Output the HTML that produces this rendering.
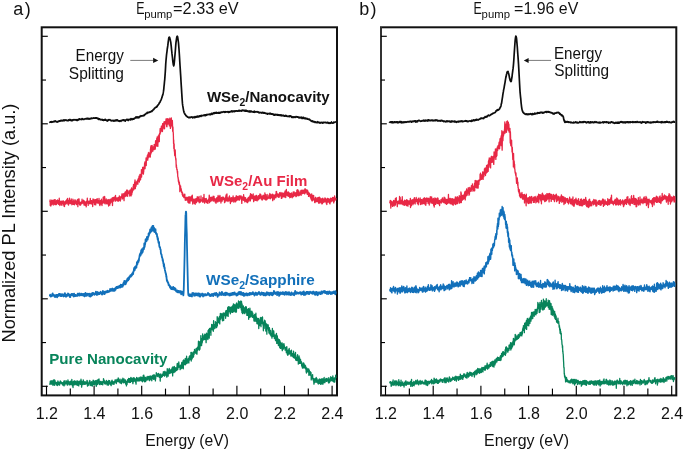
<!DOCTYPE html>
<html><head><meta charset="utf-8"><style>
html,body{margin:0;padding:0;background:#fff;width:685px;height:452px;overflow:hidden}
svg{display:block;will-change:transform}
</style></head><body>
<svg width="685" height="452" viewBox="0 0 685 452">
<rect width="685" height="452" fill="#fff"/>
<style>
text { font-family: "Liberation Sans", sans-serif; fill:#111; }
.tk { font-size: 16px; }
.lb { font-size: 15.7px; }
.bd { font-size: 15.3px; font-weight: bold; }
</style>
<rect x="41.7" y="27.3" width="295.3" height="368.1" fill="none" stroke="#111" stroke-width="2"/>
<rect x="381" y="27.3" width="295.3" height="368.1" fill="none" stroke="#111" stroke-width="2"/>
<line x1="381" y1="27.3" x2="381" y2="395.4" stroke="#333" stroke-width="2"/>
<line x1="42" y1="36.30" x2="47.8" y2="36.30" stroke="#000" stroke-width="1.15"/>
<line x1="42" y1="80.05" x2="46.0" y2="80.05" stroke="#000" stroke-width="1.15"/>
<line x1="42" y1="123.80" x2="47.8" y2="123.80" stroke="#000" stroke-width="1.15"/>
<line x1="42" y1="167.55" x2="46.0" y2="167.55" stroke="#000" stroke-width="1.15"/>
<line x1="42" y1="211.30" x2="47.8" y2="211.30" stroke="#000" stroke-width="1.15"/>
<line x1="42" y1="255.05" x2="46.0" y2="255.05" stroke="#000" stroke-width="1.15"/>
<line x1="42" y1="298.80" x2="47.8" y2="298.80" stroke="#000" stroke-width="1.15"/>
<line x1="42" y1="342.55" x2="46.0" y2="342.55" stroke="#000" stroke-width="1.15"/>
<line x1="42" y1="386.30" x2="47.8" y2="386.30" stroke="#000" stroke-width="1.15"/>
<line x1="46.50" y1="395.3" x2="46.50" y2="385.8" stroke="#000" stroke-width="1.15"/>
<line x1="70.30" y1="395.3" x2="70.30" y2="388.6" stroke="#000" stroke-width="1.15"/>
<line x1="94.10" y1="395.3" x2="94.10" y2="385.8" stroke="#000" stroke-width="1.15"/>
<line x1="117.90" y1="395.3" x2="117.90" y2="388.6" stroke="#000" stroke-width="1.15"/>
<line x1="141.70" y1="395.3" x2="141.70" y2="385.8" stroke="#000" stroke-width="1.15"/>
<line x1="165.50" y1="395.3" x2="165.50" y2="388.6" stroke="#000" stroke-width="1.15"/>
<line x1="189.30" y1="395.3" x2="189.30" y2="385.8" stroke="#000" stroke-width="1.15"/>
<line x1="213.10" y1="395.3" x2="213.10" y2="388.6" stroke="#000" stroke-width="1.15"/>
<line x1="236.90" y1="395.3" x2="236.90" y2="385.8" stroke="#000" stroke-width="1.15"/>
<line x1="260.70" y1="395.3" x2="260.70" y2="388.6" stroke="#000" stroke-width="1.15"/>
<line x1="284.50" y1="395.3" x2="284.50" y2="385.8" stroke="#000" stroke-width="1.15"/>
<line x1="308.30" y1="395.3" x2="308.30" y2="388.6" stroke="#000" stroke-width="1.15"/>
<line x1="332.10" y1="395.3" x2="332.10" y2="385.8" stroke="#000" stroke-width="1.15"/>
<line x1="381" y1="36.30" x2="386.8" y2="36.30" stroke="#000" stroke-width="1.15"/>
<line x1="381" y1="80.05" x2="385.0" y2="80.05" stroke="#000" stroke-width="1.15"/>
<line x1="381" y1="123.80" x2="386.8" y2="123.80" stroke="#000" stroke-width="1.15"/>
<line x1="381" y1="167.55" x2="385.0" y2="167.55" stroke="#000" stroke-width="1.15"/>
<line x1="381" y1="211.30" x2="386.8" y2="211.30" stroke="#000" stroke-width="1.15"/>
<line x1="381" y1="255.05" x2="385.0" y2="255.05" stroke="#000" stroke-width="1.15"/>
<line x1="381" y1="298.80" x2="386.8" y2="298.80" stroke="#000" stroke-width="1.15"/>
<line x1="381" y1="342.55" x2="385.0" y2="342.55" stroke="#000" stroke-width="1.15"/>
<line x1="381" y1="386.30" x2="386.8" y2="386.30" stroke="#000" stroke-width="1.15"/>
<line x1="385.50" y1="395.3" x2="385.50" y2="385.8" stroke="#000" stroke-width="1.15"/>
<line x1="409.35" y1="395.3" x2="409.35" y2="388.6" stroke="#000" stroke-width="1.15"/>
<line x1="433.20" y1="395.3" x2="433.20" y2="385.8" stroke="#000" stroke-width="1.15"/>
<line x1="457.05" y1="395.3" x2="457.05" y2="388.6" stroke="#000" stroke-width="1.15"/>
<line x1="480.90" y1="395.3" x2="480.90" y2="385.8" stroke="#000" stroke-width="1.15"/>
<line x1="504.75" y1="395.3" x2="504.75" y2="388.6" stroke="#000" stroke-width="1.15"/>
<line x1="528.60" y1="395.3" x2="528.60" y2="385.8" stroke="#000" stroke-width="1.15"/>
<line x1="552.45" y1="395.3" x2="552.45" y2="388.6" stroke="#000" stroke-width="1.15"/>
<line x1="576.30" y1="395.3" x2="576.30" y2="385.8" stroke="#000" stroke-width="1.15"/>
<line x1="600.15" y1="395.3" x2="600.15" y2="388.6" stroke="#000" stroke-width="1.15"/>
<line x1="624.00" y1="395.3" x2="624.00" y2="385.8" stroke="#000" stroke-width="1.15"/>
<line x1="647.85" y1="395.3" x2="647.85" y2="388.6" stroke="#000" stroke-width="1.15"/>
<line x1="671.70" y1="395.3" x2="671.70" y2="385.8" stroke="#000" stroke-width="1.15"/>
<text x="46.8" y="418.7" text-anchor="middle" class="tk">1.2</text>
<text x="94.4" y="418.7" text-anchor="middle" class="tk">1.4</text>
<text x="142.0" y="418.7" text-anchor="middle" class="tk">1.6</text>
<text x="189.6" y="418.7" text-anchor="middle" class="tk">1.8</text>
<text x="237.2" y="418.7" text-anchor="middle" class="tk">2.0</text>
<text x="284.8" y="418.7" text-anchor="middle" class="tk">2.2</text>
<text x="332.4" y="418.7" text-anchor="middle" class="tk">2.4</text>
<text x="385.8" y="418.7" text-anchor="middle" class="tk">1.2</text>
<text x="433.5" y="418.7" text-anchor="middle" class="tk">1.4</text>
<text x="481.2" y="418.7" text-anchor="middle" class="tk">1.6</text>
<text x="528.9" y="418.7" text-anchor="middle" class="tk">1.8</text>
<text x="576.6" y="418.7" text-anchor="middle" class="tk">2.0</text>
<text x="624.3" y="418.7" text-anchor="middle" class="tk">2.2</text>
<text x="672.0" y="418.7" text-anchor="middle" class="tk">2.4</text>
<path d="M49.50,122.0 49.75,122.3 50.00,122.2 50.25,121.8 50.50,121.8 50.75,121.8 51.00,122.1 51.25,122.0 51.50,122.2 51.75,121.6 52.00,122.3 52.25,121.9 52.50,122.0 52.75,121.8 53.00,121.8 53.25,121.7 53.50,121.8 53.75,121.5 54.00,121.4 54.25,121.6 54.50,121.2 54.75,121.2 55.00,121.5 55.25,121.3 55.50,121.0 55.75,121.4 56.00,121.5 56.25,121.5 56.50,121.5 56.75,121.9 57.00,122.1 57.25,122.0 57.50,121.7 57.75,121.9 58.00,121.6 58.25,121.3 58.50,121.5 58.75,121.5 59.00,121.1 59.25,120.8 59.50,120.9 59.75,120.9 60.00,121.1 60.25,120.7 60.50,120.9 60.75,120.6 61.00,120.4 61.25,120.7 61.50,120.8 61.75,120.4 62.00,120.8 62.25,120.6 62.50,120.6 62.75,120.6 63.00,120.8 63.25,120.2 63.50,120.7 63.75,120.6 64.00,119.9 64.25,120.4 64.50,120.3 64.75,120.5 65.00,120.0 65.25,120.0 65.50,120.1 65.75,119.9 66.00,120.3 66.25,120.4 66.50,120.4 66.75,120.2 67.00,120.6 67.25,120.5 67.50,120.5 67.75,120.6 68.00,120.6 68.25,120.7 68.50,119.8 68.75,120.4 69.00,120.1 69.25,120.0 69.50,119.8 69.75,120.0 70.00,119.5 70.25,120.2 70.50,120.4 70.75,119.8 71.00,120.1 71.25,120.0 71.50,120.3 71.75,120.6 72.00,120.8 72.25,119.9 72.50,120.0 72.75,120.1 73.00,120.3 73.25,120.0 73.50,119.7 73.75,119.9 74.00,119.8 74.25,119.9 74.50,119.7 74.75,119.8 75.00,119.9 75.25,119.9 75.50,120.0 75.75,119.7 76.00,119.8 76.25,120.2 76.50,120.0 76.75,119.7 77.00,120.5 77.25,120.2 77.50,120.4 77.75,119.8 78.00,119.6 78.25,119.4 78.50,119.8 78.75,119.8 79.00,119.0 79.25,119.0 79.50,119.3 79.75,118.9 80.00,119.1 80.25,119.1 80.50,119.3 80.75,119.4 81.00,119.3 81.25,119.5 81.50,119.1 81.75,119.2 82.00,118.6 82.25,118.7 82.50,119.3 82.75,118.9 83.00,119.1 83.25,119.1 83.50,119.4 83.75,119.3 84.00,119.4 84.25,119.1 84.50,119.0 84.75,118.8 85.00,118.9 85.25,118.7 85.50,118.8 85.75,118.9 86.00,119.0 86.25,118.8 86.50,118.4 86.75,118.7 87.00,118.7 87.25,118.9 87.50,118.8 87.75,118.4 88.00,118.2 88.25,118.9 88.50,118.7 88.75,119.0 89.00,119.2 89.25,118.6 89.50,118.6 89.75,118.7 90.00,118.9 90.25,118.9 90.50,118.8 90.75,118.7 91.00,118.2 91.25,118.5 91.50,118.1 91.75,118.4 92.00,118.2 92.25,118.3 92.50,118.3 92.75,118.1 93.00,118.1 93.25,118.0 93.50,117.8 93.75,118.1 94.00,118.0 94.25,118.2 94.50,118.2 94.75,118.2 95.00,117.8 95.25,118.2 95.50,117.8 95.75,118.0 96.00,118.0 96.25,117.9 96.50,118.1 96.75,118.0 97.00,117.9 97.25,118.1 97.50,118.7 97.75,118.7 98.00,118.6 98.25,119.0 98.50,118.5 98.75,119.4 99.00,118.8 99.25,119.5 99.50,119.5 99.75,119.0 100.00,119.5 100.25,119.4 100.50,119.4 100.75,119.6 101.00,119.9 101.25,119.6 101.50,119.7 101.75,119.6 102.00,119.7 102.25,119.5 102.50,120.0 102.75,119.8 103.00,119.9 103.25,120.1 103.50,120.4 103.75,120.2 104.00,119.9 104.25,120.2 104.50,119.7 104.75,119.9 105.00,120.0 105.25,119.3 105.50,120.0 105.75,119.9 106.00,120.1 106.25,120.0 106.50,120.2 106.75,120.3 107.00,120.8 107.25,121.0 107.50,120.7 107.75,120.8 108.00,120.3 108.25,119.7 108.50,120.1 108.75,120.0 109.00,119.9 109.25,119.9 109.50,120.0 109.75,119.7 110.00,119.7 110.25,120.2 110.50,120.3 110.75,120.3 111.00,120.6 111.25,120.9 111.50,120.5 111.75,120.7 112.00,120.7 112.25,120.6 112.50,120.6 112.75,120.3 113.00,120.6 113.25,121.0 113.50,120.6 113.75,120.4 114.00,120.6 114.25,120.8 114.50,120.7 114.75,120.4 115.00,121.0 115.25,120.3 115.50,120.5 115.75,120.4 116.00,120.0 116.25,120.5 116.50,120.3 116.75,120.0 117.00,120.6 117.25,120.3 117.50,120.0 117.75,120.5 118.00,120.8 118.25,120.8 118.50,120.8 118.75,120.8 119.00,121.1 119.25,120.9 119.50,121.3 119.75,121.1 120.00,120.9 120.25,121.0 120.50,120.7 120.75,120.9 121.00,121.3 121.25,120.6 121.50,120.5 121.75,120.5 122.00,120.2 122.25,120.4 122.50,120.2 122.75,120.4 123.00,119.8 123.25,120.4 123.50,120.3 123.75,119.9 124.00,120.3 124.25,120.2 124.50,120.3 124.75,120.1 125.00,120.4 125.25,121.1 125.50,120.0 125.75,120.2 126.00,119.9 126.25,120.0 126.50,119.5 126.75,119.7 127.00,119.9 127.25,119.7 127.50,120.0 127.75,119.5 128.00,119.8 128.25,120.5 128.50,119.6 128.75,119.5 129.00,119.5 129.25,119.5 129.50,119.6 129.75,119.5 130.00,119.1 130.25,119.3 130.50,119.9 130.75,119.7 131.00,118.6 131.25,119.1 131.50,118.8 131.75,119.3 132.00,119.0 132.25,119.5 132.50,119.1 132.75,119.0 133.00,118.7 133.25,118.8 133.50,118.9 133.75,119.2 134.00,118.7 134.25,118.3 134.50,118.6 134.75,118.2 135.00,118.0 135.25,117.8 135.50,117.6 135.75,117.5 136.00,116.9 136.25,117.8 136.50,117.7 136.75,117.5 137.00,117.8 137.25,117.6 137.50,117.5 137.75,116.9 138.00,117.3 138.25,117.6 138.50,117.7 138.75,117.8 139.00,117.6 139.25,116.8 139.50,116.5 139.75,116.9 140.00,116.6 140.25,116.7 140.50,116.2 140.75,116.3 141.00,115.7 141.25,116.1 141.50,115.9 141.75,116.0 142.00,116.0 142.25,115.7 142.50,116.0 142.75,115.9 143.00,115.9 143.25,115.8 143.50,115.4 143.75,115.2 144.00,115.5 144.25,115.0 144.50,115.2 144.75,114.8 145.00,114.4 145.25,114.1 145.50,114.2 145.75,113.9 146.00,113.9 146.25,113.4 146.50,113.3 146.75,113.2 147.00,113.4 147.25,112.4 147.50,112.9 147.75,112.6 148.00,112.7 148.25,112.4 148.50,112.4 148.75,112.7 149.00,112.5 149.25,112.4 149.50,112.3 149.75,111.9 150.00,112.1 150.25,111.9 150.50,111.7 150.75,111.8 151.00,111.6 151.25,111.6 151.50,111.2 151.75,111.0 152.00,111.3 152.25,111.0 152.50,110.7 152.75,110.4 153.00,110.0 153.25,109.7 153.50,109.5 153.75,109.6 154.00,109.1 154.25,108.5 154.50,108.6 154.75,108.1 155.00,108.1 155.25,107.7 155.50,107.4 155.75,107.5 156.00,107.2 156.25,106.8 156.50,107.1 156.75,107.1 157.00,106.0 157.25,106.5 157.50,105.6 157.75,105.4 158.00,105.1 158.25,104.6 158.50,104.7 158.75,104.2 159.00,103.6 159.25,103.2 159.50,102.5 159.75,102.5 160.00,102.4 160.25,101.3 160.50,100.9 160.75,100.6 161.00,100.0 161.25,99.4 161.50,98.7 161.75,98.0 162.00,97.4 162.25,96.3 162.50,95.6 162.75,94.9 163.00,94.0 163.25,92.7 163.50,91.2 163.75,89.3 164.00,86.5 164.25,84.4 164.50,81.5 164.75,79.3 165.00,75.9 165.25,72.5 165.50,68.4 165.75,63.6 166.00,60.5 166.25,57.9 166.50,55.1 166.75,53.2 167.00,51.3 167.25,49.0 167.50,47.5 167.75,45.9 168.00,43.8 168.25,41.7 168.50,40.0 168.75,38.1 169.00,37.3 169.25,37.1 169.50,37.2 169.75,38.2 170.00,38.8 170.25,39.6 170.50,41.1 170.75,42.2 171.00,44.3 171.25,46.3 171.50,49.1 171.75,51.4 172.00,53.9 172.25,55.8 172.50,58.0 172.75,60.6 173.00,62.7 173.25,64.2 173.50,65.2 173.75,65.9 174.00,64.9 174.25,62.8 174.50,60.4 174.75,57.3 175.00,54.7 175.25,51.7 175.50,48.5 175.75,45.1 176.00,42.3 176.25,40.7 176.50,38.9 176.75,37.3 177.00,36.5 177.25,36.1 177.50,36.5 177.75,37.7 178.00,39.3 178.25,41.2 178.50,43.0 178.75,46.2 179.00,49.2 179.25,53.0 179.50,56.8 179.75,61.2 180.00,65.2 180.25,69.0 180.50,73.1 180.75,76.8 181.00,81.2 181.25,85.4 181.50,89.1 181.75,93.3 182.00,97.1 182.25,100.7 182.50,103.9 182.75,105.7 183.00,107.2 183.25,108.6 183.50,110.1 183.75,111.3 184.00,112.3 184.25,113.1 184.50,113.1 184.75,113.9 185.00,114.2 185.25,114.3 185.50,114.8 185.75,115.3 186.00,115.5 186.25,116.0 186.50,116.0 186.75,116.2 187.00,116.6 187.25,116.7 187.50,116.9 187.75,117.2 188.00,117.1 188.25,117.2 188.50,117.3 188.75,117.7 189.00,117.7 189.25,117.7 189.50,117.7 189.75,117.2 190.00,117.3 190.25,117.5 190.50,117.3 190.75,117.0 191.00,117.0 191.25,117.0 191.50,117.1 191.75,116.9 192.00,117.1 192.25,117.5 192.50,117.3 192.75,117.8 193.00,117.5 193.25,117.2 193.50,117.4 193.75,117.2 194.00,117.6 194.25,117.1 194.50,117.7 194.75,117.5 195.00,116.5 195.25,117.2 195.50,117.4 195.75,116.8 196.00,117.2 196.25,116.6 196.50,117.0 196.75,116.6 197.00,116.8 197.25,116.5 197.50,116.2 197.75,116.7 198.00,117.1 198.25,116.3 198.50,116.6 198.75,116.3 199.00,116.1 199.25,116.3 199.50,116.5 199.75,115.8 200.00,116.3 200.25,116.0 200.50,115.7 200.75,116.2 201.00,116.4 201.25,115.6 201.50,116.1 201.75,115.4 202.00,115.5 202.25,115.7 202.50,115.5 202.75,115.5 203.00,115.6 203.25,115.5 203.50,115.3 203.75,115.0 204.00,115.1 204.25,115.5 204.50,115.0 204.75,115.3 205.00,115.1 205.25,115.1 205.50,114.9 205.75,115.6 206.00,114.8 206.25,114.8 206.50,114.8 206.75,115.1 207.00,114.3 207.25,114.5 207.50,114.5 207.75,114.7 208.00,114.6 208.25,114.4 208.50,114.4 208.75,114.3 209.00,114.4 209.25,114.4 209.50,114.1 209.75,114.2 210.00,114.3 210.25,114.8 210.50,114.1 210.75,114.3 211.00,114.4 211.25,113.5 211.50,113.4 211.75,113.6 212.00,113.9 212.25,114.3 212.50,113.6 212.75,113.8 213.00,113.4 213.25,112.9 213.50,112.9 213.75,113.7 214.00,113.4 214.25,113.0 214.50,113.3 214.75,112.7 215.00,113.2 215.25,113.2 215.50,112.6 215.75,112.7 216.00,113.0 216.25,112.4 216.50,113.0 216.75,112.8 217.00,113.2 217.25,113.1 217.50,112.9 217.75,112.8 218.00,112.9 218.25,112.5 218.50,113.0 218.75,112.8 219.00,113.1 219.25,112.7 219.50,113.2 219.75,112.9 220.00,112.5 220.25,113.0 220.50,112.9 220.75,112.4 221.00,112.2 221.25,112.1 221.50,112.0 221.75,112.1 222.00,112.4 222.25,112.1 222.50,112.1 222.75,112.0 223.00,111.8 223.25,112.0 223.50,112.0 223.75,111.7 224.00,111.7 224.25,112.2 224.50,111.8 224.75,111.8 225.00,112.3 225.25,111.9 225.50,111.7 225.75,112.1 226.00,111.8 226.25,111.9 226.50,112.0 226.75,112.0 227.00,111.8 227.25,111.9 227.50,111.7 227.75,112.1 228.00,111.8 228.25,111.7 228.50,112.3 228.75,111.9 229.00,112.3 229.25,112.2 229.50,111.8 229.75,111.6 230.00,111.9 230.25,111.8 230.50,111.8 230.75,111.5 231.00,111.7 231.25,111.7 231.50,111.0 231.75,111.5 232.00,111.2 232.25,111.0 232.50,111.1 232.75,111.8 233.00,111.6 233.25,111.0 233.50,111.4 233.75,111.5 234.00,111.5 234.25,111.3 234.50,111.0 234.75,111.5 235.00,111.1 235.25,111.0 235.50,111.0 235.75,110.9 236.00,111.2 236.25,111.0 236.50,110.9 236.75,110.9 237.00,111.0 237.25,111.2 237.50,111.2 237.75,111.0 238.00,110.9 238.25,110.8 238.50,110.9 238.75,110.5 239.00,111.1 239.25,110.4 239.50,110.4 239.75,110.9 240.00,110.8 240.25,110.9 240.50,110.9 240.75,110.6 241.00,110.9 241.25,111.0 241.50,110.6 241.75,111.1 242.00,110.4 242.25,110.2 242.50,110.3 242.75,110.2 243.00,110.4 243.25,110.3 243.50,110.6 243.75,110.3 244.00,110.3 244.25,110.4 244.50,110.6 244.75,111.0 245.00,110.7 245.25,110.3 245.50,111.1 245.75,110.3 246.00,110.4 246.25,111.2 246.50,111.2 246.75,110.7 247.00,110.9 247.25,111.0 247.50,111.4 247.75,111.2 248.00,111.2 248.25,111.4 248.50,111.7 248.75,111.1 249.00,111.4 249.25,111.0 249.50,111.9 249.75,112.0 250.00,111.8 250.25,111.5 250.50,111.8 250.75,111.1 251.00,111.7 251.25,111.2 251.50,111.4 251.75,111.7 252.00,111.8 252.25,112.0 252.50,112.0 252.75,111.9 253.00,111.7 253.25,112.1 253.50,112.0 253.75,112.2 254.00,111.6 254.25,111.2 254.50,111.6 254.75,112.3 255.00,111.9 255.25,111.7 255.50,112.0 255.75,112.0 256.00,112.0 256.25,111.9 256.50,112.0 256.75,111.9 257.00,111.6 257.25,111.6 257.50,112.1 257.75,112.1 258.00,112.1 258.25,112.1 258.50,112.0 258.75,112.6 259.00,112.3 259.25,112.5 259.50,112.8 259.75,112.3 260.00,112.4 260.25,112.6 260.50,112.7 260.75,112.5 261.00,112.6 261.25,112.7 261.50,112.6 261.75,113.0 262.00,112.8 262.25,112.4 262.50,112.9 262.75,112.6 263.00,112.8 263.25,112.9 263.50,112.6 263.75,113.1 264.00,112.6 264.25,112.8 264.50,112.9 264.75,113.2 265.00,113.1 265.25,113.0 265.50,113.2 265.75,113.3 266.00,113.5 266.25,113.3 266.50,113.7 266.75,113.7 267.00,113.8 267.25,113.6 267.50,114.2 267.75,113.5 268.00,113.7 268.25,113.6 268.50,113.7 268.75,113.7 269.00,113.8 269.25,113.9 269.50,113.5 269.75,113.9 270.00,113.6 270.25,113.8 270.50,113.4 270.75,113.5 271.00,113.8 271.25,114.1 271.50,114.0 271.75,113.9 272.00,114.2 272.25,114.0 272.50,113.8 272.75,114.3 273.00,114.4 273.25,114.7 273.50,114.9 273.75,114.2 274.00,115.1 274.25,114.8 274.50,114.7 274.75,114.6 275.00,115.1 275.25,114.6 275.50,114.5 275.75,114.8 276.00,114.4 276.25,114.8 276.50,114.8 276.75,114.7 277.00,114.8 277.25,114.6 277.50,115.1 277.75,114.6 278.00,115.1 278.25,114.8 278.50,115.2 278.75,114.9 279.00,115.3 279.25,115.2 279.50,114.9 279.75,115.1 280.00,115.4 280.25,115.5 280.50,114.9 280.75,114.9 281.00,115.2 281.25,115.4 281.50,115.2 281.75,115.2 282.00,115.8 282.25,115.7 282.50,115.7 282.75,115.3 283.00,115.4 283.25,115.5 283.50,115.3 283.75,115.9 284.00,115.7 284.25,115.6 284.50,116.1 284.75,115.9 285.00,116.0 285.25,116.2 285.50,116.0 285.75,115.4 286.00,115.7 286.25,116.1 286.50,115.8 286.75,115.9 287.00,116.1 287.25,116.4 287.50,116.4 287.75,116.4 288.00,116.3 288.25,116.4 288.50,116.4 288.75,116.1 289.00,116.6 289.25,116.5 289.50,116.0 289.75,116.5 290.00,116.2 290.25,116.4 290.50,116.0 290.75,116.3 291.00,116.4 291.25,116.4 291.50,116.3 291.75,117.4 292.00,117.0 292.25,117.2 292.50,117.3 292.75,117.1 293.00,117.3 293.25,116.9 293.50,117.3 293.75,117.2 294.00,117.3 294.25,117.3 294.50,116.8 294.75,116.8 295.00,117.0 295.25,117.4 295.50,117.3 295.75,117.2 296.00,116.6 296.25,116.5 296.50,116.9 296.75,116.8 297.00,116.9 297.25,117.1 297.50,117.0 297.75,116.8 298.00,116.8 298.25,117.2 298.50,117.3 298.75,117.3 299.00,117.9 299.25,117.4 299.50,117.5 299.75,117.3 300.00,117.4 300.25,117.9 300.50,117.7 300.75,117.5 301.00,117.7 301.25,117.8 301.50,117.4 301.75,117.2 302.00,118.5 302.25,118.2 302.50,118.0 302.75,117.6 303.00,117.8 303.25,118.4 303.50,117.4 303.75,118.0 304.00,118.1 304.25,118.0 304.50,118.3 304.75,118.1 305.00,118.8 305.25,118.1 305.50,118.0 305.75,118.4 306.00,118.8 306.25,118.4 306.50,118.7 306.75,118.6 307.00,118.3 307.25,119.1 307.50,119.0 307.75,119.2 308.00,119.0 308.25,119.0 308.50,119.2 308.75,119.4 309.00,119.4 309.25,119.7 309.50,119.2 309.75,119.9 310.00,120.0 310.25,120.1 310.50,120.2 310.75,120.4 311.00,120.8 311.25,121.1 311.50,121.0 311.75,121.1 312.00,121.5 312.25,121.4 312.50,121.0 312.75,121.6 313.00,121.4 313.25,121.8 313.50,121.5 313.75,121.8 314.00,121.8 314.25,121.9 314.50,121.9 314.75,121.6 315.00,122.5 315.25,121.8 315.50,122.1 315.75,122.4 316.00,122.4 316.25,122.5 316.50,122.4 316.75,122.6 317.00,122.3 317.25,122.7 317.50,121.7 317.75,122.1 318.00,122.0 318.25,122.0 318.50,122.3 318.75,122.5 319.00,122.1 319.25,122.3 319.50,122.8 319.75,122.9 320.00,123.2 320.25,123.0 320.50,122.8 320.75,122.5 321.00,122.8 321.25,122.6 321.50,122.3 321.75,122.6 322.00,122.5 322.25,122.6 322.50,122.5 322.75,123.1 323.00,123.0 323.25,122.9 323.50,122.4 323.75,122.3 324.00,122.5 324.25,122.5 324.50,122.3 324.75,122.3 325.00,122.6 325.25,122.5 325.50,122.4 325.75,122.7 326.00,122.6 326.25,122.7 326.50,122.6 326.75,122.9 327.00,123.0 327.25,122.7 327.50,122.4 327.75,122.3 328.00,122.6 328.25,122.9 328.50,123.2 328.75,123.0 329.00,122.7 329.25,123.3 329.50,123.2 329.75,123.2 330.00,123.3 330.25,122.9 330.50,122.9 330.75,122.9 331.00,123.1 331.25,122.7 331.50,122.0 331.75,122.6 332.00,122.7 332.25,122.8 332.50,122.8 332.75,123.2 333.00,123.0 333.25,122.8 333.50,122.8 333.75,122.2 334.00,122.5 334.25,122.5 334.50,122.4 334.75,122.4 335.00,122.3 335.25,122.0 335.50,122.2 335.75,122.2 336.00,122.4" fill="none" stroke="#0d0d0d" stroke-width="1.7" stroke-linejoin="round"/><path d="M49.80,200.9 49.95,201.6 50.10,200.0 50.25,205.6 50.40,202.9 50.55,201.4 50.70,201.2 50.85,206.1 51.00,205.7 51.15,201.1 51.30,202.8 51.45,203.9 51.60,200.2 51.75,201.1 51.90,204.3 52.05,201.2 52.20,201.6 52.35,200.3 52.50,201.3 52.65,203.4 52.80,201.1 52.95,200.4 53.10,201.4 53.25,205.0 53.40,202.4 53.55,201.2 53.70,202.5 53.85,203.2 54.00,202.6 54.15,199.6 54.30,202.9 54.45,202.0 54.60,204.1 54.75,200.6 54.90,204.5 55.05,201.8 55.20,199.6 55.35,204.6 55.50,201.4 55.65,202.8 55.80,202.4 55.95,204.5 56.10,204.6 56.25,204.6 56.40,204.4 56.55,200.7 56.70,200.7 56.85,203.7 57.00,201.6 57.15,203.4 57.30,202.8 57.45,200.0 57.60,200.6 57.75,200.3 57.90,200.5 58.05,201.2 58.20,202.7 58.35,204.0 58.50,200.6 58.65,201.1 58.80,204.4 58.95,203.4 59.10,202.1 59.25,198.2 59.40,200.7 59.55,202.5 59.70,201.3 59.85,205.5 60.00,202.6 60.15,203.3 60.30,201.2 60.45,201.5 60.60,202.1 60.75,202.0 60.90,202.7 61.05,203.7 61.20,203.6 61.35,204.9 61.50,201.2 61.65,203.5 61.80,203.5 61.95,205.3 62.10,202.4 62.25,203.0 62.40,201.3 62.55,203.2 62.70,202.9 62.85,201.0 63.00,201.5 63.15,202.4 63.30,203.7 63.45,201.0 63.60,204.5 63.75,202.5 63.90,206.0 64.05,205.4 64.20,202.2 64.35,201.9 64.50,206.5 64.65,203.4 64.80,203.4 64.95,201.8 65.10,202.4 65.25,203.7 65.40,203.5 65.55,201.2 65.70,204.2 65.85,202.6 66.00,200.7 66.15,203.6 66.30,201.5 66.45,203.1 66.60,201.0 66.75,202.3 66.90,199.3 67.05,202.7 67.20,199.8 67.35,202.6 67.50,198.3 67.65,202.6 67.80,203.7 67.95,203.3 68.10,204.5 68.25,200.6 68.40,205.0 68.55,205.0 68.70,200.3 68.85,201.1 69.00,201.4 69.15,201.9 69.30,202.4 69.45,198.1 69.60,203.2 69.75,201.7 69.90,200.3 70.05,203.6 70.20,201.5 70.35,203.6 70.50,202.8 70.65,201.4 70.80,203.4 70.95,202.7 71.10,200.7 71.25,199.0 71.40,200.7 71.55,202.4 71.70,201.3 71.85,204.8 72.00,202.6 72.15,202.9 72.30,203.4 72.45,201.3 72.60,202.6 72.75,201.9 72.90,199.2 73.05,200.1 73.20,204.4 73.35,202.5 73.50,202.9 73.65,200.6 73.80,201.9 73.95,204.1 74.10,202.6 74.25,201.7 74.40,204.8 74.55,202.0 74.70,201.4 74.85,204.1 75.00,199.7 75.15,203.2 75.30,200.4 75.45,201.0 75.60,201.0 75.75,202.7 75.90,202.5 76.05,202.7 76.20,202.3 76.35,203.9 76.50,204.5 76.65,203.0 76.80,203.1 76.95,201.3 77.10,200.1 77.25,202.9 77.40,201.9 77.55,203.5 77.70,199.4 77.85,206.7 78.00,200.2 78.15,202.3 78.30,203.9 78.45,199.8 78.60,200.9 78.75,198.8 78.90,199.8 79.05,199.0 79.20,202.4 79.35,203.0 79.50,202.0 79.65,204.7 79.80,205.1 79.95,203.1 80.10,202.8 80.25,202.7 80.40,202.5 80.55,205.2 80.70,203.3 80.85,202.4 81.00,202.4 81.15,203.4 81.30,201.8 81.45,202.7 81.60,202.0 81.75,203.8 81.90,203.2 82.05,199.2 82.20,201.2 82.35,202.8 82.50,201.0 82.65,203.1 82.80,202.2 82.95,202.6 83.10,201.8 83.25,202.7 83.40,203.2 83.55,200.2 83.70,200.8 83.85,200.7 84.00,205.0 84.15,202.8 84.30,203.1 84.45,203.0 84.60,201.8 84.75,201.3 84.90,204.0 85.05,202.0 85.20,205.4 85.35,203.4 85.50,203.4 85.65,203.0 85.80,203.1 85.95,203.5 86.10,205.8 86.25,206.8 86.40,201.4 86.55,203.4 86.70,203.8 86.85,201.0 87.00,201.1 87.15,201.2 87.30,198.1 87.45,202.6 87.60,201.6 87.75,201.5 87.90,201.6 88.05,202.0 88.20,205.4 88.35,202.2 88.50,203.4 88.65,201.1 88.80,202.8 88.95,201.8 89.10,202.2 89.25,201.1 89.40,201.2 89.55,203.5 89.70,203.8 89.85,203.6 90.00,201.6 90.15,203.2 90.30,198.3 90.45,203.6 90.60,201.9 90.75,202.3 90.90,203.6 91.05,201.1 91.20,203.0 91.35,200.6 91.50,202.2 91.65,200.7 91.80,201.8 91.95,204.1 92.10,200.8 92.25,200.7 92.40,201.2 92.55,202.5 92.70,206.5 92.85,201.2 93.00,198.9 93.15,201.1 93.30,199.5 93.45,201.5 93.60,202.5 93.75,200.6 93.90,201.0 94.05,199.3 94.20,202.7 94.35,201.6 94.50,204.7 94.65,204.5 94.80,201.0 94.95,201.9 95.10,202.8 95.25,203.7 95.40,199.7 95.55,202.2 95.70,204.9 95.85,201.8 96.00,202.1 96.15,201.5 96.30,199.4 96.45,202.8 96.60,201.7 96.75,201.4 96.90,202.5 97.05,202.9 97.20,198.6 97.35,202.3 97.50,200.8 97.65,202.1 97.80,200.6 97.95,200.5 98.10,203.3 98.25,201.6 98.40,201.2 98.55,201.3 98.70,202.0 98.85,202.0 99.00,198.4 99.15,201.1 99.30,202.0 99.45,203.7 99.60,204.8 99.75,201.0 99.90,205.6 100.05,202.7 100.20,203.1 100.35,201.2 100.50,200.7 100.65,204.1 100.80,201.3 100.95,201.2 101.10,203.1 101.25,204.2 101.40,199.2 101.55,201.1 101.70,201.3 101.85,204.5 102.00,205.5 102.15,201.4 102.30,202.3 102.45,203.1 102.60,203.2 102.75,200.8 102.90,202.8 103.05,200.3 103.20,197.2 103.35,199.4 103.50,202.0 103.65,202.9 103.80,197.9 103.95,198.7 104.10,201.4 104.25,196.3 104.40,202.6 104.55,203.2 104.70,196.6 104.85,202.7 105.00,201.1 105.15,203.9 105.30,202.1 105.45,201.3 105.60,201.6 105.75,202.7 105.90,201.5 106.05,201.3 106.20,198.8 106.35,201.9 106.50,201.1 106.65,203.8 106.80,200.9 106.95,200.9 107.10,200.4 107.25,202.6 107.40,200.7 107.55,200.0 107.70,203.7 107.85,204.1 108.00,200.7 108.15,199.8 108.30,203.2 108.45,200.2 108.60,206.0 108.75,201.3 108.90,203.1 109.05,199.3 109.20,201.4 109.35,203.2 109.50,202.2 109.65,200.7 109.80,205.2 109.95,202.2 110.10,200.7 110.25,200.0 110.40,200.7 110.55,203.1 110.70,199.3 110.85,200.3 111.00,198.8 111.15,202.2 111.30,200.0 111.45,201.6 111.60,200.8 111.75,199.2 111.90,201.1 112.05,201.4 112.20,197.9 112.35,201.0 112.50,205.5 112.65,199.1 112.80,200.8 112.95,197.6 113.10,200.3 113.25,198.5 113.40,200.8 113.55,199.6 113.70,197.5 113.85,201.2 114.00,198.9 114.15,197.4 114.30,199.4 114.45,197.3 114.60,199.4 114.75,198.7 114.90,198.0 115.05,199.7 115.20,196.6 115.35,200.3 115.50,195.3 115.65,201.2 115.80,199.2 115.95,198.7 116.10,197.8 116.25,199.8 116.40,198.6 116.55,198.3 116.70,200.2 116.85,197.8 117.00,198.1 117.15,199.2 117.30,200.3 117.45,198.3 117.60,198.8 117.75,198.6 117.90,199.8 118.05,201.4 118.20,197.3 118.35,198.5 118.50,198.3 118.65,199.4 118.80,200.7 118.95,198.1 119.10,198.5 119.25,200.2 119.40,195.8 119.55,196.5 119.70,197.1 119.85,198.0 120.00,198.4 120.15,197.2 120.30,201.0 120.45,196.8 120.60,197.3 120.75,199.6 120.90,198.8 121.05,197.2 121.20,197.4 121.35,197.7 121.50,196.3 121.65,197.6 121.80,194.7 121.95,196.7 122.10,193.7 122.25,195.0 122.40,194.5 122.55,198.9 122.70,196.2 122.85,197.5 123.00,195.1 123.15,196.2 123.30,195.7 123.45,194.8 123.60,197.8 123.75,193.6 123.90,197.4 124.05,200.7 124.20,194.4 124.35,196.0 124.50,193.1 124.65,196.1 124.80,192.9 124.95,196.7 125.10,194.4 125.25,191.8 125.40,192.7 125.55,191.9 125.70,194.1 125.85,196.2 126.00,193.9 126.15,192.2 126.30,192.5 126.45,194.4 126.60,190.1 126.75,195.3 126.90,195.1 127.05,189.8 127.20,195.9 127.35,190.9 127.50,193.5 127.65,196.3 127.80,191.3 127.95,190.6 128.10,192.1 128.25,191.8 128.40,193.6 128.55,192.9 128.70,193.0 128.85,193.0 129.00,193.2 129.15,191.9 129.30,193.7 129.45,192.8 129.60,190.9 129.75,196.0 129.90,190.2 130.05,193.5 130.20,190.6 130.35,192.5 130.50,192.1 130.65,193.0 130.80,193.9 130.95,189.5 131.10,195.9 131.25,191.4 131.40,188.7 131.55,187.8 131.70,194.6 131.85,193.4 132.00,190.1 132.15,191.4 132.30,192.3 132.45,190.0 132.60,188.8 132.75,189.7 132.90,190.7 133.05,188.8 133.20,186.4 133.35,189.7 133.50,184.5 133.65,186.2 133.80,189.7 133.95,187.4 134.10,187.2 134.25,186.8 134.40,188.5 134.55,185.9 134.70,182.0 134.85,186.3 135.00,179.9 135.15,181.5 135.30,188.6 135.45,186.8 135.60,183.8 135.75,184.3 135.90,184.5 136.05,186.1 136.20,182.4 136.35,181.9 136.50,182.0 136.65,183.2 136.80,183.4 136.95,182.1 137.10,184.2 137.25,180.8 137.40,182.4 137.55,181.0 137.70,180.0 137.85,184.2 138.00,180.6 138.15,179.1 138.30,180.7 138.45,178.1 138.60,180.7 138.75,180.8 138.90,180.9 139.05,176.1 139.20,178.1 139.35,182.0 139.50,177.6 139.65,180.2 139.80,180.6 139.95,174.3 140.10,179.7 140.25,178.5 140.40,178.4 140.55,179.7 140.70,176.6 140.85,175.5 141.00,176.5 141.15,173.9 141.30,175.5 141.45,169.6 141.60,177.0 141.75,171.9 141.90,173.8 142.05,172.9 142.20,171.8 142.35,171.8 142.50,171.4 142.65,167.3 142.80,169.4 142.95,173.2 143.10,168.2 143.25,167.2 143.40,174.1 143.55,172.0 143.70,171.9 143.85,168.5 144.00,168.7 144.15,169.1 144.30,168.1 144.45,166.4 144.60,163.2 144.75,164.6 144.90,162.0 145.05,168.7 145.20,163.3 145.35,163.5 145.50,164.4 145.65,163.3 145.80,164.1 145.95,160.9 146.10,157.9 146.25,165.5 146.40,159.4 146.55,159.3 146.70,158.3 146.85,158.3 147.00,159.0 147.15,160.0 147.30,155.6 147.45,159.4 147.60,156.3 147.75,160.2 147.90,154.3 148.05,156.8 148.20,158.1 148.35,152.8 148.50,155.7 148.65,155.3 148.80,152.4 148.95,154.0 149.10,156.8 149.25,154.9 149.40,153.2 149.55,153.3 149.70,154.8 149.85,156.9 150.00,156.1 150.15,155.6 150.30,157.1 150.45,149.1 150.60,148.9 150.75,146.7 150.90,153.9 151.05,145.7 151.20,151.2 151.35,152.5 151.50,146.8 151.65,148.8 151.80,149.3 151.95,151.7 152.10,145.3 152.25,149.9 152.40,151.0 152.55,149.0 152.70,148.6 152.85,151.2 153.00,148.0 153.15,147.5 153.30,146.8 153.45,149.3 153.60,147.1 153.75,149.4 153.90,147.6 154.05,149.7 154.20,144.3 154.35,146.1 154.50,146.4 154.65,145.8 154.80,147.6 154.95,145.2 155.10,146.4 155.25,149.1 155.40,146.5 155.55,141.3 155.70,140.6 155.85,145.8 156.00,142.9 156.15,144.1 156.30,142.6 156.45,146.2 156.60,145.6 156.75,138.5 156.90,141.7 157.05,139.7 157.20,136.8 157.35,141.7 157.50,139.9 157.65,141.3 157.80,146.4 157.95,143.0 158.10,142.0 158.25,137.9 158.40,135.6 158.55,141.8 158.70,137.0 158.85,137.1 159.00,134.7 159.15,135.5 159.30,141.7 159.45,134.1 159.60,133.4 159.75,134.2 159.90,134.3 160.05,130.2 160.20,128.5 160.35,132.2 160.50,132.9 160.65,130.5 160.80,129.4 160.95,129.2 161.10,130.3 161.25,130.9 161.40,126.1 161.55,128.8 161.70,131.0 161.85,129.6 162.00,126.0 162.15,128.3 162.30,129.4 162.45,131.5 162.60,123.6 162.75,129.7 162.90,125.3 163.05,126.9 163.20,128.2 163.35,123.4 163.50,124.2 163.65,126.0 163.80,128.1 163.95,124.2 164.10,121.7 164.25,124.4 164.40,127.1 164.55,128.8 164.70,124.1 164.85,123.9 165.00,124.1 165.15,123.7 165.30,121.3 165.45,122.6 165.60,123.8 165.75,123.3 165.90,122.6 166.05,118.9 166.20,119.9 166.35,119.0 166.50,124.7 166.65,126.4 166.80,122.6 166.95,126.8 167.10,121.5 167.25,121.7 167.40,118.7 167.55,123.9 167.70,122.0 167.85,123.5 168.00,124.1 168.15,122.1 168.30,118.9 168.45,121.9 168.60,121.8 168.75,122.3 168.90,123.5 169.05,120.3 169.20,119.7 169.35,125.9 169.50,124.0 169.65,120.8 169.80,118.1 169.95,119.6 170.10,121.8 170.25,123.6 170.40,128.4 170.55,120.8 170.70,121.9 170.85,120.1 171.00,121.2 171.15,119.7 171.30,117.8 171.45,124.1 171.60,122.0 171.75,126.0 171.90,121.7 172.05,125.1 172.20,127.1 172.35,120.5 172.50,123.7 172.65,131.2 172.80,131.0 172.95,127.0 173.10,131.9 173.25,132.5 173.40,135.8 173.55,143.5 173.70,140.0 173.85,148.6 174.00,143.8 174.15,144.0 174.30,151.3 174.45,151.0 174.60,153.4 174.75,155.6 174.90,154.3 175.05,155.7 175.20,149.8 175.35,153.3 175.50,157.6 175.65,158.0 175.80,160.3 175.95,158.7 176.10,163.7 176.25,167.1 176.40,164.8 176.55,166.9 176.70,167.7 176.85,169.7 177.00,169.3 177.15,169.3 177.30,171.8 177.45,173.2 177.60,171.3 177.75,176.4 177.90,176.8 178.05,178.1 178.20,177.7 178.35,180.8 178.50,181.8 178.65,180.0 178.80,182.3 178.95,183.4 179.10,184.3 179.25,181.8 179.40,182.5 179.55,185.4 179.70,184.3 179.85,191.7 180.00,186.2 180.15,187.0 180.30,190.3 180.45,188.7 180.60,185.9 180.75,190.2 180.90,188.9 181.05,190.3 181.20,188.6 181.35,190.2 181.50,192.2 181.65,192.6 181.80,191.1 181.95,192.3 182.10,192.4 182.25,194.7 182.40,194.3 182.55,192.7 182.70,196.2 182.85,194.0 183.00,196.2 183.15,194.1 183.30,196.3 183.45,195.9 183.60,196.1 183.75,197.0 183.90,197.6 184.05,197.3 184.20,197.7 184.35,195.4 184.50,197.5 184.65,194.2 184.80,194.1 184.95,197.3 185.10,197.7 185.25,200.2 185.40,198.9 185.55,199.6 185.70,197.7 185.85,199.2 186.00,200.3 186.15,199.7 186.30,199.9 186.45,199.5 186.60,197.8 186.75,197.8 186.90,197.1 187.05,199.9 187.20,198.7 187.35,198.0 187.50,199.7 187.65,198.0 187.80,200.7 187.95,202.3 188.10,199.9 188.25,198.3 188.40,197.1 188.55,202.9 188.70,200.4 188.85,197.7 189.00,201.3 189.15,196.6 189.30,198.6 189.45,199.2 189.60,198.9 189.75,197.7 189.90,203.3 190.05,198.8 190.20,199.8 190.35,199.3 190.50,196.9 190.65,198.8 190.80,199.9 190.95,200.9 191.10,198.9 191.25,200.2 191.40,199.0 191.55,200.7 191.70,195.9 191.85,200.9 192.00,198.8 192.15,199.1 192.30,195.2 192.45,198.1 192.60,200.9 192.75,204.0 192.90,199.0 193.05,198.9 193.20,200.7 193.35,200.6 193.50,199.1 193.65,200.2 193.80,199.6 193.95,201.3 194.10,201.6 194.25,203.4 194.40,202.0 194.55,201.8 194.70,201.0 194.85,202.5 195.00,199.0 195.15,204.3 195.30,201.3 195.45,203.0 195.60,199.2 195.75,202.2 195.90,201.0 196.05,199.7 196.20,198.8 196.35,198.6 196.50,202.7 196.65,201.7 196.80,200.0 196.95,200.2 197.10,198.7 197.25,196.7 197.40,197.1 197.55,198.8 197.70,199.5 197.85,198.2 198.00,201.3 198.15,200.6 198.30,200.1 198.45,197.4 198.60,200.0 198.75,200.0 198.90,198.0 199.05,196.5 199.20,202.8 199.35,200.7 199.50,199.2 199.65,202.0 199.80,201.0 199.95,199.9 200.10,199.6 200.25,200.8 200.40,202.0 200.55,200.1 200.70,200.0 200.85,201.3 201.00,196.0 201.15,200.6 201.30,199.6 201.45,200.4 201.60,200.1 201.75,200.9 201.90,200.4 202.05,200.2 202.20,200.0 202.35,201.2 202.50,199.7 202.65,202.2 202.80,197.6 202.95,200.5 203.10,200.9 203.25,197.8 203.40,198.9 203.55,201.9 203.70,199.3 203.85,198.0 204.00,194.4 204.15,200.0 204.30,199.8 204.45,200.6 204.60,203.2 204.75,200.0 204.90,199.8 205.05,198.6 205.20,199.8 205.35,200.2 205.50,201.4 205.65,201.0 205.80,198.7 205.95,199.0 206.10,202.1 206.25,198.4 206.40,201.2 206.55,202.7 206.70,201.1 206.85,200.5 207.00,202.5 207.15,201.1 207.30,200.5 207.45,200.5 207.60,202.9 207.75,202.1 207.90,203.4 208.05,200.0 208.20,200.0 208.35,199.7 208.50,200.5 208.65,199.0 208.80,201.2 208.95,200.2 209.10,198.1 209.25,195.1 209.40,197.3 209.55,202.7 209.70,200.5 209.85,201.0 210.00,200.2 210.15,201.5 210.30,197.4 210.45,197.4 210.60,197.8 210.75,200.2 210.90,201.2 211.05,200.4 211.20,199.3 211.35,197.1 211.50,200.8 211.65,199.2 211.80,199.4 211.95,199.0 212.10,198.4 212.25,198.2 212.40,198.4 212.55,197.2 212.70,199.9 212.85,199.2 213.00,200.8 213.15,196.2 213.30,201.2 213.45,199.1 213.60,198.5 213.75,197.7 213.90,197.7 214.05,196.5 214.20,200.5 214.35,198.9 214.50,200.7 214.65,201.1 214.80,198.9 214.95,199.6 215.10,199.7 215.25,202.2 215.40,200.8 215.55,200.7 215.70,201.5 215.85,199.9 216.00,203.3 216.15,198.3 216.30,202.0 216.45,202.0 216.60,197.8 216.75,201.2 216.90,200.2 217.05,200.9 217.20,197.4 217.35,199.8 217.50,197.9 217.65,199.2 217.80,202.0 217.95,199.1 218.10,195.5 218.25,196.8 218.40,197.7 218.55,201.2 218.70,198.2 218.85,196.6 219.00,200.7 219.15,198.9 219.30,199.2 219.45,197.3 219.60,201.2 219.75,198.5 219.90,195.3 220.05,197.0 220.20,197.6 220.35,198.9 220.50,200.5 220.65,197.8 220.80,198.4 220.95,203.0 221.10,199.5 221.25,198.9 221.40,199.7 221.55,197.5 221.70,200.2 221.85,201.1 222.00,198.8 222.15,201.2 222.30,198.9 222.45,200.0 222.60,198.0 222.75,197.9 222.90,196.8 223.05,199.5 223.20,198.6 223.35,198.7 223.50,197.5 223.65,197.4 223.80,197.9 223.95,199.7 224.10,199.5 224.25,198.1 224.40,200.0 224.55,202.6 224.70,199.8 224.85,202.5 225.00,200.0 225.15,201.5 225.30,198.3 225.45,201.1 225.60,197.0 225.75,199.0 225.90,197.5 226.05,195.0 226.20,196.2 226.35,200.2 226.50,199.4 226.65,200.9 226.80,199.1 226.95,194.0 227.10,199.6 227.25,198.7 227.40,198.7 227.55,199.1 227.70,198.4 227.85,198.0 228.00,201.5 228.15,200.0 228.30,198.3 228.45,198.6 228.60,200.7 228.75,199.4 228.90,198.8 229.05,196.8 229.20,198.0 229.35,196.9 229.50,196.0 229.65,200.8 229.80,198.7 229.95,198.9 230.10,198.3 230.25,201.2 230.40,203.5 230.55,201.0 230.70,201.5 230.85,198.0 231.00,199.8 231.15,199.6 231.30,201.6 231.45,199.3 231.60,197.7 231.75,199.1 231.90,198.5 232.05,201.5 232.20,200.0 232.35,199.7 232.50,199.8 232.65,200.7 232.80,198.4 232.95,197.7 233.10,196.0 233.25,200.9 233.40,200.1 233.55,200.5 233.70,199.6 233.85,202.2 234.00,197.9 234.15,201.7 234.30,198.3 234.45,199.1 234.60,197.9 234.75,200.1 234.90,199.5 235.05,200.8 235.20,198.9 235.35,197.4 235.50,200.6 235.65,201.8 235.80,200.4 235.95,198.9 236.10,199.5 236.25,195.7 236.40,197.9 236.55,200.5 236.70,199.4 236.85,197.0 237.00,199.6 237.15,198.4 237.30,200.0 237.45,196.3 237.60,197.6 237.75,199.3 237.90,199.3 238.05,199.5 238.20,198.4 238.35,198.1 238.50,199.1 238.65,199.8 238.80,196.1 238.95,198.3 239.10,198.1 239.25,198.9 239.40,200.2 239.55,196.6 239.70,199.6 239.85,195.7 240.00,197.1 240.15,197.5 240.30,198.0 240.45,197.5 240.60,197.6 240.75,198.0 240.90,198.2 241.05,195.9 241.20,196.6 241.35,198.6 241.50,200.1 241.65,200.6 241.80,203.4 241.95,198.6 242.10,197.2 242.25,198.9 242.40,199.9 242.55,199.4 242.70,197.1 242.85,198.4 243.00,198.6 243.15,196.5 243.30,196.6 243.45,200.3 243.60,194.6 243.75,198.2 243.90,197.2 244.05,199.9 244.20,199.1 244.35,197.1 244.50,200.4 244.65,197.6 244.80,201.9 244.95,201.3 245.10,198.6 245.25,200.2 245.40,199.5 245.55,197.6 245.70,200.8 245.85,199.9 246.00,200.7 246.15,201.0 246.30,201.8 246.45,201.3 246.60,199.4 246.75,199.8 246.90,200.3 247.05,199.5 247.20,199.2 247.35,202.7 247.50,200.6 247.65,202.7 247.80,198.1 247.95,199.0 248.10,198.1 248.25,197.8 248.40,197.6 248.55,198.2 248.70,197.7 248.85,201.1 249.00,199.0 249.15,196.8 249.30,197.5 249.45,199.6 249.60,199.4 249.75,197.3 249.90,199.6 250.05,195.5 250.20,197.2 250.35,200.9 250.50,193.6 250.65,197.2 250.80,199.2 250.95,197.2 251.10,196.5 251.25,196.4 251.40,194.5 251.55,195.8 251.70,198.0 251.85,197.2 252.00,198.1 252.15,198.0 252.30,198.7 252.45,195.1 252.60,197.1 252.75,197.0 252.90,197.0 253.05,196.0 253.20,194.0 253.35,198.7 253.50,198.7 253.65,201.7 253.80,199.0 253.95,201.0 254.10,198.9 254.25,197.5 254.40,199.1 254.55,196.1 254.70,198.5 254.85,197.9 255.00,196.1 255.15,200.0 255.30,199.7 255.45,198.9 255.60,199.0 255.75,200.4 255.90,197.6 256.05,195.5 256.20,196.3 256.35,198.8 256.50,198.1 256.65,195.4 256.80,200.1 256.95,198.3 257.10,200.9 257.25,199.7 257.40,197.1 257.55,198.0 257.70,196.9 257.85,196.6 258.00,197.0 258.15,198.2 258.30,199.8 258.45,195.6 258.60,198.4 258.75,197.2 258.90,196.5 259.05,198.3 259.20,195.8 259.35,198.8 259.50,196.1 259.65,194.9 259.80,197.9 259.95,194.0 260.10,194.7 260.25,196.7 260.40,197.4 260.55,197.2 260.70,194.3 260.85,195.4 261.00,198.8 261.15,198.7 261.30,196.4 261.45,198.4 261.60,198.3 261.75,199.4 261.90,196.2 262.05,200.1 262.20,197.0 262.35,199.7 262.50,198.7 262.65,195.8 262.80,197.1 262.95,197.9 263.10,199.1 263.25,195.1 263.40,196.4 263.55,198.4 263.70,198.3 263.85,195.7 264.00,195.6 264.15,197.8 264.30,195.4 264.45,197.6 264.60,198.8 264.75,197.4 264.90,192.9 265.05,199.4 265.20,199.5 265.35,199.8 265.50,199.1 265.65,194.7 265.80,199.8 265.95,197.8 266.10,198.9 266.25,196.9 266.40,196.8 266.55,196.7 266.70,199.8 266.85,197.2 267.00,196.2 267.15,194.5 267.30,197.6 267.45,196.9 267.60,197.4 267.75,198.9 267.90,198.4 268.05,197.3 268.20,197.8 268.35,197.6 268.50,198.2 268.65,198.2 268.80,197.1 268.95,195.1 269.10,197.9 269.25,198.0 269.40,194.7 269.55,197.2 269.70,195.9 269.85,193.3 270.00,196.9 270.15,198.8 270.30,195.8 270.45,195.9 270.60,198.6 270.75,194.7 270.90,195.3 271.05,196.3 271.20,197.8 271.35,197.6 271.50,195.4 271.65,195.8 271.80,196.2 271.95,195.5 272.10,194.9 272.25,194.1 272.40,197.3 272.55,195.6 272.70,200.7 272.85,196.8 273.00,194.3 273.15,195.8 273.30,196.2 273.45,196.1 273.60,196.3 273.75,196.2 273.90,195.5 274.05,197.0 274.20,199.6 274.35,195.1 274.50,195.3 274.65,197.1 274.80,198.1 274.95,197.1 275.10,197.5 275.25,195.1 275.40,194.5 275.55,196.0 275.70,196.0 275.85,197.6 276.00,197.7 276.15,191.5 276.30,196.0 276.45,193.8 276.60,191.6 276.75,196.1 276.90,195.0 277.05,195.0 277.20,193.6 277.35,194.2 277.50,196.2 277.65,194.0 277.80,196.5 277.95,196.8 278.10,196.1 278.25,197.1 278.40,196.5 278.55,194.1 278.70,194.2 278.85,195.8 279.00,197.4 279.15,195.9 279.30,194.7 279.45,196.2 279.60,192.7 279.75,194.2 279.90,195.4 280.05,195.7 280.20,195.2 280.35,195.1 280.50,193.4 280.65,194.6 280.80,195.9 280.95,192.5 281.10,193.4 281.25,195.2 281.40,198.4 281.55,197.0 281.70,198.3 281.85,198.1 282.00,194.8 282.15,195.1 282.30,193.0 282.45,196.8 282.60,195.9 282.75,195.6 282.90,195.7 283.05,195.5 283.20,194.6 283.35,194.8 283.50,196.7 283.65,193.4 283.80,193.1 283.95,194.9 284.10,197.0 284.25,195.6 284.40,194.6 284.55,196.8 284.70,195.7 284.85,191.8 285.00,193.2 285.15,190.8 285.30,193.9 285.45,193.2 285.60,194.6 285.75,197.5 285.90,192.9 286.05,194.0 286.20,193.5 286.35,189.3 286.50,193.2 286.65,193.3 286.80,195.1 286.95,193.0 287.10,192.4 287.25,195.5 287.40,194.0 287.55,192.5 287.70,192.7 287.85,193.4 288.00,195.3 288.15,196.2 288.30,191.8 288.45,196.0 288.60,194.2 288.75,195.1 288.90,196.4 289.05,193.2 289.20,196.3 289.35,192.8 289.50,194.5 289.65,193.7 289.80,197.8 289.95,197.5 290.10,195.9 290.25,195.4 290.40,193.4 290.55,197.4 290.70,196.9 290.85,195.8 291.00,194.2 291.15,194.0 291.30,194.5 291.45,196.9 291.60,192.9 291.75,194.8 291.90,197.3 292.05,196.0 292.20,197.8 292.35,195.3 292.50,194.9 292.65,196.4 292.80,195.1 292.95,194.9 293.10,193.6 293.25,191.9 293.40,196.7 293.55,193.2 293.70,192.8 293.85,195.9 294.00,192.8 294.15,191.8 294.30,193.1 294.45,194.0 294.60,194.3 294.75,194.9 294.90,195.6 295.05,193.9 295.20,194.6 295.35,193.9 295.50,192.8 295.65,194.4 295.80,194.1 295.95,196.6 296.10,194.6 296.25,192.3 296.40,194.4 296.55,193.1 296.70,196.1 296.85,190.2 297.00,192.1 297.15,191.9 297.30,193.2 297.45,192.6 297.60,190.2 297.75,189.6 297.90,192.9 298.05,195.4 298.20,195.7 298.35,192.6 298.50,194.2 298.65,192.0 298.80,190.9 298.95,195.6 299.10,194.6 299.25,193.0 299.40,193.0 299.55,195.1 299.70,193.8 299.85,192.8 300.00,193.8 300.15,193.3 300.30,192.2 300.45,191.8 300.60,194.4 300.75,191.6 300.90,190.3 301.05,195.3 301.20,194.2 301.35,193.2 301.50,192.4 301.65,193.2 301.80,190.2 301.95,192.8 302.10,193.2 302.25,192.5 302.40,193.7 302.55,191.9 302.70,193.5 302.85,190.2 303.00,192.6 303.15,191.4 303.30,190.1 303.45,191.8 303.60,192.3 303.75,191.1 303.90,193.3 304.05,190.3 304.20,193.1 304.35,192.8 304.50,190.2 304.65,193.9 304.80,188.9 304.95,192.4 305.10,191.5 305.25,193.0 305.40,188.8 305.55,189.4 305.70,190.1 305.85,192.0 306.00,192.1 306.15,192.1 306.30,191.6 306.45,190.9 306.60,189.8 306.75,191.3 306.90,193.0 307.05,194.0 307.20,191.6 307.35,194.3 307.50,190.1 307.65,194.0 307.80,191.0 307.95,193.5 308.10,191.9 308.25,192.1 308.40,193.1 308.55,196.4 308.70,193.0 308.85,195.6 309.00,194.9 309.15,195.3 309.30,195.4 309.45,195.9 309.60,193.2 309.75,195.4 309.90,196.1 310.05,194.9 310.20,196.6 310.35,194.6 310.50,197.7 310.65,195.5 310.80,196.6 310.95,198.4 311.10,199.2 311.25,197.0 311.40,197.0 311.55,199.6 311.70,193.8 311.85,200.6 312.00,200.8 312.15,197.2 312.30,200.9 312.45,199.6 312.60,199.6 312.75,195.3 312.90,198.9 313.05,199.5 313.20,199.3 313.35,199.6 313.50,199.5 313.65,195.4 313.80,199.8 313.95,199.1 314.10,200.4 314.25,199.6 314.40,200.1 314.55,200.3 314.70,202.5 314.85,198.7 315.00,202.7 315.15,199.3 315.30,198.2 315.45,197.3 315.60,201.0 315.75,197.3 315.90,201.6 316.05,201.0 316.20,199.1 316.35,198.8 316.50,201.2 316.65,200.9 316.80,201.7 316.95,200.4 317.10,199.2 317.25,200.9 317.40,197.9 317.55,201.4 317.70,200.5 317.85,198.5 318.00,198.5 318.15,199.7 318.30,197.4 318.45,202.8 318.60,202.1 318.75,199.2 318.90,200.7 319.05,203.4 319.20,201.4 319.35,199.3 319.50,197.1 319.65,197.8 319.80,202.3 319.95,200.9 320.10,197.8 320.25,201.2 320.40,199.5 320.55,199.1 320.70,198.9 320.85,199.4 321.00,202.9 321.15,198.8 321.30,199.7 321.45,202.9 321.60,203.0 321.75,199.2 321.90,203.9 322.05,202.5 322.20,198.4 322.35,203.7 322.50,198.5 322.65,202.2 322.80,198.8 322.95,198.3 323.10,202.6 323.25,201.9 323.40,201.2 323.55,201.3 323.70,200.9 323.85,200.6 324.00,199.3 324.15,202.0 324.30,200.8 324.45,200.1 324.60,199.5 324.75,199.8 324.90,198.0 325.05,199.8 325.20,198.5 325.35,201.9 325.50,198.3 325.65,199.1 325.80,199.8 325.95,201.3 326.10,200.9 326.25,200.1 326.40,203.6 326.55,200.1 326.70,200.7 326.85,204.6 327.00,199.0 327.15,202.3 327.30,201.3 327.45,198.4 327.60,199.5 327.75,202.2 327.90,198.3 328.05,200.5 328.20,202.1 328.35,199.8 328.50,200.5 328.65,199.1 328.80,198.9 328.95,199.0 329.10,199.3 329.25,201.0 329.40,200.3 329.55,203.3 329.70,201.4 329.85,200.8 330.00,203.9 330.15,200.0 330.30,198.8 330.45,200.3 330.60,198.1 330.75,200.3 330.90,201.8 331.05,200.6 331.20,198.9 331.35,199.2 331.50,200.3 331.65,201.1 331.80,198.5 331.95,198.3 332.10,200.8 332.25,199.5 332.40,199.4 332.55,199.5 332.70,197.4 332.85,198.6 333.00,200.8 333.15,199.0 333.30,199.0 333.45,199.7 333.60,199.6 333.75,202.9 333.90,197.4 334.05,198.9 334.20,201.7 334.35,198.3 334.50,198.8 334.65,195.9 334.80,199.9 334.95,199.8 335.10,199.9 335.25,198.3 335.40,199.2 335.55,198.5 335.70,200.0 335.85,198.4 336.00,199.6" fill="none" stroke="#e82846" stroke-width="1.3" stroke-linejoin="round"/><path d="M49.80,294.8 49.98,295.7 50.16,294.6 50.34,295.1 50.52,295.5 50.70,296.5 50.88,295.2 51.06,295.5 51.24,295.3 51.42,295.2 51.60,296.3 51.78,295.4 51.96,296.0 52.14,295.4 52.32,293.9 52.50,294.2 52.68,293.4 52.86,295.6 53.04,295.1 53.22,294.6 53.40,295.0 53.58,295.1 53.76,295.3 53.94,295.7 54.12,295.6 54.30,295.1 54.48,296.6 54.66,296.5 54.84,295.5 55.02,297.1 55.20,297.0 55.38,296.1 55.56,296.4 55.74,295.5 55.92,295.6 56.10,294.8 56.28,295.6 56.46,296.7 56.64,295.7 56.82,295.0 57.00,297.3 57.18,297.1 57.36,296.9 57.54,294.8 57.72,296.3 57.90,295.0 58.08,295.1 58.26,295.5 58.44,295.9 58.62,294.4 58.80,294.7 58.98,293.8 59.16,294.6 59.34,293.9 59.52,294.3 59.70,295.5 59.88,295.0 60.06,295.1 60.24,294.9 60.42,295.5 60.60,296.1 60.78,294.4 60.96,294.0 61.14,295.5 61.32,295.4 61.50,295.8 61.68,295.6 61.86,296.1 62.04,295.3 62.22,294.5 62.40,295.7 62.58,294.3 62.76,294.3 62.94,295.2 63.12,295.0 63.30,295.8 63.48,295.0 63.66,296.5 63.84,294.4 64.02,295.5 64.20,294.9 64.38,296.2 64.56,294.8 64.74,295.6 64.92,293.1 65.10,294.6 65.28,295.8 65.46,295.0 65.64,295.3 65.82,296.0 66.00,296.8 66.18,294.6 66.36,295.4 66.54,295.2 66.72,296.3 66.90,295.7 67.08,294.7 67.26,294.5 67.44,295.7 67.62,295.4 67.80,295.5 67.98,293.5 68.16,293.8 68.34,293.9 68.52,294.9 68.70,295.1 68.88,294.8 69.06,294.3 69.24,295.1 69.42,295.2 69.60,296.4 69.78,296.9 69.96,295.8 70.14,294.7 70.32,297.2 70.50,295.6 70.68,295.5 70.86,295.3 71.04,295.1 71.22,294.8 71.40,295.0 71.58,293.9 71.76,294.5 71.94,294.8 72.12,295.0 72.30,295.3 72.48,295.4 72.66,293.8 72.84,294.5 73.02,294.5 73.20,295.0 73.38,294.9 73.56,296.5 73.74,294.8 73.92,294.5 74.10,293.7 74.28,296.3 74.46,295.4 74.64,295.2 74.82,294.8 75.00,295.1 75.18,294.9 75.36,296.1 75.54,295.0 75.72,295.0 75.90,294.9 76.08,295.5 76.26,295.3 76.44,295.7 76.62,295.4 76.80,295.6 76.98,295.4 77.16,296.0 77.34,295.8 77.52,295.3 77.70,293.7 77.88,294.4 78.06,294.4 78.24,293.7 78.42,295.1 78.60,295.2 78.78,294.8 78.96,294.7 79.14,295.5 79.32,293.7 79.50,295.6 79.68,293.3 79.86,294.7 80.04,295.0 80.22,295.3 80.40,295.3 80.58,295.0 80.76,294.2 80.94,294.4 81.12,294.3 81.30,295.0 81.48,294.6 81.66,293.7 81.84,295.4 82.02,294.0 82.20,294.7 82.38,294.6 82.56,294.5 82.74,295.4 82.92,294.4 83.10,293.9 83.28,294.6 83.46,294.3 83.64,294.3 83.82,295.8 84.00,295.8 84.18,293.8 84.36,296.0 84.54,296.4 84.72,294.1 84.90,295.1 85.08,294.6 85.26,295.2 85.44,292.9 85.62,295.6 85.80,295.1 85.98,295.5 86.16,295.9 86.34,293.7 86.52,295.2 86.70,295.2 86.88,295.4 87.06,295.6 87.24,295.0 87.42,293.8 87.60,294.6 87.78,293.6 87.96,294.9 88.14,294.4 88.32,294.5 88.50,294.9 88.68,293.9 88.86,295.1 89.04,294.3 89.22,296.1 89.40,296.2 89.58,294.3 89.76,293.7 89.94,295.5 90.12,295.0 90.30,294.6 90.48,296.6 90.66,295.0 90.84,294.5 91.02,295.1 91.20,295.2 91.38,295.9 91.56,294.9 91.74,293.6 91.92,294.1 92.10,295.4 92.28,292.8 92.46,293.8 92.64,294.2 92.82,293.8 93.00,293.7 93.18,292.9 93.36,293.7 93.54,294.1 93.72,294.0 93.90,294.6 94.08,294.0 94.26,294.8 94.44,293.7 94.62,294.2 94.80,293.5 94.98,294.5 95.16,294.1 95.34,293.6 95.52,292.6 95.70,293.5 95.88,291.7 96.06,293.6 96.24,294.0 96.42,293.1 96.60,293.6 96.78,294.2 96.96,295.0 97.14,293.7 97.32,292.7 97.50,292.0 97.68,293.5 97.86,294.1 98.04,294.4 98.22,294.0 98.40,292.8 98.58,292.7 98.76,293.0 98.94,292.8 99.12,293.0 99.30,293.1 99.48,294.1 99.66,292.8 99.84,292.8 100.02,293.3 100.20,293.1 100.38,292.3 100.56,291.8 100.74,292.0 100.92,293.0 101.10,293.4 101.28,293.0 101.46,293.4 101.64,293.9 101.82,292.6 102.00,294.6 102.18,294.6 102.36,293.1 102.54,292.1 102.72,292.1 102.90,290.9 103.08,292.3 103.26,291.9 103.44,292.5 103.62,292.3 103.80,293.9 103.98,292.1 104.16,292.9 104.34,292.8 104.52,294.2 104.70,293.7 104.88,291.6 105.06,292.0 105.24,292.8 105.42,292.3 105.60,292.7 105.78,292.4 105.96,291.4 106.14,291.7 106.32,292.2 106.50,291.8 106.68,291.8 106.86,291.8 107.04,291.2 107.22,292.3 107.40,290.7 107.58,291.6 107.76,291.2 107.94,291.7 108.12,292.1 108.30,291.7 108.48,291.7 108.66,291.6 108.84,291.4 109.02,290.8 109.20,291.7 109.38,291.6 109.56,291.4 109.74,290.8 109.92,290.7 110.10,289.0 110.28,289.7 110.46,290.3 110.64,290.7 110.82,290.8 111.00,289.9 111.18,289.1 111.36,290.2 111.54,290.6 111.72,290.2 111.90,289.3 112.08,288.7 112.26,289.0 112.44,288.6 112.62,290.4 112.80,289.7 112.98,291.0 113.16,290.7 113.34,290.5 113.52,289.3 113.70,290.3 113.88,290.1 114.06,288.9 114.24,289.1 114.42,289.4 114.60,290.8 114.78,289.4 114.96,288.4 115.14,289.2 115.32,289.4 115.50,288.0 115.68,289.8 115.86,287.6 116.04,288.5 116.22,287.9 116.40,286.8 116.58,287.4 116.76,287.5 116.94,287.4 117.12,288.2 117.30,287.8 117.48,286.6 117.66,288.1 117.84,287.2 118.02,287.6 118.20,287.8 118.38,287.4 118.56,287.8 118.74,286.6 118.92,286.1 119.10,287.6 119.28,286.7 119.46,285.8 119.64,286.3 119.82,286.0 120.00,286.5 120.18,285.7 120.36,287.5 120.54,287.2 120.72,284.6 120.90,285.5 121.08,286.3 121.26,285.7 121.44,284.8 121.62,286.8 121.80,285.4 121.98,286.9 122.16,286.3 122.34,286.7 122.52,284.8 122.70,286.7 122.88,284.1 123.06,285.6 123.24,284.7 123.42,284.0 123.60,282.7 123.78,284.7 123.96,283.8 124.14,282.0 124.32,281.0 124.50,282.6 124.68,282.2 124.86,283.7 125.04,283.5 125.22,283.6 125.40,283.0 125.58,284.3 125.76,282.7 125.94,281.7 126.12,280.6 126.30,282.9 126.48,281.7 126.66,280.2 126.84,280.9 127.02,280.7 127.20,281.0 127.38,278.7 127.56,279.9 127.74,280.3 127.92,279.8 128.10,279.7 128.28,280.3 128.46,277.6 128.64,277.5 128.82,279.0 129.00,279.3 129.18,278.2 129.36,277.4 129.54,276.5 129.72,277.6 129.90,276.9 130.08,275.8 130.26,275.9 130.44,275.2 130.62,276.3 130.80,275.5 130.98,276.6 131.16,275.9 131.34,275.0 131.52,275.8 131.70,275.1 131.88,275.4 132.06,273.5 132.24,274.1 132.42,274.6 132.60,273.8 132.78,272.9 132.96,272.7 133.14,274.1 133.32,271.5 133.50,271.1 133.68,271.7 133.86,270.2 134.04,268.7 134.22,267.8 134.40,269.1 134.58,268.5 134.76,270.1 134.94,267.8 135.12,266.7 135.30,266.9 135.48,266.3 135.66,268.3 135.84,266.1 136.02,267.7 136.20,266.8 136.38,267.6 136.56,265.1 136.74,265.4 136.92,262.2 137.10,263.3 137.28,262.6 137.46,264.2 137.64,262.7 137.82,262.7 138.00,261.1 138.18,260.3 138.36,261.2 138.54,261.8 138.72,259.7 138.90,260.7 139.08,258.0 139.26,257.4 139.44,256.7 139.62,256.0 139.80,254.6 139.98,254.4 140.16,253.7 140.34,253.3 140.52,255.5 140.70,254.7 140.88,252.4 141.06,251.8 141.24,250.2 141.42,252.8 141.60,251.3 141.78,253.7 141.96,249.2 142.14,250.9 142.32,251.2 142.50,249.7 142.68,252.2 142.86,250.9 143.04,250.0 143.22,247.8 143.40,249.2 143.58,248.6 143.76,247.8 143.94,249.1 144.12,247.0 144.30,243.3 144.48,245.4 144.66,247.0 144.84,243.6 145.02,245.0 145.20,243.0 145.38,242.9 145.56,239.5 145.74,240.0 145.92,241.1 146.10,240.9 146.28,238.7 146.46,241.2 146.64,240.3 146.82,238.5 147.00,236.9 147.18,239.6 147.36,238.2 147.54,239.7 147.72,239.2 147.90,237.0 148.08,236.8 148.26,237.1 148.44,236.0 148.62,233.3 148.80,235.9 148.98,234.6 149.16,233.3 149.34,234.1 149.52,232.4 149.70,231.8 149.88,233.3 150.06,230.1 150.24,229.3 150.42,230.7 150.60,229.7 150.78,232.0 150.96,230.2 151.14,229.0 151.32,230.6 151.50,227.4 151.68,231.4 151.86,228.9 152.04,229.3 152.22,228.8 152.40,227.8 152.58,225.9 152.76,228.3 152.94,226.8 153.12,226.7 153.30,225.8 153.48,230.5 153.66,229.0 153.84,229.0 154.02,227.7 154.20,231.7 154.38,230.2 154.56,232.0 154.74,230.9 154.92,229.6 155.10,231.8 155.28,229.3 155.46,229.1 155.64,231.2 155.82,232.8 156.00,233.7 156.18,232.9 156.36,233.5 156.54,234.2 156.72,234.1 156.90,233.9 157.08,236.6 157.26,236.1 157.44,236.8 157.62,239.3 157.80,238.4 157.98,238.2 158.16,240.9 158.34,241.0 158.52,243.0 158.70,241.6 158.88,242.5 159.06,242.1 159.24,245.6 159.42,246.6 159.60,247.1 159.78,246.9 159.96,247.3 160.14,247.6 160.32,249.5 160.50,249.5 160.68,249.8 160.86,252.8 161.04,253.9 161.22,254.1 161.40,254.3 161.58,254.6 161.76,256.3 161.94,257.4 162.12,257.0 162.30,258.5 162.48,258.3 162.66,260.8 162.84,259.7 163.02,260.6 163.20,262.2 163.38,263.6 163.56,263.1 163.74,266.1 163.92,265.8 164.10,264.1 164.28,267.3 164.46,268.4 164.64,267.5 164.82,269.4 165.00,270.5 165.18,270.8 165.36,271.9 165.54,273.2 165.72,272.9 165.90,274.5 166.08,274.1 166.26,276.6 166.44,276.1 166.62,278.5 166.80,280.1 166.98,281.0 167.16,280.1 167.34,281.6 167.52,281.3 167.70,282.6 167.88,282.1 168.06,282.3 168.24,283.4 168.42,283.2 168.60,285.2 168.78,285.0 168.96,285.0 169.14,284.9 169.32,285.1 169.50,286.1 169.68,285.6 169.86,286.0 170.04,287.7 170.22,286.3 170.40,286.4 170.58,286.7 170.76,288.4 170.94,287.3 171.12,287.5 171.30,289.1 171.48,289.2 171.66,289.1 171.84,287.7 172.02,288.6 172.20,287.9 172.38,288.7 172.56,287.5 172.74,288.3 172.92,289.3 173.10,288.4 173.28,286.8 173.46,289.3 173.64,288.9 173.82,288.3 174.00,288.6 174.18,288.5 174.36,289.5 174.54,288.8 174.72,287.9 174.90,288.3 175.08,290.1 175.26,290.0 175.44,290.0 175.62,288.9 175.80,290.2 175.98,291.1 176.16,290.5 176.34,291.1 176.52,291.7 176.70,291.8 176.88,291.5 177.06,291.7 177.24,290.5 177.42,290.8 177.60,291.5 177.78,292.4 177.96,291.6 178.14,291.8 178.32,291.3 178.50,290.9 178.68,291.9 178.86,292.4 179.04,291.5 179.22,291.5 179.40,291.8 179.58,291.3 179.76,292.7 179.94,291.2 180.12,292.7 180.30,291.8 180.48,292.3 180.66,291.1 180.84,292.9 181.02,292.9 181.20,294.3 181.38,291.7 181.56,291.7 181.74,293.4 181.92,293.5 182.10,291.7 182.28,293.3 182.46,293.7 182.64,294.0 182.82,293.3 183.00,292.5 183.18,292.3 183.36,295.4 183.54,293.2 183.72,290.2 183.90,284.2 184.08,277.3 184.26,270.4 184.44,262.8 184.62,255.2 184.80,244.7 184.98,236.3 185.16,230.6 185.34,222.9 185.52,215.3 185.70,214.4 185.88,211.7 186.06,211.7 186.24,213.3 186.42,223.3 186.60,228.9 186.78,233.5 186.96,245.1 187.14,252.3 187.32,261.4 187.50,268.0 187.68,275.8 187.86,282.5 188.04,289.7 188.22,293.1 188.40,295.3 188.58,295.1 188.76,295.3 188.94,294.6 189.12,295.3 189.30,296.1 189.48,295.8 189.66,294.4 189.84,294.6 190.02,294.4 190.20,294.7 190.38,295.0 190.56,294.5 190.74,295.5 190.92,296.2 191.10,295.6 191.28,295.3 191.46,295.7 191.64,294.8 191.82,295.7 192.00,296.5 192.18,293.2 192.36,295.1 192.54,294.4 192.72,294.5 192.90,293.8 193.08,293.0 193.26,293.8 193.44,293.8 193.62,293.9 193.80,294.0 193.98,294.0 194.16,295.8 194.34,293.6 194.52,293.9 194.70,293.5 194.88,294.5 195.06,295.6 195.24,294.6 195.42,294.1 195.60,293.4 195.78,294.8 195.96,294.1 196.14,295.4 196.32,294.5 196.50,294.5 196.68,294.7 196.86,293.3 197.04,294.9 197.22,293.6 197.40,294.4 197.58,294.6 197.76,295.6 197.94,294.4 198.12,294.6 198.30,293.5 198.48,294.0 198.66,294.1 198.84,294.7 199.02,293.6 199.20,294.6 199.38,296.5 199.56,294.0 199.74,293.6 199.92,294.6 200.10,295.0 200.28,296.5 200.46,295.6 200.64,295.8 200.82,294.4 201.00,295.0 201.18,295.0 201.36,294.1 201.54,294.9 201.72,294.5 201.90,295.0 202.08,294.0 202.26,293.5 202.44,295.8 202.62,294.6 202.80,294.7 202.98,296.5 203.16,295.6 203.34,295.0 203.52,294.2 203.70,294.7 203.88,294.8 204.06,294.4 204.24,295.6 204.42,295.1 204.60,295.0 204.78,294.1 204.96,294.3 205.14,295.4 205.32,294.9 205.50,294.2 205.68,294.8 205.86,295.0 206.04,294.7 206.22,294.7 206.40,295.3 206.58,294.8 206.76,294.4 206.94,294.4 207.12,295.0 207.30,294.2 207.48,294.6 207.66,294.3 207.84,293.6 208.02,292.8 208.20,293.8 208.38,293.7 208.56,293.8 208.74,294.9 208.92,294.2 209.10,294.2 209.28,294.7 209.46,294.1 209.64,295.8 209.82,294.7 210.00,294.9 210.18,295.1 210.36,296.1 210.54,294.9 210.72,294.6 210.90,295.5 211.08,295.9 211.26,294.5 211.44,295.0 211.62,294.1 211.80,295.6 211.98,294.2 212.16,294.3 212.34,294.4 212.52,294.0 212.70,294.8 212.88,295.5 213.06,294.5 213.24,296.2 213.42,294.6 213.60,294.2 213.78,293.7 213.96,294.0 214.14,294.6 214.32,293.4 214.50,293.4 214.68,293.5 214.86,293.1 215.04,294.8 215.22,294.1 215.40,295.4 215.58,293.3 215.76,293.9 215.94,294.3 216.12,293.7 216.30,292.9 216.48,294.1 216.66,294.6 216.84,293.9 217.02,295.1 217.20,294.0 217.38,295.4 217.56,296.9 217.74,296.1 217.92,296.1 218.10,295.2 218.28,294.8 218.46,295.7 218.64,294.8 218.82,295.5 219.00,294.3 219.18,294.4 219.36,294.2 219.54,292.5 219.72,293.9 219.90,294.3 220.08,294.6 220.26,294.1 220.44,294.4 220.62,293.7 220.80,293.2 220.98,294.3 221.16,295.1 221.34,293.0 221.52,294.3 221.70,293.0 221.88,292.0 222.06,292.4 222.24,292.2 222.42,293.9 222.60,293.4 222.78,293.3 222.96,293.9 223.14,295.1 223.32,294.1 223.50,293.8 223.68,294.8 223.86,294.1 224.04,294.7 224.22,294.8 224.40,293.8 224.58,293.6 224.76,293.9 224.94,292.8 225.12,294.9 225.30,295.3 225.48,293.8 225.66,292.6 225.84,293.4 226.02,293.1 226.20,292.8 226.38,293.8 226.56,293.8 226.74,293.4 226.92,294.8 227.10,293.9 227.28,293.2 227.46,294.4 227.64,293.5 227.82,293.8 228.00,293.9 228.18,294.5 228.36,294.2 228.54,293.8 228.72,294.4 228.90,294.6 229.08,294.8 229.26,295.4 229.44,294.0 229.62,294.7 229.80,295.7 229.98,294.5 230.16,293.3 230.34,295.4 230.52,294.5 230.70,294.6 230.88,294.3 231.06,294.6 231.24,295.1 231.42,294.5 231.60,294.9 231.78,293.1 231.96,293.3 232.14,293.8 232.32,294.9 232.50,293.0 232.68,293.6 232.86,294.1 233.04,293.4 233.22,293.2 233.40,292.8 233.58,294.7 233.76,293.7 233.94,294.6 234.12,294.6 234.30,293.4 234.48,294.3 234.66,292.5 234.84,293.7 235.02,293.5 235.20,294.1 235.38,293.7 235.56,294.0 235.74,294.6 235.92,293.8 236.10,293.6 236.28,293.7 236.46,295.6 236.64,294.0 236.82,294.8 237.00,295.4 237.18,295.2 237.36,294.2 237.54,293.3 237.72,295.1 237.90,293.7 238.08,293.0 238.26,293.5 238.44,293.7 238.62,292.2 238.80,293.4 238.98,293.5 239.16,294.0 239.34,293.9 239.52,293.0 239.70,292.0 239.88,293.3 240.06,293.2 240.24,294.5 240.42,293.3 240.60,293.7 240.78,293.5 240.96,291.9 241.14,293.8 241.32,293.4 241.50,292.6 241.68,294.0 241.86,294.8 242.04,293.7 242.22,293.8 242.40,293.3 242.58,293.8 242.76,295.2 242.94,294.6 243.12,295.1 243.30,295.2 243.48,293.0 243.66,295.4 243.84,295.8 244.02,295.8 244.20,294.5 244.38,295.0 244.56,295.7 244.74,294.9 244.92,294.7 245.10,293.7 245.28,294.4 245.46,295.0 245.64,293.8 245.82,294.7 246.00,294.1 246.18,294.4 246.36,293.5 246.54,293.8 246.72,293.4 246.90,294.8 247.08,295.4 247.26,294.0 247.44,293.7 247.62,294.8 247.80,295.3 247.98,294.6 248.16,294.6 248.34,294.6 248.52,294.4 248.70,293.7 248.88,294.2 249.06,294.3 249.24,293.6 249.42,295.0 249.60,292.9 249.78,293.6 249.96,293.1 250.14,294.7 250.32,294.5 250.50,293.2 250.68,293.8 250.86,293.7 251.04,293.1 251.22,293.7 251.40,294.4 251.58,294.3 251.76,293.2 251.94,293.5 252.12,294.0 252.30,294.1 252.48,293.3 252.66,292.5 252.84,292.1 253.02,293.1 253.20,293.2 253.38,293.0 253.56,293.3 253.74,293.6 253.92,294.5 254.10,294.7 254.28,293.8 254.46,295.6 254.64,295.2 254.82,294.2 255.00,294.4 255.18,294.8 255.36,292.9 255.54,292.7 255.72,292.8 255.90,292.6 256.08,293.7 256.26,293.1 256.44,293.5 256.62,293.8 256.80,293.9 256.98,295.1 257.16,294.4 257.34,293.7 257.52,293.1 257.70,293.3 257.88,294.1 258.06,293.9 258.24,293.8 258.42,292.9 258.60,293.4 258.78,293.1 258.96,291.8 259.14,293.3 259.32,293.5 259.50,293.1 259.68,294.0 259.86,293.5 260.04,293.2 260.22,294.4 260.40,295.0 260.58,293.5 260.76,294.1 260.94,294.5 261.12,294.2 261.30,294.5 261.48,294.5 261.66,292.5 261.84,294.2 262.02,292.9 262.20,293.3 262.38,292.8 262.56,294.1 262.74,292.9 262.92,294.1 263.10,293.0 263.28,295.3 263.46,293.6 263.64,293.8 263.82,293.0 264.00,294.0 264.18,295.2 264.36,294.1 264.54,293.4 264.72,293.9 264.90,294.2 265.08,295.5 265.26,294.1 265.44,294.6 265.62,294.7 265.80,295.3 265.98,294.3 266.16,292.9 266.34,293.1 266.52,294.8 266.70,293.6 266.88,292.2 267.06,293.1 267.24,293.3 267.42,293.6 267.60,294.3 267.78,294.5 267.96,294.6 268.14,292.7 268.32,294.7 268.50,294.3 268.68,293.6 268.86,294.9 269.04,293.3 269.22,293.5 269.40,295.3 269.58,294.5 269.76,294.5 269.94,294.4 270.12,292.7 270.30,294.5 270.48,293.6 270.66,293.9 270.84,294.0 271.02,294.0 271.20,293.5 271.38,294.1 271.56,294.4 271.74,294.8 271.92,292.6 272.10,295.1 272.28,293.6 272.46,295.4 272.64,294.4 272.82,295.0 273.00,293.2 273.18,294.3 273.36,293.2 273.54,293.2 273.72,293.1 273.90,291.0 274.08,291.7 274.26,291.3 274.44,292.8 274.62,292.6 274.80,293.5 274.98,293.5 275.16,294.1 275.34,292.9 275.52,293.4 275.70,293.1 275.88,292.8 276.06,292.4 276.24,293.6 276.42,292.9 276.60,293.1 276.78,292.5 276.96,292.3 277.14,295.2 277.32,293.0 277.50,292.1 277.68,292.7 277.86,293.1 278.04,292.0 278.22,293.9 278.40,292.7 278.58,293.8 278.76,293.3 278.94,293.2 279.12,295.9 279.30,293.2 279.48,292.8 279.66,293.3 279.84,292.6 280.02,294.0 280.20,293.4 280.38,292.3 280.56,294.5 280.74,293.1 280.92,292.6 281.10,294.0 281.28,293.9 281.46,292.8 281.64,293.0 281.82,293.8 282.00,293.3 282.18,293.7 282.36,293.3 282.54,292.2 282.72,292.3 282.90,293.1 283.08,294.4 283.26,292.8 283.44,293.4 283.62,292.5 283.80,293.7 283.98,293.5 284.16,294.0 284.34,293.1 284.52,293.0 284.70,294.8 284.88,293.8 285.06,292.4 285.24,293.7 285.42,292.8 285.60,293.5 285.78,291.8 285.96,292.6 286.14,292.3 286.32,292.1 286.50,292.4 286.68,294.6 286.86,293.6 287.04,293.4 287.22,292.6 287.40,294.4 287.58,294.2 287.76,293.3 287.94,292.3 288.12,293.6 288.30,293.4 288.48,292.3 288.66,294.7 288.84,293.3 289.02,292.2 289.20,292.4 289.38,293.7 289.56,294.3 289.74,294.0 289.92,293.8 290.10,293.4 290.28,295.2 290.46,293.9 290.64,294.4 290.82,294.6 291.00,293.8 291.18,294.5 291.36,294.9 291.54,292.3 291.72,293.4 291.90,294.2 292.08,294.4 292.26,293.2 292.44,294.1 292.62,294.1 292.80,293.9 292.98,293.3 293.16,294.6 293.34,294.7 293.52,294.9 293.70,293.7 293.88,293.2 294.06,294.1 294.24,295.3 294.42,292.9 294.60,292.8 294.78,293.8 294.96,291.8 295.14,290.8 295.32,293.3 295.50,293.7 295.68,293.5 295.86,293.6 296.04,293.4 296.22,292.5 296.40,293.8 296.58,292.7 296.76,292.2 296.94,293.2 297.12,292.6 297.30,292.8 297.48,292.9 297.66,293.3 297.84,293.6 298.02,292.6 298.20,292.8 298.38,293.1 298.56,293.6 298.74,293.5 298.92,293.5 299.10,293.2 299.28,293.3 299.46,293.2 299.64,292.4 299.82,292.7 300.00,292.1 300.18,292.8 300.36,293.5 300.54,292.4 300.72,293.8 300.90,292.5 301.08,294.0 301.26,294.7 301.44,293.4 301.62,293.1 301.80,293.6 301.98,293.0 302.16,292.6 302.34,294.1 302.52,292.1 302.70,293.9 302.88,292.7 303.06,293.8 303.24,292.6 303.42,294.5 303.60,292.6 303.78,291.4 303.96,295.0 304.14,292.8 304.32,292.7 304.50,292.9 304.68,293.0 304.86,293.6 305.04,292.6 305.22,294.9 305.40,293.0 305.58,293.9 305.76,294.4 305.94,293.0 306.12,293.8 306.30,292.5 306.48,291.9 306.66,292.1 306.84,293.5 307.02,293.3 307.20,291.9 307.38,293.1 307.56,292.0 307.74,292.9 307.92,293.7 308.10,291.8 308.28,293.9 308.46,293.2 308.64,292.3 308.82,294.0 309.00,293.9 309.18,294.1 309.36,293.2 309.54,292.6 309.72,291.8 309.90,292.3 310.08,291.6 310.26,292.0 310.44,292.3 310.62,292.6 310.80,292.1 310.98,292.4 311.16,292.1 311.34,293.4 311.52,293.4 311.70,292.3 311.88,292.7 312.06,292.5 312.24,292.5 312.42,292.3 312.60,293.8 312.78,293.5 312.96,291.7 313.14,293.4 313.32,292.8 313.50,291.7 313.68,293.2 313.86,292.7 314.04,293.7 314.22,293.8 314.40,292.9 314.58,294.3 314.76,293.5 314.94,292.7 315.12,292.1 315.30,294.9 315.48,293.1 315.66,293.6 315.84,294.0 316.02,294.4 316.20,292.7 316.38,291.9 316.56,293.8 316.74,292.6 316.92,293.3 317.10,294.8 317.28,293.0 317.46,293.7 317.64,292.5 317.82,295.3 318.00,292.9 318.18,293.4 318.36,293.2 318.54,292.8 318.72,293.9 318.90,292.7 319.08,292.3 319.26,292.5 319.44,292.7 319.62,293.2 319.80,293.1 319.98,292.5 320.16,292.6 320.34,294.2 320.52,293.0 320.70,294.0 320.88,292.5 321.06,293.0 321.24,292.1 321.42,291.3 321.60,292.1 321.78,293.3 321.96,293.7 322.14,293.2 322.32,292.1 322.50,292.2 322.68,291.7 322.86,292.3 323.04,292.3 323.22,291.8 323.40,291.1 323.58,292.0 323.76,291.9 323.94,292.4 324.12,292.1 324.30,292.8 324.48,292.3 324.66,292.1 324.84,290.8 325.02,292.3 325.20,292.1 325.38,291.5 325.56,293.2 325.74,293.0 325.92,292.9 326.10,291.9 326.28,292.0 326.46,292.7 326.64,293.4 326.82,293.8 327.00,292.1 327.18,292.7 327.36,291.6 327.54,292.7 327.72,293.6 327.90,293.3 328.08,294.1 328.26,292.9 328.44,292.1 328.62,291.9 328.80,292.5 328.98,293.5 329.16,291.4 329.34,291.4 329.52,292.3 329.70,292.2 329.88,293.2 330.06,292.3 330.24,292.6 330.42,292.5 330.60,292.9 330.78,294.0 330.96,292.2 331.14,292.1 331.32,292.7 331.50,293.3 331.68,293.4 331.86,293.8 332.04,293.8 332.22,293.5 332.40,292.1 332.58,293.0 332.76,293.3 332.94,291.8 333.12,292.6 333.30,292.6 333.48,293.0 333.66,292.0 333.84,291.4 334.02,292.2 334.20,292.1 334.38,293.1 334.56,292.2 334.74,292.5 334.92,292.5 335.10,292.8 335.28,294.4 335.46,291.2 335.64,293.5 335.82,292.7 336.00,293.2" fill="none" stroke="#1270ba" stroke-width="1.8" stroke-linejoin="round"/><path d="M49.80,384.9 49.95,383.6 50.10,383.0 50.25,381.2 50.40,383.9 50.55,383.2 50.70,383.5 50.85,381.8 51.00,380.9 51.15,381.1 51.30,382.5 51.45,384.1 51.60,382.3 51.75,381.1 51.90,381.7 52.05,381.0 52.20,380.5 52.35,382.5 52.50,382.0 52.65,382.1 52.80,385.2 52.95,383.6 53.10,384.6 53.25,382.3 53.40,383.0 53.55,381.3 53.70,379.9 53.85,380.1 54.00,381.6 54.15,382.7 54.30,385.4 54.45,382.0 54.60,380.0 54.75,381.4 54.90,382.8 55.05,380.6 55.20,381.7 55.35,383.6 55.50,383.1 55.65,383.6 55.80,383.2 55.95,383.0 56.10,384.9 56.25,384.0 56.40,383.1 56.55,383.4 56.70,382.4 56.85,382.4 57.00,382.8 57.15,382.4 57.30,385.5 57.45,382.4 57.60,382.6 57.75,385.2 57.90,381.0 58.05,382.5 58.20,384.1 58.35,382.9 58.50,382.7 58.65,382.1 58.80,383.3 58.95,382.6 59.10,384.6 59.25,384.0 59.40,382.9 59.55,385.1 59.70,382.2 59.85,382.4 60.00,384.0 60.15,383.1 60.30,380.9 60.45,381.6 60.60,382.1 60.75,381.5 60.90,382.8 61.05,382.0 61.20,383.1 61.35,382.6 61.50,383.3 61.65,382.4 61.80,383.8 61.95,383.9 62.10,384.1 62.25,383.7 62.40,382.9 62.55,383.0 62.70,385.0 62.85,383.0 63.00,383.3 63.15,385.2 63.30,384.1 63.45,384.2 63.60,381.9 63.75,381.8 63.90,383.6 64.05,385.9 64.20,380.7 64.35,381.1 64.50,384.3 64.65,383.8 64.80,382.2 64.95,384.9 65.10,383.9 65.25,382.7 65.40,383.4 65.55,382.3 65.70,383.2 65.85,381.5 66.00,380.7 66.15,381.3 66.30,382.7 66.45,383.6 66.60,381.7 66.75,381.3 66.90,383.2 67.05,384.4 67.20,382.5 67.35,385.2 67.50,381.8 67.65,384.6 67.80,383.4 67.95,379.9 68.10,383.1 68.25,382.0 68.40,382.0 68.55,381.4 68.70,382.5 68.85,381.7 69.00,382.9 69.15,384.5 69.30,384.9 69.45,384.5 69.60,384.3 69.75,383.7 69.90,383.2 70.05,381.7 70.20,384.7 70.35,382.7 70.50,383.5 70.65,381.2 70.80,383.7 70.95,384.7 71.10,382.7 71.25,383.9 71.40,382.6 71.55,383.1 71.70,382.1 71.85,379.4 72.00,383.7 72.15,384.2 72.30,384.3 72.45,385.9 72.60,385.0 72.75,384.1 72.90,382.4 73.05,387.6 73.20,381.6 73.35,383.1 73.50,382.7 73.65,384.9 73.80,383.9 73.95,384.1 74.10,381.0 74.25,382.6 74.40,384.8 74.55,382.3 74.70,380.9 74.85,382.8 75.00,381.9 75.15,382.5 75.30,382.8 75.45,381.4 75.60,383.0 75.75,384.7 75.90,382.5 76.05,382.5 76.20,382.3 76.35,383.2 76.50,383.7 76.65,381.9 76.80,382.9 76.95,385.0 77.10,380.6 77.25,384.4 77.40,384.6 77.55,381.3 77.70,381.5 77.85,382.8 78.00,385.4 78.15,382.7 78.30,383.6 78.45,383.3 78.60,383.0 78.75,385.9 78.90,383.5 79.05,381.1 79.20,383.3 79.35,383.8 79.50,381.5 79.65,383.2 79.80,382.2 79.95,381.1 80.10,381.5 80.25,384.1 80.40,382.9 80.55,380.9 80.70,384.4 80.85,382.6 81.00,379.2 81.15,382.1 81.30,380.7 81.45,382.9 81.60,387.2 81.75,386.1 81.90,383.7 82.05,381.9 82.20,381.7 82.35,382.2 82.50,383.3 82.65,384.4 82.80,382.9 82.95,384.5 83.10,382.6 83.25,379.9 83.40,383.5 83.55,384.1 83.70,383.3 83.85,384.2 84.00,381.4 84.15,382.3 84.30,383.0 84.45,383.7 84.60,384.1 84.75,384.4 84.90,382.6 85.05,381.8 85.20,382.5 85.35,383.1 85.50,382.7 85.65,381.8 85.80,384.0 85.95,383.7 86.10,383.9 86.25,383.5 86.40,383.6 86.55,382.4 86.70,382.3 86.85,383.1 87.00,380.4 87.15,383.4 87.30,380.7 87.45,386.1 87.60,385.0 87.75,383.0 87.90,383.6 88.05,382.8 88.20,385.6 88.35,385.2 88.50,383.7 88.65,382.8 88.80,384.1 88.95,383.4 89.10,382.7 89.25,382.1 89.40,380.8 89.55,380.9 89.70,381.9 89.85,380.5 90.00,381.3 90.15,385.5 90.30,383.1 90.45,383.9 90.60,382.2 90.75,385.1 90.90,383.4 91.05,384.0 91.20,384.5 91.35,383.5 91.50,385.6 91.65,381.6 91.80,382.7 91.95,383.6 92.10,382.7 92.25,383.7 92.40,386.0 92.55,382.7 92.70,383.5 92.85,382.0 93.00,381.3 93.15,380.1 93.30,383.6 93.45,384.6 93.60,382.5 93.75,384.4 93.90,380.9 94.05,382.6 94.20,382.7 94.35,384.2 94.50,383.0 94.65,383.6 94.80,385.0 94.95,381.1 95.10,382.4 95.25,383.0 95.40,381.7 95.55,383.7 95.70,380.6 95.85,381.7 96.00,382.8 96.15,380.6 96.30,386.4 96.45,385.8 96.60,385.0 96.75,384.5 96.90,384.2 97.05,382.5 97.20,382.6 97.35,380.0 97.50,384.4 97.65,383.0 97.80,380.4 97.95,382.1 98.10,383.9 98.25,380.9 98.40,382.3 98.55,379.5 98.70,382.0 98.85,382.4 99.00,378.9 99.15,381.3 99.30,383.0 99.45,381.9 99.60,384.4 99.75,384.1 99.90,384.7 100.05,381.3 100.20,381.8 100.35,383.9 100.50,383.8 100.65,382.1 100.80,382.4 100.95,381.4 101.10,381.7 101.25,382.9 101.40,384.4 101.55,383.1 101.70,383.5 101.85,382.7 102.00,383.3 102.15,384.2 102.30,381.6 102.45,384.4 102.60,384.2 102.75,384.8 102.90,383.8 103.05,382.0 103.20,382.1 103.35,382.8 103.50,378.6 103.65,380.8 103.80,381.0 103.95,381.0 104.10,380.4 104.25,380.3 104.40,381.8 104.55,381.4 104.70,383.8 104.85,382.3 105.00,382.4 105.15,383.8 105.30,382.3 105.45,382.3 105.60,384.0 105.75,383.6 105.90,382.1 106.05,380.8 106.20,381.9 106.35,383.5 106.50,380.5 106.65,382.7 106.80,383.1 106.95,381.2 107.10,384.9 107.25,383.0 107.40,381.4 107.55,382.1 107.70,383.6 107.85,385.0 108.00,383.0 108.15,383.0 108.30,382.6 108.45,385.2 108.60,384.4 108.75,380.3 108.90,382.3 109.05,383.1 109.20,382.0 109.35,383.1 109.50,383.0 109.65,380.7 109.80,383.8 109.95,382.5 110.10,384.1 110.25,383.1 110.40,382.7 110.55,384.7 110.70,383.5 110.85,385.0 111.00,383.8 111.15,385.7 111.30,381.5 111.45,382.4 111.60,381.2 111.75,380.8 111.90,382.4 112.05,380.2 112.20,382.0 112.35,383.9 112.50,382.8 112.65,381.2 112.80,381.6 112.95,383.0 113.10,384.3 113.25,382.0 113.40,382.3 113.55,383.4 113.70,382.2 113.85,383.2 114.00,383.0 114.15,384.2 114.30,381.4 114.45,382.2 114.60,382.4 114.75,380.9 114.90,381.3 115.05,382.0 115.20,379.7 115.35,381.0 115.50,380.4 115.65,381.4 115.80,381.5 115.95,381.6 116.10,383.2 116.25,383.6 116.40,383.0 116.55,380.7 116.70,382.1 116.85,379.5 117.00,381.7 117.15,381.5 117.30,379.7 117.45,380.1 117.60,381.3 117.75,381.3 117.90,379.3 118.05,379.0 118.20,377.9 118.35,379.8 118.50,379.7 118.65,380.9 118.80,381.8 118.95,379.0 119.10,379.9 119.25,380.8 119.40,379.7 119.55,381.8 119.70,381.6 119.85,382.6 120.00,382.9 120.15,382.8 120.30,381.5 120.45,382.2 120.60,382.3 120.75,383.1 120.90,379.2 121.05,381.4 121.20,380.7 121.35,382.0 121.50,383.6 121.65,382.4 121.80,382.1 121.95,380.7 122.10,381.7 122.25,381.5 122.40,379.5 122.55,382.2 122.70,380.5 122.85,378.2 123.00,380.9 123.15,381.6 123.30,381.8 123.45,381.6 123.60,381.5 123.75,382.9 123.90,382.5 124.05,378.8 124.20,380.1 124.35,381.0 124.50,380.9 124.65,381.9 124.80,382.4 124.95,381.3 125.10,380.2 125.25,382.8 125.40,379.8 125.55,381.1 125.70,384.1 125.85,382.2 126.00,382.4 126.15,381.6 126.30,383.3 126.45,385.9 126.60,382.3 126.75,381.5 126.90,383.1 127.05,384.4 127.20,382.3 127.35,380.2 127.50,381.5 127.65,379.7 127.80,382.2 127.95,380.7 128.10,381.6 128.25,381.2 128.40,382.0 128.55,378.4 128.70,381.5 128.85,381.3 129.00,381.3 129.15,378.6 129.30,382.5 129.45,379.8 129.60,381.7 129.75,380.1 129.90,380.3 130.05,380.1 130.20,378.3 130.35,379.7 130.50,382.4 130.65,378.7 130.80,380.4 130.95,377.4 131.10,381.4 131.25,378.1 131.40,378.6 131.55,380.2 131.70,381.4 131.85,378.4 132.00,380.0 132.15,381.2 132.30,380.3 132.45,379.5 132.60,381.1 132.75,382.0 132.90,383.6 133.05,381.8 133.20,377.7 133.35,381.8 133.50,381.2 133.65,380.3 133.80,380.8 133.95,381.1 134.10,379.1 134.25,377.9 134.40,379.4 134.55,380.8 134.70,379.3 134.85,379.4 135.00,378.7 135.15,381.5 135.30,379.9 135.45,381.0 135.60,380.1 135.75,382.7 135.90,382.4 136.05,384.2 136.20,379.6 136.35,379.0 136.50,380.1 136.65,377.4 136.80,378.6 136.95,379.9 137.10,379.3 137.25,380.5 137.40,378.2 137.55,378.8 137.70,379.3 137.85,381.0 138.00,381.2 138.15,381.2 138.30,380.0 138.45,378.9 138.60,379.3 138.75,380.0 138.90,377.7 139.05,378.5 139.20,377.3 139.35,380.4 139.50,380.4 139.65,378.6 139.80,381.0 139.95,379.7 140.10,379.6 140.25,380.3 140.40,379.6 140.55,377.7 140.70,377.9 140.85,376.9 141.00,379.7 141.15,379.0 141.30,380.5 141.45,378.0 141.60,377.5 141.75,380.9 141.90,380.5 142.05,377.4 142.20,381.1 142.35,378.6 142.50,381.8 142.65,380.3 142.80,378.7 142.95,379.2 143.10,379.3 143.25,375.5 143.40,380.5 143.55,379.1 143.70,380.4 143.85,375.1 144.00,379.9 144.15,378.9 144.30,377.4 144.45,381.8 144.60,380.0 144.75,377.4 144.90,377.1 145.05,379.2 145.20,381.0 145.35,379.4 145.50,378.4 145.65,381.6 145.80,377.7 145.95,380.2 146.10,379.3 146.25,378.8 146.40,377.8 146.55,377.8 146.70,378.6 146.85,380.0 147.00,377.6 147.15,376.5 147.30,379.6 147.45,379.2 147.60,377.6 147.75,379.3 147.90,377.8 148.05,379.9 148.20,377.3 148.35,376.6 148.50,377.1 148.65,378.1 148.80,377.9 148.95,377.0 149.10,377.3 149.25,376.2 149.40,377.6 149.55,380.6 149.70,377.8 149.85,376.8 150.00,377.2 150.15,377.2 150.30,377.9 150.45,376.4 150.60,379.0 150.75,375.9 150.90,377.2 151.05,379.8 151.20,377.3 151.35,379.3 151.50,376.9 151.65,378.1 151.80,380.8 151.95,376.8 152.10,378.8 152.25,376.0 152.40,377.5 152.55,376.9 152.70,378.1 152.85,376.5 153.00,375.1 153.15,378.6 153.30,377.6 153.45,379.3 153.60,377.4 153.75,377.3 153.90,375.9 154.05,374.6 154.20,376.9 154.35,375.1 154.50,379.1 154.65,379.2 154.80,377.9 154.95,379.1 155.10,377.1 155.25,376.1 155.40,380.9 155.55,376.7 155.70,378.7 155.85,375.2 156.00,376.4 156.15,376.7 156.30,372.7 156.45,373.0 156.60,374.3 156.75,374.8 156.90,375.2 157.05,374.0 157.20,374.3 157.35,374.3 157.50,374.4 157.65,376.5 157.80,375.1 157.95,374.0 158.10,373.7 158.25,374.4 158.40,373.3 158.55,376.0 158.70,376.1 158.85,373.8 159.00,375.1 159.15,375.6 159.30,377.4 159.45,375.2 159.60,375.5 159.75,374.5 159.90,374.5 160.05,375.3 160.20,381.1 160.35,377.8 160.50,376.3 160.65,376.6 160.80,373.8 160.95,374.8 161.10,377.4 161.25,376.1 161.40,377.3 161.55,375.3 161.70,376.1 161.85,375.5 162.00,375.8 162.15,375.7 162.30,376.7 162.45,374.2 162.60,374.8 162.75,374.1 162.90,375.1 163.05,375.7 163.20,374.8 163.35,371.7 163.50,373.1 163.65,373.6 163.80,373.8 163.95,373.1 164.10,373.3 164.25,375.4 164.40,374.9 164.55,376.2 164.70,371.4 164.85,372.3 165.00,371.5 165.15,374.9 165.30,374.3 165.45,372.3 165.60,372.5 165.75,373.8 165.90,375.1 166.05,375.5 166.20,372.2 166.35,374.4 166.50,372.5 166.65,375.4 166.80,377.1 166.95,374.0 167.10,373.7 167.25,368.6 167.40,373.6 167.55,370.2 167.70,371.7 167.85,373.9 168.00,369.8 168.15,376.2 168.30,371.7 168.45,373.7 168.60,371.8 168.75,373.3 168.90,371.0 169.05,372.2 169.20,368.5 169.35,373.5 169.50,372.6 169.65,370.6 169.80,370.6 169.95,369.4 170.10,369.8 170.25,371.5 170.40,371.5 170.55,372.1 170.70,373.1 170.85,372.9 171.00,371.4 171.15,371.6 171.30,370.1 171.45,372.5 171.60,369.2 171.75,369.2 171.90,371.1 172.05,367.9 172.20,369.6 172.35,367.7 172.50,368.7 172.65,375.9 172.80,367.0 172.95,371.2 173.10,368.8 173.25,368.1 173.40,367.5 173.55,370.7 173.70,369.0 173.85,369.8 174.00,372.6 174.15,367.8 174.30,366.4 174.45,370.0 174.60,371.8 174.75,369.8 174.90,371.8 175.05,371.0 175.20,369.6 175.35,367.7 175.50,369.4 175.65,371.2 175.80,369.7 175.95,368.7 176.10,369.3 176.25,368.5 176.40,369.7 176.55,367.6 176.70,370.4 176.85,368.0 177.00,367.3 177.15,364.1 177.30,363.3 177.45,366.1 177.60,365.4 177.75,369.5 177.90,365.0 178.05,364.6 178.20,367.8 178.35,363.3 178.50,366.4 178.65,364.3 178.80,362.0 178.95,363.9 179.10,366.7 179.25,367.1 179.40,366.8 179.55,365.8 179.70,367.3 179.85,367.5 180.00,366.9 180.15,369.7 180.30,368.6 180.45,365.4 180.60,365.5 180.75,365.1 180.90,366.4 181.05,367.6 181.20,368.7 181.35,366.1 181.50,364.7 181.65,363.4 181.80,362.4 181.95,368.2 182.10,363.9 182.25,363.7 182.40,367.5 182.55,363.3 182.70,364.5 182.85,364.8 183.00,360.7 183.15,361.2 183.30,368.8 183.45,364.2 183.60,359.9 183.75,362.1 183.90,362.6 184.05,363.4 184.20,362.5 184.35,360.6 184.50,362.6 184.65,364.7 184.80,361.2 184.95,360.2 185.10,360.4 185.25,358.5 185.40,364.8 185.55,362.6 185.70,361.6 185.85,362.1 186.00,363.9 186.15,360.8 186.30,358.6 186.45,362.7 186.60,356.2 186.75,359.5 186.90,362.5 187.05,363.4 187.20,359.7 187.35,359.5 187.50,359.2 187.65,359.2 187.80,359.1 187.95,361.7 188.10,360.3 188.25,362.3 188.40,359.6 188.55,358.3 188.70,358.5 188.85,363.0 189.00,357.6 189.15,360.7 189.30,356.4 189.45,358.6 189.60,356.6 189.75,356.4 189.90,355.7 190.05,355.6 190.20,357.2 190.35,359.6 190.50,357.7 190.65,355.7 190.80,358.2 190.95,352.3 191.10,356.8 191.25,361.1 191.40,352.4 191.55,356.0 191.70,357.8 191.85,359.1 192.00,357.6 192.15,353.9 192.30,358.2 192.45,357.7 192.60,353.8 192.75,354.2 192.90,352.5 193.05,353.5 193.20,356.9 193.35,351.9 193.50,357.0 193.65,355.1 193.80,354.9 193.95,352.5 194.10,354.5 194.25,352.2 194.40,352.3 194.55,349.3 194.70,352.1 194.85,351.0 195.00,352.7 195.15,351.6 195.30,351.7 195.45,351.4 195.60,351.3 195.75,351.1 195.90,353.4 196.05,348.8 196.20,348.4 196.35,352.0 196.50,353.8 196.65,351.2 196.80,349.6 196.95,354.2 197.10,350.0 197.25,347.8 197.40,349.2 197.55,350.5 197.70,347.1 197.85,349.6 198.00,346.7 198.15,347.1 198.30,346.7 198.45,341.2 198.60,349.1 198.75,348.1 198.90,347.9 199.05,347.9 199.20,346.7 199.35,350.1 199.50,346.8 199.65,348.1 199.80,341.7 199.95,349.2 200.10,345.0 200.25,344.9 200.40,341.6 200.55,340.9 200.70,343.1 200.85,335.6 201.00,345.5 201.15,341.3 201.30,340.8 201.45,341.7 201.60,345.6 201.75,341.3 201.90,343.4 202.05,338.3 202.20,339.7 202.35,342.3 202.50,337.3 202.65,334.0 202.80,338.2 202.95,338.5 203.10,338.4 203.25,340.2 203.40,339.5 203.55,337.4 203.70,339.1 203.85,337.6 204.00,337.9 204.15,335.4 204.30,338.4 204.45,336.1 204.60,339.5 204.75,334.1 204.90,339.4 205.05,335.0 205.20,338.4 205.35,334.9 205.50,335.6 205.65,339.6 205.80,334.5 205.95,340.2 206.10,342.6 206.25,338.8 206.40,333.1 206.55,337.8 206.70,336.1 206.85,336.4 207.00,335.6 207.15,337.6 207.30,338.8 207.45,335.6 207.60,338.0 207.75,333.4 207.90,339.6 208.05,331.2 208.20,330.5 208.35,332.3 208.50,335.4 208.65,335.5 208.80,329.4 208.95,332.9 209.10,332.6 209.25,338.2 209.40,331.9 209.55,329.6 209.70,328.3 209.85,331.0 210.00,332.3 210.15,330.6 210.30,330.6 210.45,329.0 210.60,330.2 210.75,330.0 210.90,335.3 211.05,329.1 211.20,327.3 211.35,328.8 211.50,329.5 211.65,324.4 211.80,329.5 211.95,329.6 212.10,328.9 212.25,326.2 212.40,327.2 212.55,328.4 212.70,329.9 212.85,328.3 213.00,324.3 213.15,329.0 213.30,331.3 213.45,326.7 213.60,320.6 213.75,329.2 213.90,328.9 214.05,326.0 214.20,324.8 214.35,328.5 214.50,327.4 214.65,324.9 214.80,324.5 214.95,325.6 215.10,328.2 215.25,325.7 215.40,321.6 215.55,323.0 215.70,325.4 215.85,325.7 216.00,323.3 216.15,326.6 216.30,322.6 216.45,325.9 216.60,327.7 216.75,325.9 216.90,323.6 217.05,324.1 217.20,316.7 217.35,325.9 217.50,319.7 217.65,319.2 217.80,320.4 217.95,318.1 218.10,320.4 218.25,319.4 218.40,319.0 218.55,322.7 218.70,320.7 218.85,317.8 219.00,318.8 219.15,317.6 219.30,322.9 219.45,316.5 219.60,318.6 219.75,323.9 219.90,318.2 220.05,319.2 220.20,319.8 220.35,313.5 220.50,317.6 220.65,319.2 220.80,317.2 220.95,318.2 221.10,314.6 221.25,317.0 221.40,315.5 221.55,316.4 221.70,313.6 221.85,315.2 222.00,317.9 222.15,315.5 222.30,318.1 222.45,320.8 222.60,317.1 222.75,316.6 222.90,318.0 223.05,313.2 223.20,314.3 223.35,312.8 223.50,313.5 223.65,320.5 223.80,313.8 223.95,315.6 224.10,314.4 224.25,313.6 224.40,313.8 224.55,314.1 224.70,315.6 224.85,313.3 225.00,314.2 225.15,312.5 225.30,312.7 225.45,313.0 225.60,318.3 225.75,310.8 225.90,313.5 226.05,315.7 226.20,315.3 226.35,310.8 226.50,310.5 226.65,312.8 226.80,315.8 226.95,314.8 227.10,312.2 227.25,311.0 227.40,311.0 227.55,310.6 227.70,307.7 227.85,307.4 228.00,311.1 228.15,316.4 228.30,311.5 228.45,306.6 228.60,307.4 228.75,309.9 228.90,307.5 229.05,310.9 229.20,308.7 229.35,308.3 229.50,306.9 229.65,311.7 229.80,311.6 229.95,312.0 230.10,312.9 230.25,310.6 230.40,313.8 230.55,307.4 230.70,312.1 230.85,308.5 231.00,308.3 231.15,307.2 231.30,310.7 231.45,309.5 231.60,312.1 231.75,307.2 231.90,310.2 232.05,306.6 232.20,310.5 232.35,312.3 232.50,306.0 232.65,311.6 232.80,305.9 232.95,312.3 233.10,308.3 233.25,308.8 233.40,304.0 233.55,311.4 233.70,306.7 233.85,305.6 234.00,309.5 234.15,304.5 234.30,306.3 234.45,305.9 234.60,304.9 234.75,310.0 234.90,311.8 235.05,305.0 235.20,311.9 235.35,310.1 235.50,305.7 235.65,308.3 235.80,312.1 235.95,304.9 236.10,305.6 236.25,303.7 236.40,312.0 236.55,308.0 236.70,303.0 236.85,304.7 237.00,307.0 237.15,304.0 237.30,307.8 237.45,304.6 237.60,308.0 237.75,305.6 237.90,305.5 238.05,303.9 238.20,306.4 238.35,307.2 238.50,300.9 238.65,307.2 238.80,308.3 238.95,307.8 239.10,306.4 239.25,305.2 239.40,301.9 239.55,302.4 239.70,304.4 239.85,301.7 240.00,304.8 240.15,304.3 240.30,304.2 240.45,307.7 240.60,305.1 240.75,306.7 240.90,300.8 241.05,306.8 241.20,303.7 241.35,310.0 241.50,301.3 241.65,304.0 241.80,308.8 241.95,312.6 242.10,303.9 242.25,307.4 242.40,305.9 242.55,312.3 242.70,313.7 242.85,309.1 243.00,311.2 243.15,307.1 243.30,305.8 243.45,309.6 243.60,307.0 243.75,310.7 243.90,308.2 244.05,313.1 244.20,309.0 244.35,309.2 244.50,312.7 244.65,310.5 244.80,313.7 244.95,308.2 245.10,307.5 245.25,312.6 245.40,311.4 245.55,308.2 245.70,306.6 245.85,306.9 246.00,308.6 246.15,308.7 246.30,306.9 246.45,308.0 246.60,311.7 246.75,313.2 246.90,315.4 247.05,310.2 247.20,309.7 247.35,314.1 247.50,312.2 247.65,315.2 247.80,315.3 247.95,312.3 248.10,312.7 248.25,308.8 248.40,308.6 248.55,314.8 248.70,319.3 248.85,309.5 249.00,310.0 249.15,312.3 249.30,315.4 249.45,309.3 249.60,313.7 249.75,317.3 249.90,308.1 250.05,310.1 250.20,314.8 250.35,316.5 250.50,312.0 250.65,316.8 250.80,316.9 250.95,311.3 251.10,315.1 251.25,314.0 251.40,314.9 251.55,316.1 251.70,312.9 251.85,311.1 252.00,311.9 252.15,311.9 252.30,314.8 252.45,317.3 252.60,313.5 252.75,313.2 252.90,314.4 253.05,317.5 253.20,315.9 253.35,316.3 253.50,315.3 253.65,317.3 253.80,316.9 253.95,320.8 254.10,318.4 254.25,321.3 254.40,319.6 254.55,319.0 254.70,314.3 254.85,317.3 255.00,315.5 255.15,319.9 255.30,319.0 255.45,319.2 255.60,317.3 255.75,321.3 255.90,313.2 256.05,319.6 256.20,318.0 256.35,316.9 256.50,318.7 256.65,320.5 256.80,320.9 256.95,323.6 257.10,319.1 257.25,318.8 257.40,323.8 257.55,323.9 257.70,318.5 257.85,318.3 258.00,320.8 258.15,319.9 258.30,321.7 258.45,318.6 258.60,318.9 258.75,328.6 258.90,324.2 259.05,325.5 259.20,323.2 259.35,320.2 259.50,324.8 259.65,325.5 259.80,320.7 259.95,320.6 260.10,322.4 260.25,320.7 260.40,317.7 260.55,323.3 260.70,323.8 260.85,317.5 261.00,326.7 261.15,320.0 261.30,319.3 261.45,319.8 261.60,322.2 261.75,321.9 261.90,317.6 262.05,322.4 262.20,323.4 262.35,321.0 262.50,317.0 262.65,320.2 262.80,321.6 262.95,324.9 263.10,322.0 263.25,325.0 263.40,330.8 263.55,324.1 263.70,324.1 263.85,327.3 264.00,328.0 264.15,328.4 264.30,325.0 264.45,321.8 264.60,320.2 264.75,323.3 264.90,324.8 265.05,321.8 265.20,321.0 265.35,324.4 265.50,324.1 265.65,324.7 265.80,331.0 265.95,329.0 266.10,323.3 266.25,329.0 266.40,327.2 266.55,325.5 266.70,326.3 266.85,334.2 267.00,326.8 267.15,324.5 267.30,326.0 267.45,328.3 267.60,327.3 267.75,326.5 267.90,325.1 268.05,325.9 268.20,324.8 268.35,328.4 268.50,330.1 268.65,330.7 268.80,330.2 268.95,333.0 269.10,330.7 269.25,331.5 269.40,327.7 269.55,329.6 269.70,330.2 269.85,334.0 270.00,330.9 270.15,330.6 270.30,330.6 270.45,335.1 270.60,330.5 270.75,330.8 270.90,333.5 271.05,333.1 271.20,336.2 271.35,336.2 271.50,334.2 271.65,333.7 271.80,334.8 271.95,338.2 272.10,335.6 272.25,335.5 272.40,328.5 272.55,332.3 272.70,334.4 272.85,336.3 273.00,336.4 273.15,334.9 273.30,330.9 273.45,335.7 273.60,334.3 273.75,331.0 273.90,333.5 274.05,334.9 274.20,336.7 274.35,338.4 274.50,337.5 274.65,336.9 274.80,335.8 274.95,337.1 275.10,335.0 275.25,339.2 275.40,338.0 275.55,340.7 275.70,339.8 275.85,337.5 276.00,338.5 276.15,338.7 276.30,338.8 276.45,333.3 276.60,337.1 276.75,343.4 276.90,339.3 277.05,342.3 277.20,338.4 277.35,336.0 277.50,338.9 277.65,339.4 277.80,338.4 277.95,343.1 278.10,344.0 278.25,339.5 278.40,345.6 278.55,343.4 278.70,339.5 278.85,344.6 279.00,342.9 279.15,342.7 279.30,339.6 279.45,344.5 279.60,342.0 279.75,347.7 279.90,341.9 280.05,340.8 280.20,345.5 280.35,342.6 280.50,348.4 280.65,343.2 280.80,346.5 280.95,343.0 281.10,344.5 281.25,345.9 281.40,344.5 281.55,347.2 281.70,344.2 281.85,348.9 282.00,348.0 282.15,342.9 282.30,350.7 282.45,346.5 282.60,344.6 282.75,347.2 282.90,346.9 283.05,348.5 283.20,348.3 283.35,349.1 283.50,344.0 283.65,347.2 283.80,345.6 283.95,343.6 284.10,345.4 284.25,345.0 284.40,347.8 284.55,346.6 284.70,348.3 284.85,347.7 285.00,348.6 285.15,350.1 285.30,347.9 285.45,348.9 285.60,348.4 285.75,348.4 285.90,347.5 286.05,349.6 286.20,350.4 286.35,352.7 286.50,349.3 286.65,349.1 286.80,346.6 286.95,349.5 287.10,351.7 287.25,354.2 287.40,351.4 287.55,353.9 287.70,354.5 287.85,355.3 288.00,352.6 288.15,350.2 288.30,351.9 288.45,354.2 288.60,349.8 288.75,351.2 288.90,349.3 289.05,349.8 289.20,348.3 289.35,354.0 289.50,350.2 289.65,351.9 289.80,353.2 289.95,352.4 290.10,350.9 290.25,352.5 290.40,351.5 290.55,354.0 290.70,352.5 290.85,356.0 291.00,353.0 291.15,354.6 291.30,351.6 291.45,350.1 291.60,352.7 291.75,355.5 291.90,355.4 292.05,356.0 292.20,353.3 292.35,353.5 292.50,354.3 292.65,353.9 292.80,355.4 292.95,356.3 293.10,356.9 293.25,353.3 293.40,357.4 293.55,351.2 293.70,354.9 293.85,355.0 294.00,355.6 294.15,355.5 294.30,358.2 294.45,354.2 294.60,357.4 294.75,354.5 294.90,356.5 295.05,356.9 295.20,358.1 295.35,354.1 295.50,352.4 295.65,360.0 295.80,355.3 295.95,356.8 296.10,357.1 296.25,360.3 296.40,358.7 296.55,359.7 296.70,360.1 296.85,358.8 297.00,357.3 297.15,360.6 297.30,360.1 297.45,358.7 297.60,354.7 297.75,357.5 297.90,359.1 298.05,357.6 298.20,360.3 298.35,364.1 298.50,359.2 298.65,359.7 298.80,361.0 298.95,363.0 299.10,356.0 299.25,359.7 299.40,363.3 299.55,361.0 299.70,357.9 299.85,362.5 300.00,359.2 300.15,363.2 300.30,363.4 300.45,361.3 300.60,359.7 300.75,362.8 300.90,361.4 301.05,361.7 301.20,361.5 301.35,362.1 301.50,361.9 301.65,365.5 301.80,366.2 301.95,363.1 302.10,362.9 302.25,366.6 302.40,367.8 302.55,366.6 302.70,368.1 302.85,367.3 303.00,365.4 303.15,365.1 303.30,364.3 303.45,365.4 303.60,362.8 303.75,367.9 303.90,363.3 304.05,365.6 304.20,365.7 304.35,365.8 304.50,366.1 304.65,365.0 304.80,366.0 304.95,367.6 305.10,368.2 305.25,365.5 305.40,368.1 305.55,365.8 305.70,368.9 305.85,369.3 306.00,367.2 306.15,371.9 306.30,368.2 306.45,373.1 306.60,368.4 306.75,372.4 306.90,368.2 307.05,370.2 307.20,368.8 307.35,371.7 307.50,369.8 307.65,370.5 307.80,370.8 307.95,368.9 308.10,369.8 308.25,371.3 308.40,369.9 308.55,372.3 308.70,368.8 308.85,375.3 309.00,373.7 309.15,369.8 309.30,371.0 309.45,371.7 309.60,373.4 309.75,373.6 309.90,374.5 310.05,375.1 310.20,371.7 310.35,374.1 310.50,373.7 310.65,375.3 310.80,374.3 310.95,372.4 311.10,374.9 311.25,379.9 311.40,376.0 311.55,378.1 311.70,376.4 311.85,376.2 312.00,376.9 312.15,376.8 312.30,378.2 312.45,376.5 312.60,374.6 312.75,379.2 312.90,379.3 313.05,378.1 313.20,379.3 313.35,380.7 313.50,380.3 313.65,378.7 313.80,382.3 313.95,384.1 314.10,380.4 314.25,378.8 314.40,382.2 314.55,382.7 314.70,379.4 314.85,378.8 315.00,378.9 315.15,380.1 315.30,379.3 315.45,380.4 315.60,380.3 315.75,378.4 315.90,380.9 316.05,382.4 316.20,377.3 316.35,379.9 316.50,379.7 316.65,379.2 316.80,380.4 316.95,378.7 317.10,381.9 317.25,380.6 317.40,380.0 317.55,382.1 317.70,381.4 317.85,383.1 318.00,381.4 318.15,380.8 318.30,384.0 318.45,380.9 318.60,380.8 318.75,382.3 318.90,379.3 319.05,380.5 319.20,379.7 319.35,383.4 319.50,379.3 319.65,379.0 319.80,379.2 319.95,383.6 320.10,382.4 320.25,379.9 320.40,379.8 320.55,384.3 320.70,379.9 320.85,380.6 321.00,379.4 321.15,384.2 321.30,379.7 321.45,378.9 321.60,381.2 321.75,381.1 321.90,380.5 322.05,380.1 322.20,378.8 322.35,380.1 322.50,384.0 322.65,379.0 322.80,383.0 322.95,384.1 323.10,382.8 323.25,381.2 323.40,382.6 323.55,382.3 323.70,378.7 323.85,381.5 324.00,379.0 324.15,377.5 324.30,382.6 324.45,379.8 324.60,381.6 324.75,379.4 324.90,382.6 325.05,381.7 325.20,380.3 325.35,379.4 325.50,379.4 325.65,380.2 325.80,379.1 325.95,378.4 326.10,380.6 326.25,380.4 326.40,381.4 326.55,381.4 326.70,378.6 326.85,380.5 327.00,379.2 327.15,378.4 327.30,380.3 327.45,379.6 327.60,380.6 327.75,379.7 327.90,381.2 328.05,379.9 328.20,380.8 328.35,381.6 328.50,382.9 328.65,380.1 328.80,377.6 328.95,378.5 329.10,382.2 329.25,382.8 329.40,381.2 329.55,382.2 329.70,379.6 329.85,379.3 330.00,381.5 330.15,380.9 330.30,380.2 330.45,380.3 330.60,379.1 330.75,376.7 330.90,380.6 331.05,379.2 331.20,377.9 331.35,378.9 331.50,380.6 331.65,378.4 331.80,377.7 331.95,380.4 332.10,380.9 332.25,380.7 332.40,380.8 332.55,379.8 332.70,378.4 332.85,375.9 333.00,378.7 333.15,378.2 333.30,381.5 333.45,378.8 333.60,380.2 333.75,380.7 333.90,378.2 334.05,378.6 334.20,382.2 334.35,382.0 334.50,377.8 334.65,380.3 334.80,382.0 334.95,378.8 335.10,380.1 335.25,379.4 335.40,378.5 335.55,378.2 335.70,375.1 335.85,377.0 336.00,378.1" fill="none" stroke="#07845a" stroke-width="1.3" stroke-linejoin="round"/><path d="M389.30,122.9 389.55,122.5 389.80,122.3 390.05,122.1 390.30,121.9 390.55,121.9 390.80,121.8 391.05,122.3 391.30,122.0 391.55,122.5 391.80,121.9 392.05,122.2 392.30,121.9 392.55,122.0 392.80,122.8 393.05,122.2 393.30,122.5 393.55,122.2 393.80,122.5 394.05,122.3 394.30,121.8 394.55,122.4 394.80,122.2 395.05,122.3 395.30,122.0 395.55,122.4 395.80,122.5 396.05,122.5 396.30,122.2 396.55,121.8 396.80,122.4 397.05,122.3 397.30,121.9 397.55,121.9 397.80,122.8 398.05,122.0 398.30,122.1 398.55,122.3 398.80,122.6 399.05,122.1 399.30,121.9 399.55,121.6 399.80,122.1 400.05,122.0 400.30,121.5 400.55,121.6 400.80,122.2 401.05,122.3 401.30,122.8 401.55,122.0 401.80,121.7 402.05,122.6 402.30,122.3 402.55,122.7 402.80,122.3 403.05,122.2 403.30,122.5 403.55,122.0 403.80,122.2 404.05,122.2 404.30,122.4 404.55,122.4 404.80,121.8 405.05,122.1 405.30,121.9 405.55,122.1 405.80,122.1 406.05,122.3 406.30,122.0 406.55,122.1 406.80,121.8 407.05,121.7 407.30,121.7 407.55,122.0 407.80,121.9 408.05,121.9 408.30,121.6 408.55,121.6 408.80,121.8 409.05,121.8 409.30,121.8 409.55,121.6 409.80,121.5 410.05,121.1 410.30,121.4 410.55,121.7 410.80,121.5 411.05,121.3 411.30,121.6 411.55,122.2 411.80,121.5 412.05,121.4 412.30,121.3 412.55,121.2 412.80,121.7 413.05,121.6 413.30,121.4 413.55,121.5 413.80,121.5 414.05,121.0 414.30,121.2 414.55,121.4 414.80,120.8 415.05,121.2 415.30,121.2 415.55,120.9 415.80,122.1 416.05,121.7 416.30,121.9 416.55,121.0 416.80,121.2 417.05,121.5 417.30,121.0 417.55,121.8 417.80,120.9 418.05,120.9 418.30,120.7 418.55,120.4 418.80,120.7 419.05,120.7 419.30,120.5 419.55,120.7 419.80,121.0 420.05,121.0 420.30,121.0 420.55,121.1 420.80,121.3 421.05,121.0 421.30,121.0 421.55,121.1 421.80,120.9 422.05,120.6 422.30,120.8 422.55,120.8 422.80,120.8 423.05,120.5 423.30,120.9 423.55,120.5 423.80,120.2 424.05,120.9 424.30,121.0 424.55,120.9 424.80,120.5 425.05,121.0 425.30,120.5 425.55,120.2 425.80,120.6 426.05,120.9 426.30,120.7 426.55,120.6 426.80,120.3 427.05,120.6 427.30,120.2 427.55,120.3 427.80,121.1 428.05,120.4 428.30,119.9 428.55,119.8 428.80,119.9 429.05,120.0 429.30,120.5 429.55,120.7 429.80,120.5 430.05,120.4 430.30,120.6 430.55,120.3 430.80,120.4 431.05,120.6 431.30,120.6 431.55,120.2 431.80,120.2 432.05,120.1 432.30,120.4 432.55,120.7 432.80,120.5 433.05,120.2 433.30,120.8 433.55,120.7 433.80,120.7 434.05,120.7 434.30,120.5 434.55,120.2 434.80,120.6 435.05,120.3 435.30,120.3 435.55,120.6 435.80,119.9 436.05,120.0 436.30,120.0 436.55,120.1 436.80,120.4 437.05,120.6 437.30,120.4 437.55,120.9 437.80,120.5 438.05,120.8 438.30,121.0 438.55,120.9 438.80,120.7 439.05,120.7 439.30,120.8 439.55,120.9 439.80,120.5 440.05,120.5 440.30,120.5 440.55,121.0 440.80,120.8 441.05,120.7 441.30,120.4 441.55,120.5 441.80,120.8 442.05,120.4 442.30,121.0 442.55,120.8 442.80,120.9 443.05,121.0 443.30,121.1 443.55,121.0 443.80,121.5 444.05,121.1 444.30,121.3 444.55,121.2 444.80,121.4 445.05,121.6 445.30,121.7 445.55,121.6 445.80,121.8 446.05,121.3 446.30,121.4 446.55,121.5 446.80,120.9 447.05,121.1 447.30,121.5 447.55,121.3 447.80,121.1 448.05,121.0 448.30,121.5 448.55,121.4 448.80,121.4 449.05,121.1 449.30,121.5 449.55,121.2 449.80,121.4 450.05,121.4 450.30,122.0 450.55,121.3 450.80,121.5 451.05,121.8 451.30,121.0 451.55,121.4 451.80,121.2 452.05,121.8 452.30,121.5 452.55,121.2 452.80,121.4 453.05,121.5 453.30,121.4 453.55,121.3 453.80,121.5 454.05,121.3 454.30,121.9 454.55,121.1 454.80,121.4 455.05,121.8 455.30,121.8 455.55,121.5 455.80,122.0 456.05,121.9 456.30,122.3 456.55,121.7 456.80,122.1 457.05,121.8 457.30,121.7 457.55,121.7 457.80,121.5 458.05,121.4 458.30,122.0 458.55,121.3 458.80,121.5 459.05,121.7 459.30,121.6 459.55,121.3 459.80,121.2 460.05,121.7 460.30,121.3 460.55,121.2 460.80,121.0 461.05,121.0 461.30,121.1 461.55,121.2 461.80,120.8 462.05,121.7 462.30,121.3 462.55,121.7 462.80,121.6 463.05,121.2 463.30,121.3 463.55,121.3 463.80,121.4 464.05,121.3 464.30,121.1 464.55,121.1 464.80,121.0 465.05,120.9 465.30,120.7 465.55,121.1 465.80,121.0 466.05,121.0 466.30,120.9 466.55,121.3 466.80,121.0 467.05,121.4 467.30,121.1 467.55,121.1 467.80,121.7 468.05,121.4 468.30,121.3 468.55,121.3 468.80,121.1 469.05,121.0 469.30,121.0 469.55,121.0 469.80,120.9 470.05,121.0 470.30,121.1 470.55,121.2 470.80,121.0 471.05,120.9 471.30,121.4 471.55,120.4 471.80,120.7 472.05,120.8 472.30,121.0 472.55,120.4 472.80,120.5 473.05,120.1 473.30,120.2 473.55,119.9 473.80,120.7 474.05,120.6 474.30,120.3 474.55,120.6 474.80,120.3 475.05,120.0 475.30,120.3 475.55,120.1 475.80,119.7 476.05,119.9 476.30,120.1 476.55,119.4 476.80,119.6 477.05,119.9 477.30,119.7 477.55,119.8 477.80,119.7 478.05,120.0 478.30,119.7 478.55,119.6 478.80,119.6 479.05,119.4 479.30,119.2 479.55,119.2 479.80,119.0 480.05,118.8 480.30,118.5 480.55,118.8 480.80,118.6 481.05,118.1 481.30,118.2 481.55,118.4 481.80,118.1 482.05,118.4 482.30,118.3 482.55,118.3 482.80,118.1 483.05,118.2 483.30,118.2 483.55,118.6 483.80,118.3 484.05,117.8 484.30,117.5 484.55,117.3 484.80,117.4 485.05,116.7 485.30,117.0 485.55,117.1 485.80,116.9 486.05,116.5 486.30,116.4 486.55,116.3 486.80,117.0 487.05,116.5 487.30,116.3 487.55,116.0 487.80,115.6 488.05,115.4 488.30,115.7 488.55,115.2 488.80,115.3 489.05,115.7 489.30,115.8 489.55,115.5 489.80,115.5 490.05,115.3 490.30,115.0 490.55,114.6 490.80,114.8 491.05,114.7 491.30,114.4 491.55,114.2 491.80,114.0 492.05,114.1 492.30,113.7 492.55,113.8 492.80,113.3 493.05,113.5 493.30,113.2 493.55,113.1 493.80,113.0 494.05,112.8 494.30,112.8 494.55,112.6 494.80,112.7 495.05,112.5 495.30,112.4 495.55,111.8 495.80,111.1 496.05,110.8 496.30,110.9 496.55,110.9 496.80,110.2 497.05,110.5 497.30,109.8 497.55,109.7 497.80,109.9 498.05,110.1 498.30,110.1 498.55,109.7 498.80,109.8 499.05,109.5 499.30,108.8 499.55,109.0 499.80,108.3 500.05,107.7 500.30,107.5 500.55,106.7 500.80,106.5 501.05,105.4 501.30,103.8 501.55,103.4 501.80,101.6 502.05,99.8 502.30,98.3 502.55,96.8 502.80,94.9 503.05,93.3 503.30,92.0 503.55,90.4 503.80,89.1 504.05,88.1 504.30,86.4 504.55,85.0 504.80,83.6 505.05,82.3 505.30,80.6 505.55,79.1 505.80,77.7 506.05,76.8 506.30,75.5 506.55,74.2 506.80,73.4 507.05,72.2 507.30,71.8 507.55,71.7 507.80,71.8 508.05,71.4 508.30,72.4 508.55,73.2 508.80,74.2 509.05,75.4 509.30,76.5 509.55,78.1 509.80,78.8 510.05,80.0 510.30,80.5 510.55,81.2 510.80,81.0 511.05,81.5 511.30,81.0 511.55,79.4 511.80,78.0 512.05,76.6 512.30,74.2 512.55,72.4 512.80,70.3 513.05,68.7 513.30,66.4 513.55,63.6 513.80,60.2 514.05,56.2 514.30,52.4 514.55,48.7 514.80,45.1 515.05,41.7 515.30,39.2 515.55,37.4 515.80,36.2 516.05,36.3 516.30,37.2 516.55,38.7 516.80,41.4 517.05,44.3 517.30,47.0 517.55,50.8 517.80,54.2 518.05,57.4 518.30,60.9 518.55,64.6 518.80,69.1 519.05,73.9 519.30,78.5 519.55,83.3 519.80,87.9 520.05,91.8 520.30,94.5 520.55,97.1 520.80,99.2 521.05,102.3 521.30,104.5 521.55,106.6 521.80,108.3 522.05,109.6 522.30,110.6 522.55,111.3 522.80,111.7 523.05,112.4 523.30,112.4 523.55,112.4 523.80,113.3 524.05,113.4 524.30,113.3 524.55,113.5 524.80,113.7 525.05,114.2 525.30,113.9 525.55,114.3 525.80,114.2 526.05,114.1 526.30,114.3 526.55,113.9 526.80,114.2 527.05,114.5 527.30,114.1 527.55,114.3 527.80,114.1 528.05,114.5 528.30,114.1 528.55,114.2 528.80,114.4 529.05,113.9 529.30,114.2 529.55,114.2 529.80,114.3 530.05,113.9 530.30,114.0 530.55,113.7 530.80,113.9 531.05,113.9 531.30,114.3 531.55,114.5 531.80,113.8 532.05,114.3 532.30,113.5 532.55,113.5 532.80,114.6 533.05,114.4 533.30,114.1 533.55,114.0 533.80,114.1 534.05,113.7 534.30,114.1 534.55,113.6 534.80,113.2 535.05,113.6 535.30,113.6 535.55,113.9 535.80,113.7 536.05,113.3 536.30,113.5 536.55,113.5 536.80,113.4 537.05,113.7 537.30,113.1 537.55,112.7 537.80,113.0 538.05,112.7 538.30,112.8 538.55,113.2 538.80,112.9 539.05,112.8 539.30,112.9 539.55,113.1 539.80,112.7 540.05,112.9 540.30,112.3 540.55,112.6 540.80,112.5 541.05,112.3 541.30,112.6 541.55,112.6 541.80,112.7 542.05,112.2 542.30,112.8 542.55,113.0 542.80,113.1 543.05,112.9 543.30,112.7 543.55,112.5 543.80,112.9 544.05,112.5 544.30,112.6 544.55,112.2 544.80,112.1 545.05,111.8 545.30,111.7 545.55,112.0 545.80,111.9 546.05,112.1 546.30,111.6 546.55,111.7 546.80,112.4 547.05,112.0 547.30,111.9 547.55,111.6 547.80,111.9 548.05,112.0 548.30,112.2 548.55,111.6 548.80,112.1 549.05,111.8 549.30,111.8 549.55,112.1 549.80,112.0 550.05,112.3 550.30,112.6 550.55,112.7 550.80,112.4 551.05,112.7 551.30,112.7 551.55,112.7 551.80,112.9 552.05,113.2 552.30,113.0 552.55,113.4 552.80,113.3 553.05,113.9 553.30,113.3 553.55,113.8 553.80,113.7 554.05,114.1 554.30,113.5 554.55,113.6 554.80,113.1 555.05,113.2 555.30,113.2 555.55,113.2 555.80,113.2 556.05,112.8 556.30,112.7 556.55,112.6 556.80,112.8 557.05,112.6 557.30,112.6 557.55,112.6 557.80,112.4 558.05,112.4 558.30,112.8 558.55,112.5 558.80,112.6 559.05,112.8 559.30,113.1 559.55,113.5 559.80,114.1 560.05,113.6 560.30,114.2 560.55,114.6 560.80,114.6 561.05,114.5 561.30,115.0 561.55,115.5 561.80,114.9 562.05,115.6 562.30,115.6 562.55,115.5 562.80,116.0 563.05,116.6 563.30,116.7 563.55,118.2 563.80,119.6 564.05,120.3 564.30,121.1 564.55,121.4 564.80,122.1 565.05,122.4 565.30,121.4 565.55,121.6 565.80,122.0 566.05,121.7 566.30,122.2 566.55,122.0 566.80,121.9 567.05,121.7 567.30,121.7 567.55,122.1 567.80,121.7 568.05,122.2 568.30,121.9 568.55,122.3 568.80,122.3 569.05,122.4 569.30,122.2 569.55,122.0 569.80,122.0 570.05,122.2 570.30,122.3 570.55,122.6 570.80,122.4 571.05,122.7 571.30,122.4 571.55,122.4 571.80,122.5 572.05,122.5 572.30,122.9 572.55,122.7 572.80,122.6 573.05,122.6 573.30,122.5 573.55,122.1 573.80,122.9 574.05,122.4 574.30,122.6 574.55,122.6 574.80,122.3 575.05,122.3 575.30,122.0 575.55,122.4 575.80,122.5 576.05,122.1 576.30,122.6 576.55,122.3 576.80,122.4 577.05,122.9 577.30,122.9 577.55,122.3 577.80,122.5 578.05,122.5 578.30,122.8 578.55,122.9 578.80,122.5 579.05,122.3 579.30,122.5 579.55,122.4 579.80,121.7 580.05,122.2 580.30,122.0 580.55,122.4 580.80,122.1 581.05,122.0 581.30,122.3 581.55,122.1 581.80,122.2 582.05,122.4 582.30,121.8 582.55,122.4 582.80,122.4 583.05,122.4 583.30,122.4 583.55,121.7 583.80,122.1 584.05,121.9 584.30,121.8 584.55,121.7 584.80,121.9 585.05,122.1 585.30,121.9 585.55,122.3 585.80,122.3 586.05,122.5 586.30,122.9 586.55,122.6 586.80,122.4 587.05,122.0 587.30,122.2 587.55,122.4 587.80,122.2 588.05,122.1 588.30,121.9 588.55,122.0 588.80,122.6 589.05,122.2 589.30,122.7 589.55,122.5 589.80,122.4 590.05,123.0 590.30,121.9 590.55,122.3 590.80,122.0 591.05,122.0 591.30,122.1 591.55,122.5 591.80,122.2 592.05,122.1 592.30,122.2 592.55,122.0 592.80,122.3 593.05,122.6 593.30,122.4 593.55,122.6 593.80,122.3 594.05,122.6 594.30,122.3 594.55,122.0 594.80,121.9 595.05,121.7 595.30,122.0 595.55,122.1 595.80,122.4 596.05,122.1 596.30,121.9 596.55,122.2 596.80,122.4 597.05,122.4 597.30,122.4 597.55,122.3 597.80,122.6 598.05,122.5 598.30,122.6 598.55,122.4 598.80,122.5 599.05,123.0 599.30,122.9 599.55,122.6 599.80,122.1 600.05,122.4 600.30,122.9 600.55,122.6 600.80,122.6 601.05,122.7 601.30,122.5 601.55,122.5 601.80,122.5 602.05,122.5 602.30,122.5 602.55,122.4 602.80,121.8 603.05,122.4 603.30,122.8 603.55,122.2 603.80,122.1 604.05,122.2 604.30,122.4 604.55,121.8 604.80,122.2 605.05,122.2 605.30,122.0 605.55,122.0 605.80,122.4 606.05,122.5 606.30,121.8 606.55,122.3 606.80,121.8 607.05,122.0 607.30,122.4 607.55,122.1 607.80,122.5 608.05,122.4 608.30,122.7 608.55,122.2 608.80,123.2 609.05,122.7 609.30,122.6 609.55,122.3 609.80,122.6 610.05,122.5 610.30,122.5 610.55,122.8 610.80,122.1 611.05,122.0 611.30,122.0 611.55,121.9 611.80,122.0 612.05,122.3 612.30,122.3 612.55,122.3 612.80,122.1 613.05,122.8 613.30,122.7 613.55,122.6 613.80,122.7 614.05,123.1 614.30,123.0 614.55,123.1 614.80,123.3 615.05,122.9 615.30,122.5 615.55,122.8 615.80,122.9 616.05,123.1 616.30,122.8 616.55,122.4 616.80,122.6 617.05,122.7 617.30,122.8 617.55,123.2 617.80,123.2 618.05,122.2 618.30,123.0 618.55,122.3 618.80,122.5 619.05,123.2 619.30,122.9 619.55,122.7 619.80,122.1 620.05,122.3 620.30,122.4 620.55,122.0 620.80,122.2 621.05,121.6 621.30,122.3 621.55,121.9 621.80,121.8 622.05,122.2 622.30,122.2 622.55,122.5 622.80,121.9 623.05,122.1 623.30,122.5 623.55,122.2 623.80,122.6 624.05,122.6 624.30,122.5 624.55,122.4 624.80,121.9 625.05,122.5 625.30,122.9 625.55,122.1 625.80,122.2 626.05,122.3 626.30,121.9 626.55,122.1 626.80,122.3 627.05,122.0 627.30,121.9 627.55,122.4 627.80,122.0 628.05,122.4 628.30,122.2 628.55,122.5 628.80,122.1 629.05,121.9 629.30,122.4 629.55,122.3 629.80,122.1 630.05,122.6 630.30,122.5 630.55,121.9 630.80,122.1 631.05,122.1 631.30,122.0 631.55,122.2 631.80,122.2 632.05,122.3 632.30,121.9 632.55,122.3 632.80,122.4 633.05,121.7 633.30,122.0 633.55,122.0 633.80,122.3 634.05,121.9 634.30,122.2 634.55,122.2 634.80,122.2 635.05,122.4 635.30,121.9 635.55,122.0 635.80,121.9 636.05,122.3 636.30,122.4 636.55,121.9 636.80,121.9 637.05,121.6 637.30,121.5 637.55,122.0 637.80,122.4 638.05,122.2 638.30,122.0 638.55,122.0 638.80,122.3 639.05,122.4 639.30,122.2 639.55,122.2 639.80,122.2 640.05,122.0 640.30,122.2 640.55,122.7 640.80,122.7 641.05,122.3 641.30,122.9 641.55,123.0 641.80,122.0 642.05,122.3 642.30,122.5 642.55,122.5 642.80,121.7 643.05,122.3 643.30,122.2 643.55,122.2 643.80,122.1 644.05,121.8 644.30,122.1 644.55,122.0 644.80,122.3 645.05,122.3 645.30,122.2 645.55,123.0 645.80,123.1 646.05,122.2 646.30,122.5 646.55,122.2 646.80,122.4 647.05,122.0 647.30,122.3 647.55,122.0 647.80,122.3 648.05,121.8 648.30,122.3 648.55,122.2 648.80,122.5 649.05,122.4 649.30,122.7 649.55,122.7 649.80,122.3 650.05,122.5 650.30,122.3 650.55,122.4 650.80,122.9 651.05,122.2 651.30,122.6 651.55,122.7 651.80,122.5 652.05,122.5 652.30,122.0 652.55,122.1 652.80,122.1 653.05,122.5 653.30,122.2 653.55,121.9 653.80,122.2 654.05,122.3 654.30,121.9 654.55,122.2 654.80,122.1 655.05,122.0 655.30,122.3 655.55,122.1 655.80,122.0 656.05,121.8 656.30,122.2 656.55,121.6 656.80,121.8 657.05,121.8 657.30,122.2 657.55,121.3 657.80,121.7 658.05,121.8 658.30,122.0 658.55,122.0 658.80,122.3 659.05,122.1 659.30,122.0 659.55,122.2 659.80,122.2 660.05,122.1 660.30,122.1 660.55,122.4 660.80,122.3 661.05,121.9 661.30,122.0 661.55,122.7 661.80,121.9 662.05,121.6 662.30,122.2 662.55,122.3 662.80,122.5 663.05,122.5 663.30,122.4 663.55,122.3 663.80,122.4 664.05,121.8 664.30,122.1 664.55,122.4 664.80,122.3 665.05,122.4 665.30,121.8 665.55,122.4 665.80,122.2 666.05,121.8 666.30,122.1 666.55,122.1 666.80,121.5 667.05,122.0 667.30,121.8 667.55,122.0 667.80,121.7 668.05,122.2 668.30,122.3 668.55,122.2 668.80,122.3 669.05,122.2 669.30,122.3 669.55,121.9 669.80,122.1 670.05,122.3 670.30,122.5 670.55,122.5 670.80,122.6 671.05,122.7 671.30,122.2 671.55,122.7 671.80,122.2 672.05,122.3 672.30,122.0 672.55,122.0 672.80,121.7 673.05,122.0 673.30,121.8 673.55,121.7 673.80,121.4 674.05,121.7 674.30,121.8 674.55,122.2 674.80,121.9" fill="none" stroke="#0d0d0d" stroke-width="1.7" stroke-linejoin="round"/><path d="M389.80,203.3 389.95,201.6 390.10,202.2 390.25,200.4 390.40,203.1 390.55,201.6 390.70,205.7 390.85,208.1 391.00,201.1 391.15,203.7 391.30,201.2 391.45,201.3 391.60,203.7 391.75,204.5 391.90,203.2 392.05,205.0 392.20,203.0 392.35,201.9 392.50,206.4 392.65,204.3 392.80,203.2 392.95,204.7 393.10,204.9 393.25,203.1 393.40,205.5 393.55,200.5 393.70,201.0 393.85,203.7 394.00,200.7 394.15,206.0 394.30,203.0 394.45,204.8 394.60,202.7 394.75,201.3 394.90,201.9 395.05,203.9 395.20,201.8 395.35,198.6 395.50,205.1 395.65,201.7 395.80,202.2 395.95,202.2 396.10,200.9 396.25,197.7 396.40,201.6 396.55,201.2 396.70,202.7 396.85,203.0 397.00,202.2 397.15,201.4 397.30,206.7 397.45,204.7 397.60,203.9 397.75,201.4 397.90,202.8 398.05,203.8 398.20,201.2 398.35,201.5 398.50,201.0 398.65,202.0 398.80,202.9 398.95,201.6 399.10,201.4 399.25,202.7 399.40,203.8 399.55,196.4 399.70,200.0 399.85,201.4 400.00,202.4 400.15,197.3 400.30,200.7 400.45,203.8 400.60,201.4 400.75,201.8 400.90,203.9 401.05,203.5 401.20,200.7 401.35,202.2 401.50,200.2 401.65,202.8 401.80,203.2 401.95,203.9 402.10,202.7 402.25,196.7 402.40,201.4 402.55,200.1 402.70,203.8 402.85,204.6 403.00,203.0 403.15,201.4 403.30,203.2 403.45,204.0 403.60,204.8 403.75,204.6 403.90,202.1 404.05,202.9 404.20,202.7 404.35,205.3 404.50,200.4 404.65,200.2 404.80,205.0 404.95,205.0 405.10,204.2 405.25,202.7 405.40,204.8 405.55,202.6 405.70,201.1 405.85,203.6 406.00,200.3 406.15,203.2 406.30,201.7 406.45,202.3 406.60,205.7 406.75,199.6 406.90,203.3 407.05,204.5 407.20,203.8 407.35,202.8 407.50,200.3 407.65,205.0 407.80,201.9 407.95,206.2 408.10,202.2 408.25,203.7 408.40,203.8 408.55,200.9 408.70,201.6 408.85,204.2 409.00,200.9 409.15,203.2 409.30,201.1 409.45,202.9 409.60,202.3 409.75,202.3 409.90,204.5 410.05,200.5 410.20,199.9 410.35,198.3 410.50,207.5 410.65,200.9 410.80,204.2 410.95,201.2 411.10,200.9 411.25,200.4 411.40,205.8 411.55,200.4 411.70,200.1 411.85,202.9 412.00,203.2 412.15,202.3 412.30,199.7 412.45,201.9 412.60,203.4 412.75,200.4 412.90,204.8 413.05,200.3 413.20,202.2 413.35,201.7 413.50,200.9 413.65,203.5 413.80,198.8 413.95,201.2 414.10,198.8 414.25,201.8 414.40,197.6 414.55,202.0 414.70,199.4 414.85,202.6 415.00,200.2 415.15,204.0 415.30,200.6 415.45,200.2 415.60,199.9 415.75,200.5 415.90,198.9 416.05,201.7 416.20,197.5 416.35,200.6 416.50,199.6 416.65,199.7 416.80,199.1 416.95,199.9 417.10,200.0 417.25,200.6 417.40,203.5 417.55,200.0 417.70,202.1 417.85,202.8 418.00,202.6 418.15,200.3 418.30,204.8 418.45,198.1 418.60,199.6 418.75,201.3 418.90,199.6 419.05,201.1 419.20,201.6 419.35,200.7 419.50,200.5 419.65,201.9 419.80,200.6 419.95,200.2 420.10,197.8 420.25,202.4 420.40,204.5 420.55,199.5 420.70,200.6 420.85,204.2 421.00,199.4 421.15,200.0 421.30,203.3 421.45,202.3 421.60,203.6 421.75,199.6 421.90,203.8 422.05,200.6 422.20,204.1 422.35,203.5 422.50,200.5 422.65,203.3 422.80,201.2 422.95,199.5 423.10,200.4 423.25,198.6 423.40,201.3 423.55,200.0 423.70,203.6 423.85,199.3 424.00,203.4 424.15,202.2 424.30,197.7 424.45,200.6 424.60,200.3 424.75,199.0 424.90,200.0 425.05,204.6 425.20,200.4 425.35,198.7 425.50,199.1 425.65,200.0 425.80,205.3 425.95,199.9 426.10,203.8 426.25,197.9 426.40,199.8 426.55,199.9 426.70,199.6 426.85,201.1 427.00,201.2 427.15,200.3 427.30,198.1 427.45,200.7 427.60,200.3 427.75,201.7 427.90,198.9 428.05,203.3 428.20,201.2 428.35,198.3 428.50,201.7 428.65,198.5 428.80,199.3 428.95,200.3 429.10,201.1 429.25,205.0 429.40,199.7 429.55,201.6 429.70,201.4 429.85,200.2 430.00,197.9 430.15,200.9 430.30,196.6 430.45,201.2 430.60,197.9 430.75,201.6 430.90,202.8 431.05,199.4 431.20,202.2 431.35,203.1 431.50,198.7 431.65,196.9 431.80,200.2 431.95,201.5 432.10,199.0 432.25,201.2 432.40,201.4 432.55,202.6 432.70,203.3 432.85,202.1 433.00,199.7 433.15,200.7 433.30,198.5 433.45,203.0 433.60,205.3 433.75,198.9 433.90,202.1 434.05,202.5 434.20,207.0 434.35,205.0 434.50,200.2 434.65,202.9 434.80,202.4 434.95,197.8 435.10,201.7 435.25,200.9 435.40,204.4 435.55,200.9 435.70,202.3 435.85,204.0 436.00,202.9 436.15,198.4 436.30,200.8 436.45,201.2 436.60,201.8 436.75,200.3 436.90,202.5 437.05,199.3 437.20,199.9 437.35,203.4 437.50,200.1 437.65,197.9 437.80,203.5 437.95,198.1 438.10,199.4 438.25,201.4 438.40,202.5 438.55,203.0 438.70,203.9 438.85,203.2 439.00,202.6 439.15,201.6 439.30,201.1 439.45,200.4 439.60,205.6 439.75,202.8 439.90,201.5 440.05,202.8 440.20,202.2 440.35,202.6 440.50,202.1 440.65,202.6 440.80,202.1 440.95,199.6 441.10,202.6 441.25,203.1 441.40,202.0 441.55,200.8 441.70,201.5 441.85,200.9 442.00,198.8 442.15,200.8 442.30,199.0 442.45,197.9 442.60,201.2 442.75,201.1 442.90,202.1 443.05,200.1 443.20,201.7 443.35,201.0 443.50,201.9 443.65,199.3 443.80,202.7 443.95,199.7 444.10,197.1 444.25,201.2 444.40,198.4 444.55,202.6 444.70,198.7 444.85,201.2 445.00,197.9 445.15,201.8 445.30,203.6 445.45,200.5 445.60,203.3 445.75,200.7 445.90,199.3 446.05,200.6 446.20,199.6 446.35,202.1 446.50,202.0 446.65,204.4 446.80,199.5 446.95,200.8 447.10,199.7 447.25,199.4 447.40,200.3 447.55,201.8 447.70,202.1 447.85,203.3 448.00,200.6 448.15,200.9 448.30,200.2 448.45,194.5 448.60,201.1 448.75,201.1 448.90,200.3 449.05,201.6 449.20,202.9 449.35,198.5 449.50,201.6 449.65,199.7 449.80,200.7 449.95,200.5 450.10,200.5 450.25,203.7 450.40,200.5 450.55,200.1 450.70,198.5 450.85,203.8 451.00,201.6 451.15,200.5 451.30,198.9 451.45,199.7 451.60,203.8 451.75,199.1 451.90,199.0 452.05,203.4 452.20,198.8 452.35,201.8 452.50,204.7 452.65,198.7 452.80,199.6 452.95,203.8 453.10,203.9 453.25,205.1 453.40,201.8 453.55,201.7 453.70,199.4 453.85,200.8 454.00,200.7 454.15,200.9 454.30,199.1 454.45,200.3 454.60,202.9 454.75,203.9 454.90,202.0 455.05,202.3 455.20,203.6 455.35,197.0 455.50,204.6 455.65,200.4 455.80,197.2 455.95,201.1 456.10,201.9 456.25,198.8 456.40,202.1 456.55,201.4 456.70,203.8 456.85,199.3 457.00,198.9 457.15,197.9 457.30,196.7 457.45,199.6 457.60,203.6 457.75,198.0 457.90,197.5 458.05,199.7 458.20,197.9 458.35,200.7 458.50,199.1 458.65,198.4 458.80,198.4 458.95,199.4 459.10,202.1 459.25,195.6 459.40,203.2 459.55,200.1 459.70,202.1 459.85,201.1 460.00,200.3 460.15,197.0 460.30,197.1 460.45,200.3 460.60,199.5 460.75,202.6 460.90,192.0 461.05,197.2 461.20,193.0 461.35,202.5 461.50,197.1 461.65,195.4 461.80,199.8 461.95,199.9 462.10,195.5 462.25,196.2 462.40,196.9 462.55,200.1 462.70,195.4 462.85,197.0 463.00,198.7 463.15,196.7 463.30,195.7 463.45,196.7 463.60,199.1 463.75,196.3 463.90,198.5 464.05,194.2 464.20,195.4 464.35,194.8 464.50,198.1 464.65,193.4 464.80,191.9 464.95,196.5 465.10,197.8 465.25,199.9 465.40,191.2 465.55,191.8 465.70,196.9 465.85,195.5 466.00,192.6 466.15,194.2 466.30,195.6 466.45,194.4 466.60,189.0 466.75,192.7 466.90,193.2 467.05,195.2 467.20,195.2 467.35,193.0 467.50,193.5 467.65,191.4 467.80,190.4 467.95,192.7 468.10,189.3 468.25,187.7 468.40,189.0 468.55,193.2 468.70,191.9 468.85,191.7 469.00,195.3 469.15,192.3 469.30,191.1 469.45,194.3 469.60,191.1 469.75,187.3 469.90,189.6 470.05,189.6 470.20,191.4 470.35,189.8 470.50,191.2 470.65,189.7 470.80,188.7 470.95,188.4 471.10,188.9 471.25,188.3 471.40,185.6 471.55,186.5 471.70,189.9 471.85,186.0 472.00,191.3 472.15,189.0 472.30,187.4 472.45,183.9 472.60,186.6 472.75,185.9 472.90,187.9 473.05,189.2 473.20,188.6 473.35,188.2 473.50,188.6 473.65,190.9 473.80,188.5 473.95,188.3 474.10,186.0 474.25,187.5 474.40,188.3 474.55,183.1 474.70,190.8 474.85,185.8 475.00,187.4 475.15,180.3 475.30,185.4 475.45,182.3 475.60,184.1 475.75,181.7 475.90,181.8 476.05,180.8 476.20,187.6 476.35,183.1 476.50,182.0 476.65,180.8 476.80,183.9 476.95,188.1 477.10,183.8 477.25,181.2 477.40,182.7 477.55,181.2 477.70,182.4 477.85,181.1 478.00,186.1 478.15,188.1 478.30,182.0 478.45,180.6 478.60,183.2 478.75,182.7 478.90,184.4 479.05,180.0 479.20,180.5 479.35,180.9 479.50,180.0 479.65,180.7 479.80,180.3 479.95,180.3 480.10,174.1 480.25,179.9 480.40,178.7 480.55,173.1 480.70,177.6 480.85,175.5 481.00,177.2 481.15,174.4 481.30,179.1 481.45,178.6 481.60,179.3 481.75,177.6 481.90,177.7 482.05,177.6 482.20,178.7 482.35,175.5 482.50,177.9 482.65,172.0 482.80,177.2 482.95,174.6 483.10,179.4 483.25,176.1 483.40,172.2 483.55,175.6 483.70,172.7 483.85,176.6 484.00,173.3 484.15,172.5 484.30,172.4 484.45,168.8 484.60,172.0 484.75,170.9 484.90,171.8 485.05,174.0 485.20,167.8 485.35,171.1 485.50,175.6 485.65,170.8 485.80,170.0 485.95,171.1 486.10,173.4 486.25,169.4 486.40,172.6 486.55,165.6 486.70,171.7 486.85,166.8 487.00,168.7 487.15,170.0 487.30,164.9 487.45,172.1 487.60,167.3 487.75,165.1 487.90,170.6 488.05,167.9 488.20,171.4 488.35,165.3 488.50,161.1 488.65,165.9 488.80,159.9 488.95,167.3 489.10,164.8 489.25,157.8 489.40,164.0 489.55,161.5 489.70,158.4 489.85,160.9 490.00,160.9 490.15,163.2 490.30,159.5 490.45,165.6 490.60,167.9 490.75,162.1 490.90,157.6 491.05,160.0 491.20,159.7 491.35,156.3 491.50,157.6 491.65,162.3 491.80,156.5 491.95,161.9 492.10,158.8 492.25,157.1 492.40,159.1 492.55,162.1 492.70,159.1 492.85,157.8 493.00,159.2 493.15,156.5 493.30,160.1 493.45,162.6 493.60,162.5 493.75,164.4 493.90,160.8 494.05,151.9 494.20,159.2 494.35,152.7 494.50,155.0 494.65,153.7 494.80,157.2 494.95,155.1 495.10,153.2 495.25,154.5 495.40,149.0 495.55,150.7 495.70,155.7 495.85,159.4 496.00,151.5 496.15,156.7 496.30,151.7 496.45,156.4 496.60,148.9 496.75,153.1 496.90,155.7 497.05,148.1 497.20,151.1 497.35,146.9 497.50,148.8 497.65,150.5 497.80,147.7 497.95,145.8 498.10,148.7 498.25,145.3 498.40,146.3 498.55,145.3 498.70,148.6 498.85,144.5 499.00,143.3 499.15,142.8 499.30,141.9 499.45,146.9 499.60,148.8 499.75,144.7 499.90,140.5 500.05,138.6 500.20,141.6 500.35,141.4 500.50,142.7 500.65,141.6 500.80,142.8 500.95,137.0 501.10,145.7 501.25,135.6 501.40,137.6 501.55,138.1 501.70,135.8 501.85,130.7 502.00,142.4 502.15,150.2 502.30,142.4 502.45,131.7 502.60,137.0 502.75,135.7 502.90,140.7 503.05,136.9 503.20,135.0 503.35,131.9 503.50,136.1 503.65,131.9 503.80,133.7 503.95,134.2 504.10,133.0 504.25,132.1 504.40,129.8 504.55,130.8 504.70,126.1 504.85,122.0 505.00,129.6 505.15,133.1 505.30,128.5 505.45,126.2 505.60,128.5 505.75,124.2 505.90,124.3 506.05,125.9 506.20,128.4 506.35,128.0 506.50,132.3 506.65,125.9 506.80,121.4 506.95,122.6 507.10,123.8 507.25,124.6 507.40,120.9 507.55,128.0 507.70,127.3 507.85,122.3 508.00,130.0 508.15,124.7 508.30,122.1 508.45,123.7 508.60,123.6 508.75,130.8 508.90,124.3 509.05,132.1 509.20,129.5 509.35,128.7 509.50,131.4 509.65,129.9 509.80,130.4 509.95,128.3 510.10,136.9 510.25,143.1 510.40,131.7 510.55,136.6 510.70,144.0 510.85,145.6 511.00,145.1 511.15,140.4 511.30,146.1 511.45,142.7 511.60,140.2 511.75,146.1 511.90,147.7 512.05,152.1 512.20,147.2 512.35,147.9 512.50,153.0 512.65,155.1 512.80,159.5 512.95,157.1 513.10,155.0 513.25,157.5 513.40,166.9 513.55,153.5 513.70,160.3 513.85,167.0 514.00,163.3 514.15,161.0 514.30,163.0 514.45,168.4 514.60,164.2 514.75,169.1 514.90,169.4 515.05,172.0 515.20,172.7 515.35,173.5 515.50,173.2 515.65,175.2 515.80,174.0 515.95,173.0 516.10,175.9 516.25,178.7 516.40,180.2 516.55,183.3 516.70,179.1 516.85,178.2 517.00,178.9 517.15,182.5 517.30,177.8 517.45,180.2 517.60,184.4 517.75,185.4 517.90,182.1 518.05,187.5 518.20,187.2 518.35,189.7 518.50,191.4 518.65,189.5 518.80,190.1 518.95,192.4 519.10,189.5 519.25,193.6 519.40,189.8 519.55,196.0 519.70,195.1 519.85,192.4 520.00,194.3 520.15,193.7 520.30,195.6 520.45,197.6 520.60,194.1 520.75,195.2 520.90,197.3 521.05,194.5 521.20,197.1 521.35,193.7 521.50,194.6 521.65,196.5 521.80,197.2 521.95,192.5 522.10,195.2 522.25,198.5 522.40,196.7 522.55,194.5 522.70,197.0 522.85,195.5 523.00,199.4 523.15,195.2 523.30,194.8 523.45,197.1 523.60,196.4 523.75,196.6 523.90,195.0 524.05,198.1 524.20,195.9 524.35,194.3 524.50,202.9 524.65,197.8 524.80,196.0 524.95,199.1 525.10,195.5 525.25,199.8 525.40,200.5 525.55,199.8 525.70,200.4 525.85,201.0 526.00,203.1 526.15,205.8 526.30,194.2 526.45,200.0 526.60,198.5 526.75,201.9 526.90,198.8 527.05,199.4 527.20,197.8 527.35,200.9 527.50,200.2 527.65,199.0 527.80,202.5 527.95,203.2 528.10,200.6 528.25,199.1 528.40,197.9 528.55,203.6 528.70,197.6 528.85,200.4 529.00,198.1 529.15,198.4 529.30,198.4 529.45,203.0 529.60,199.2 529.75,196.6 529.90,198.0 530.05,197.2 530.20,198.8 530.35,198.7 530.50,202.5 530.65,197.7 530.80,197.2 530.95,200.0 531.10,203.3 531.25,198.7 531.40,197.9 531.55,202.5 531.70,196.3 531.85,199.7 532.00,198.6 532.15,200.4 532.30,200.1 532.45,198.7 532.60,198.4 532.75,199.3 532.90,198.4 533.05,197.8 533.20,198.8 533.35,199.1 533.50,202.4 533.65,199.5 533.80,197.2 533.95,199.3 534.10,197.3 534.25,202.4 534.40,199.7 534.55,197.6 534.70,196.8 534.85,200.0 535.00,197.3 535.15,196.4 535.30,198.7 535.45,197.3 535.60,199.1 535.75,199.6 535.90,202.9 536.05,202.4 536.20,202.2 536.35,198.3 536.50,200.9 536.65,198.0 536.80,199.0 536.95,198.7 537.10,197.8 537.25,196.2 537.40,201.8 537.55,200.2 537.70,198.2 537.85,200.2 538.00,199.2 538.15,200.6 538.30,198.3 538.45,200.1 538.60,194.2 538.75,202.8 538.90,200.3 539.05,197.8 539.20,197.1 539.35,194.7 539.50,198.4 539.65,198.0 539.80,198.6 539.95,198.3 540.10,198.9 540.25,195.0 540.40,194.8 540.55,200.0 540.70,198.3 540.85,201.0 541.00,195.7 541.15,197.2 541.30,195.7 541.45,203.8 541.60,194.8 541.75,196.1 541.90,198.9 542.05,200.1 542.20,193.4 542.35,195.9 542.50,193.1 542.65,199.4 542.80,198.3 542.95,196.6 543.10,194.9 543.25,197.1 543.40,197.0 543.55,198.0 543.70,195.2 543.85,200.0 544.00,195.5 544.15,197.1 544.30,197.6 544.45,200.0 544.60,198.0 544.75,201.7 544.90,200.8 545.05,197.0 545.20,199.9 545.35,195.7 545.50,195.0 545.65,201.2 545.80,198.7 545.95,200.9 546.10,197.0 546.25,196.1 546.40,195.6 546.55,200.4 546.70,198.5 546.85,193.6 547.00,194.7 547.15,195.1 547.30,194.1 547.45,199.1 547.60,196.5 547.75,198.5 547.90,197.8 548.05,193.7 548.20,196.0 548.35,194.8 548.50,198.7 548.65,197.8 548.80,195.5 548.95,199.8 549.10,201.9 549.25,194.8 549.40,193.4 549.55,197.6 549.70,198.6 549.85,194.0 550.00,195.1 550.15,195.8 550.30,198.7 550.45,197.6 550.60,194.1 550.75,194.8 550.90,194.5 551.05,196.9 551.20,201.4 551.35,199.7 551.50,198.6 551.65,194.3 551.80,199.4 551.95,195.7 552.10,195.8 552.25,199.4 552.40,196.4 552.55,198.3 552.70,198.2 552.85,195.8 553.00,197.9 553.15,198.7 553.30,197.1 553.45,194.4 553.60,199.8 553.75,196.5 553.90,196.3 554.05,196.9 554.20,199.9 554.35,198.4 554.50,201.6 554.65,195.4 554.80,197.9 554.95,199.1 555.10,198.1 555.25,195.1 555.40,196.1 555.55,197.0 555.70,197.1 555.85,197.5 556.00,197.0 556.15,195.4 556.30,194.2 556.45,200.4 556.60,201.6 556.75,198.5 556.90,200.9 557.05,200.6 557.20,200.8 557.35,197.7 557.50,199.3 557.65,198.2 557.80,196.0 557.95,196.3 558.10,199.4 558.25,199.0 558.40,200.0 558.55,199.1 558.70,199.2 558.85,199.5 559.00,196.6 559.15,197.2 559.30,203.4 559.45,199.5 559.60,201.4 559.75,197.9 559.90,199.0 560.05,201.6 560.20,199.5 560.35,200.0 560.50,200.9 560.65,199.0 560.80,196.7 560.95,196.5 561.10,196.4 561.25,196.2 561.40,194.9 561.55,196.8 561.70,197.5 561.85,202.3 562.00,197.2 562.15,199.0 562.30,198.3 562.45,198.5 562.60,196.4 562.75,200.0 562.90,197.7 563.05,201.5 563.20,200.3 563.35,197.1 563.50,201.6 563.65,197.6 563.80,196.8 563.95,204.5 564.10,201.8 564.25,203.1 564.40,200.2 564.55,199.6 564.70,198.7 564.85,199.6 565.00,199.7 565.15,197.6 565.30,203.3 565.45,198.9 565.60,202.5 565.75,198.3 565.90,201.1 566.05,199.0 566.20,199.6 566.35,200.1 566.50,199.4 566.65,200.3 566.80,199.8 566.95,198.7 567.10,200.7 567.25,200.9 567.40,202.4 567.55,200.6 567.70,198.5 567.85,200.0 568.00,201.0 568.15,200.6 568.30,202.2 568.45,203.9 568.60,201.6 568.75,201.7 568.90,201.8 569.05,199.9 569.20,200.2 569.35,201.7 569.50,201.4 569.65,197.1 569.80,200.0 569.95,199.7 570.10,200.5 570.25,203.2 570.40,203.4 570.55,199.1 570.70,203.8 570.85,200.0 571.00,203.0 571.15,201.3 571.30,201.1 571.45,199.8 571.60,203.2 571.75,202.7 571.90,198.8 572.05,204.7 572.20,201.6 572.35,202.9 572.50,200.4 572.65,201.9 572.80,202.2 572.95,196.9 573.10,205.5 573.25,203.6 573.40,202.0 573.55,206.0 573.70,205.5 573.85,205.3 574.00,200.5 574.15,206.1 574.30,202.5 574.45,204.8 574.60,199.6 574.75,201.5 574.90,200.2 575.05,200.4 575.20,199.8 575.35,199.5 575.50,202.8 575.65,201.4 575.80,201.3 575.95,198.1 576.10,201.9 576.25,199.5 576.40,204.0 576.55,201.8 576.70,203.6 576.85,202.4 577.00,201.0 577.15,200.2 577.30,204.7 577.45,203.1 577.60,200.3 577.75,202.9 577.90,204.2 578.05,202.8 578.20,204.0 578.35,201.7 578.50,198.6 578.65,199.6 578.80,201.6 578.95,202.9 579.10,204.0 579.25,205.5 579.40,201.7 579.55,202.0 579.70,203.5 579.85,202.4 580.00,201.5 580.15,202.2 580.30,205.2 580.45,202.1 580.60,199.5 580.75,205.6 580.90,202.6 581.05,205.6 581.20,201.9 581.35,199.0 581.50,202.2 581.65,200.3 581.80,203.3 581.95,203.3 582.10,202.0 582.25,205.9 582.40,200.4 582.55,200.4 582.70,203.4 582.85,204.2 583.00,203.1 583.15,201.4 583.30,204.8 583.45,199.3 583.60,201.0 583.75,202.5 583.90,199.4 584.05,202.8 584.20,202.1 584.35,202.8 584.50,203.6 584.65,204.4 584.80,203.3 584.95,202.9 585.10,199.2 585.25,202.2 585.40,201.0 585.55,201.5 585.70,197.5 585.85,200.7 586.00,202.1 586.15,205.4 586.30,201.1 586.45,200.2 586.60,203.1 586.75,206.5 586.90,204.3 587.05,202.4 587.20,203.3 587.35,201.4 587.50,203.6 587.65,202.5 587.80,206.9 587.95,201.7 588.10,204.2 588.25,204.4 588.40,203.3 588.55,203.8 588.70,207.5 588.85,200.0 589.00,202.6 589.15,204.1 589.30,200.4 589.45,200.1 589.60,199.1 589.75,206.2 589.90,203.6 590.05,201.7 590.20,202.0 590.35,202.5 590.50,203.6 590.65,201.3 590.80,204.1 590.95,204.2 591.10,205.8 591.25,204.0 591.40,204.4 591.55,203.8 591.70,205.6 591.85,204.5 592.00,202.9 592.15,202.1 592.30,202.0 592.45,203.0 592.60,201.2 592.75,202.7 592.90,201.6 593.05,202.7 593.20,202.5 593.35,203.1 593.50,204.8 593.65,202.8 593.80,199.5 593.95,203.7 594.10,202.5 594.25,202.8 594.40,202.5 594.55,201.1 594.70,200.2 594.85,203.8 595.00,204.3 595.15,199.8 595.30,202.7 595.45,200.1 595.60,200.2 595.75,205.3 595.90,203.2 596.05,206.2 596.20,200.2 596.35,203.3 596.50,204.3 596.65,204.0 596.80,205.8 596.95,202.7 597.10,202.7 597.25,202.6 597.40,203.1 597.55,202.4 597.70,201.8 597.85,201.8 598.00,203.5 598.15,201.5 598.30,200.9 598.45,204.4 598.60,202.2 598.75,202.0 598.90,203.2 599.05,201.7 599.20,200.6 599.35,203.9 599.50,204.3 599.65,200.5 599.80,201.9 599.95,203.3 600.10,205.1 600.25,204.7 600.40,204.7 600.55,202.5 600.70,203.6 600.85,205.3 601.00,200.9 601.15,204.9 601.30,203.8 601.45,201.8 601.60,203.8 601.75,203.6 601.90,201.1 602.05,201.9 602.20,200.7 602.35,201.8 602.50,199.9 602.65,199.1 602.80,203.5 602.95,198.9 603.10,199.3 603.25,200.5 603.40,206.4 603.55,199.6 603.70,201.9 603.85,201.4 604.00,204.3 604.15,201.4 604.30,205.0 604.45,202.6 604.60,205.1 604.75,203.4 604.90,202.6 605.05,199.9 605.20,201.3 605.35,201.8 605.50,201.5 605.65,203.5 605.80,202.3 605.95,204.1 606.10,202.2 606.25,201.9 606.40,204.2 606.55,203.0 606.70,204.4 606.85,203.8 607.00,201.7 607.15,202.8 607.30,203.0 607.45,202.6 607.60,205.3 607.75,198.7 607.90,203.0 608.05,202.8 608.20,204.1 608.35,201.6 608.50,203.3 608.65,201.6 608.80,199.9 608.95,200.4 609.10,204.7 609.25,199.5 609.40,202.7 609.55,199.7 609.70,204.1 609.85,203.4 610.00,202.7 610.15,201.4 610.30,202.6 610.45,203.1 610.60,201.6 610.75,197.9 610.90,203.2 611.05,201.4 611.20,201.4 611.35,200.7 611.50,195.1 611.65,201.3 611.80,201.3 611.95,203.3 612.10,203.1 612.25,201.0 612.40,203.6 612.55,201.9 612.70,202.7 612.85,201.9 613.00,203.4 613.15,203.2 613.30,202.9 613.45,204.8 613.60,204.0 613.75,202.7 613.90,201.2 614.05,201.6 614.20,202.3 614.35,202.3 614.50,200.8 614.65,200.1 614.80,203.4 614.95,202.6 615.10,202.8 615.25,199.2 615.40,199.5 615.55,203.1 615.70,204.7 615.85,205.1 616.00,204.3 616.15,204.5 616.30,199.9 616.45,204.5 616.60,203.7 616.75,197.9 616.90,204.7 617.05,204.0 617.20,200.6 617.35,198.7 617.50,203.7 617.65,201.6 617.80,199.1 617.95,200.1 618.10,202.6 618.25,200.8 618.40,205.1 618.55,200.3 618.70,203.3 618.85,204.0 619.00,201.9 619.15,202.6 619.30,200.3 619.45,204.1 619.60,201.8 619.75,200.5 619.90,201.9 620.05,204.6 620.20,202.0 620.35,199.7 620.50,200.6 620.65,205.0 620.80,202.4 620.95,200.7 621.10,202.9 621.25,203.3 621.40,203.4 621.55,201.3 621.70,202.5 621.85,202.7 622.00,202.5 622.15,202.5 622.30,202.3 622.45,202.3 622.60,199.8 622.75,200.3 622.90,204.5 623.05,201.8 623.20,200.8 623.35,203.5 623.50,206.6 623.65,206.6 623.80,202.2 623.95,202.9 624.10,200.8 624.25,204.2 624.40,204.8 624.55,201.8 624.70,200.1 624.85,201.3 625.00,203.2 625.15,199.5 625.30,203.6 625.45,201.6 625.60,200.6 625.75,201.4 625.90,199.7 626.05,202.7 626.20,200.7 626.35,202.4 626.50,204.4 626.65,201.0 626.80,201.8 626.95,197.1 627.10,202.9 627.25,202.2 627.40,202.2 627.55,200.3 627.70,200.4 627.85,196.6 628.00,201.8 628.15,200.5 628.30,202.0 628.45,202.3 628.60,203.0 628.75,200.4 628.90,204.1 629.05,203.2 629.20,201.5 629.35,199.3 629.50,200.5 629.65,198.9 629.80,202.0 629.95,200.7 630.10,205.5 630.25,204.0 630.40,200.8 630.55,200.4 630.70,201.1 630.85,199.9 631.00,203.4 631.15,200.6 631.30,196.5 631.45,199.7 631.60,195.7 631.75,200.6 631.90,202.8 632.05,200.9 632.20,198.7 632.35,201.1 632.50,203.5 632.65,201.8 632.80,198.6 632.95,199.8 633.10,202.1 633.25,201.4 633.40,202.3 633.55,200.3 633.70,195.4 633.85,201.0 634.00,204.4 634.15,203.4 634.30,198.1 634.45,200.0 634.60,200.2 634.75,204.5 634.90,202.0 635.05,198.3 635.20,200.4 635.35,204.2 635.50,203.0 635.65,201.4 635.80,198.6 635.95,198.6 636.10,206.8 636.25,201.4 636.40,199.5 636.55,201.1 636.70,206.5 636.85,204.6 637.00,202.9 637.15,200.6 637.30,202.7 637.45,203.9 637.60,200.7 637.75,200.1 637.90,201.4 638.05,202.0 638.20,200.2 638.35,197.6 638.50,205.0 638.65,203.1 638.80,200.3 638.95,202.7 639.10,203.7 639.25,203.9 639.40,201.0 639.55,200.4 639.70,200.9 639.85,202.2 640.00,196.9 640.15,204.9 640.30,200.7 640.45,201.5 640.60,200.1 640.75,200.3 640.90,202.0 641.05,200.8 641.20,201.3 641.35,199.7 641.50,202.8 641.65,199.7 641.80,201.5 641.95,198.9 642.10,202.0 642.25,202.4 642.40,202.5 642.55,199.8 642.70,201.1 642.85,201.7 643.00,203.7 643.15,200.5 643.30,201.4 643.45,200.5 643.60,198.5 643.75,197.7 643.90,197.9 644.05,202.4 644.20,196.8 644.35,200.2 644.50,198.5 644.65,200.9 644.80,200.1 644.95,202.8 645.10,201.0 645.25,198.7 645.40,202.0 645.55,199.9 645.70,201.9 645.85,199.5 646.00,196.5 646.15,201.7 646.30,200.3 646.45,205.6 646.60,201.3 646.75,198.0 646.90,199.7 647.05,204.0 647.20,201.1 647.35,200.7 647.50,201.7 647.65,201.9 647.80,200.7 647.95,199.9 648.10,199.4 648.25,204.4 648.40,207.6 648.55,203.1 648.70,204.7 648.85,203.1 649.00,202.3 649.15,199.1 649.30,202.0 649.45,202.1 649.60,201.3 649.75,201.0 649.90,201.7 650.05,201.4 650.20,200.9 650.35,200.5 650.50,201.3 650.65,202.4 650.80,202.3 650.95,201.9 651.10,203.0 651.25,202.2 651.40,203.7 651.55,203.9 651.70,200.2 651.85,201.7 652.00,201.6 652.15,202.1 652.30,200.7 652.45,206.6 652.60,198.6 652.75,200.6 652.90,203.1 653.05,198.3 653.20,200.6 653.35,201.4 653.50,199.8 653.65,202.4 653.80,197.6 653.95,198.9 654.10,204.9 654.25,201.4 654.40,201.9 654.55,197.7 654.70,199.7 654.85,201.5 655.00,198.1 655.15,198.5 655.30,201.7 655.45,197.9 655.60,199.9 655.75,199.3 655.90,197.4 656.05,200.5 656.20,200.9 656.35,196.2 656.50,202.4 656.65,198.7 656.80,199.1 656.95,201.3 657.10,201.6 657.25,202.3 657.40,197.0 657.55,199.9 657.70,201.9 657.85,198.6 658.00,198.6 658.15,199.6 658.30,201.5 658.45,201.6 658.60,200.8 658.75,199.8 658.90,198.1 659.05,198.6 659.20,196.8 659.35,202.4 659.50,200.5 659.65,199.7 659.80,199.1 659.95,200.2 660.10,195.9 660.25,202.5 660.40,201.1 660.55,198.1 660.70,199.1 660.85,203.5 661.00,201.0 661.15,202.2 661.30,199.5 661.45,197.5 661.60,198.1 661.75,200.7 661.90,199.2 662.05,197.6 662.20,193.4 662.35,199.8 662.50,200.7 662.65,198.5 662.80,198.6 662.95,198.6 663.10,196.4 663.25,199.5 663.40,196.3 663.55,198.5 663.70,199.4 663.85,198.7 664.00,196.2 664.15,196.4 664.30,198.4 664.45,194.8 664.60,195.6 664.75,198.8 664.90,196.8 665.05,198.6 665.20,197.8 665.35,198.4 665.50,197.6 665.65,196.2 665.80,195.8 665.95,199.7 666.10,199.3 666.25,196.8 666.40,202.1 666.55,199.0 666.70,198.3 666.85,199.2 667.00,196.6 667.15,197.0 667.30,197.4 667.45,198.4 667.60,200.9 667.75,200.0 667.90,196.8 668.05,200.7 668.20,204.3 668.35,196.7 668.50,201.1 668.65,195.5 668.80,197.0 668.95,198.2 669.10,193.6 669.25,197.9 669.40,199.6 669.55,201.2 669.70,199.9 669.85,200.3 670.00,194.9 670.15,199.1 670.30,199.0 670.45,204.0 670.60,201.7 670.75,197.4 670.90,201.5 671.05,196.9 671.20,200.1 671.35,197.0 671.50,201.8 671.65,199.7 671.80,201.7 671.95,200.4 672.10,198.8 672.25,197.4 672.40,198.4 672.55,199.3 672.70,200.1 672.85,199.9 673.00,198.6 673.15,199.9 673.30,196.9 673.45,199.1 673.60,196.1 673.75,199.4 673.90,198.1 674.05,201.9 674.20,198.3 674.35,198.6 674.50,196.6 674.65,201.4 674.80,197.2 674.95,202.6" fill="none" stroke="#e82846" stroke-width="1.3" stroke-linejoin="round"/><path d="M389.80,289.2 389.95,290.7 390.10,290.1 390.25,291.1 390.40,290.0 390.55,287.7 390.70,288.1 390.85,291.5 391.00,291.3 391.15,290.0 391.30,290.9 391.45,292.3 391.60,288.6 391.75,291.8 391.90,292.9 392.05,291.9 392.20,289.4 392.35,290.5 392.50,289.4 392.65,288.2 392.80,288.7 392.95,289.3 393.10,289.5 393.25,290.0 393.40,287.3 393.55,286.4 393.70,288.4 393.85,291.2 394.00,289.8 394.15,290.1 394.30,288.6 394.45,288.5 394.60,289.4 394.75,290.3 394.90,290.5 395.05,293.0 395.20,292.0 395.35,291.0 395.50,287.5 395.65,289.3 395.80,289.9 395.95,288.3 396.10,290.5 396.25,289.6 396.40,290.1 396.55,290.8 396.70,289.5 396.85,291.0 397.00,289.4 397.15,290.1 397.30,290.9 397.45,294.1 397.60,288.5 397.75,292.5 397.90,290.1 398.05,288.4 398.20,289.6 398.35,289.4 398.50,291.4 398.65,291.0 398.80,291.2 398.95,291.5 399.10,288.7 399.25,287.8 399.40,291.4 399.55,289.8 399.70,288.7 399.85,292.1 400.00,293.1 400.15,291.8 400.30,289.2 400.45,293.0 400.60,292.1 400.75,287.8 400.90,290.6 401.05,290.2 401.20,288.7 401.35,291.4 401.50,291.5 401.65,288.3 401.80,285.9 401.95,288.9 402.10,289.5 402.25,288.9 402.40,289.6 402.55,291.9 402.70,290.3 402.85,288.7 403.00,287.3 403.15,288.4 403.30,288.1 403.45,288.9 403.60,290.4 403.75,286.4 403.90,289.2 404.05,290.9 404.20,289.5 404.35,289.4 404.50,288.1 404.65,289.0 404.80,292.9 404.95,290.3 405.10,291.0 405.25,290.3 405.40,287.7 405.55,290.6 405.70,290.9 405.85,289.8 406.00,292.5 406.15,291.1 406.30,287.7 406.45,289.6 406.60,288.3 406.75,290.0 406.90,286.0 407.05,290.6 407.20,290.2 407.35,288.8 407.50,292.6 407.65,291.2 407.80,290.2 407.95,290.2 408.10,289.5 408.25,289.0 408.40,289.5 408.55,291.3 408.70,288.7 408.85,288.6 409.00,291.6 409.15,288.8 409.30,290.0 409.45,288.1 409.60,289.1 409.75,288.3 409.90,288.4 410.05,289.3 410.20,290.2 410.35,289.8 410.50,292.5 410.65,290.8 410.80,289.4 410.95,290.6 411.10,291.1 411.25,291.5 411.40,289.2 411.55,287.7 411.70,287.7 411.85,287.3 412.00,291.8 412.15,287.4 412.30,292.3 412.45,289.9 412.60,291.4 412.75,288.0 412.90,289.7 413.05,291.9 413.20,288.8 413.35,292.5 413.50,290.9 413.65,290.1 413.80,292.2 413.95,289.4 414.10,289.8 414.25,290.1 414.40,287.2 414.55,290.0 414.70,290.9 414.85,290.6 415.00,291.7 415.15,290.0 415.30,288.2 415.45,292.2 415.60,286.7 415.75,290.4 415.90,285.7 416.05,288.9 416.20,292.7 416.35,286.9 416.50,292.0 416.65,288.9 416.80,288.4 416.95,289.3 417.10,289.4 417.25,291.1 417.40,291.2 417.55,291.3 417.70,290.5 417.85,289.5 418.00,292.8 418.15,291.7 418.30,290.0 418.45,290.3 418.60,290.1 418.75,292.3 418.90,290.0 419.05,289.5 419.20,290.3 419.35,289.9 419.50,288.4 419.65,287.5 419.80,290.7 419.95,289.9 420.10,289.7 420.25,288.8 420.40,288.4 420.55,289.6 420.70,288.4 420.85,288.3 421.00,289.0 421.15,290.4 421.30,288.5 421.45,290.5 421.60,290.6 421.75,289.3 421.90,288.3 422.05,290.0 422.20,289.5 422.35,292.0 422.50,289.1 422.65,290.9 422.80,291.1 422.95,292.1 423.10,287.0 423.25,290.4 423.40,289.6 423.55,289.4 423.70,286.4 423.85,288.6 424.00,289.4 424.15,291.1 424.30,289.0 424.45,291.0 424.60,288.3 424.75,290.2 424.90,290.8 425.05,288.7 425.20,288.9 425.35,289.5 425.50,292.1 425.65,289.3 425.80,287.2 425.95,288.6 426.10,290.3 426.25,291.4 426.40,289.5 426.55,289.3 426.70,289.6 426.85,290.0 427.00,289.9 427.15,288.7 427.30,290.9 427.45,288.2 427.60,286.4 427.75,288.4 427.90,288.2 428.05,289.7 428.20,287.4 428.35,284.6 428.50,286.8 428.65,288.1 428.80,287.2 428.95,287.6 429.10,290.3 429.25,288.2 429.40,290.4 429.55,290.0 429.70,290.2 429.85,288.7 430.00,288.1 430.15,290.3 430.30,287.7 430.45,289.1 430.60,288.5 430.75,287.3 430.90,284.6 431.05,288.2 431.20,289.0 431.35,286.9 431.50,289.7 431.65,287.1 431.80,286.9 431.95,288.9 432.10,285.7 432.25,288.5 432.40,290.9 432.55,288.5 432.70,287.3 432.85,288.9 433.00,289.6 433.15,287.6 433.30,288.2 433.45,289.0 433.60,289.6 433.75,287.5 433.90,288.3 434.05,290.4 434.20,288.9 434.35,288.2 434.50,291.4 434.65,286.7 434.80,288.3 434.95,289.6 435.10,290.0 435.25,287.0 435.40,288.1 435.55,288.8 435.70,287.0 435.85,288.7 436.00,287.9 436.15,286.7 436.30,285.4 436.45,287.5 436.60,288.1 436.75,286.0 436.90,286.2 437.05,285.9 437.20,284.5 437.35,287.5 437.50,288.3 437.65,289.8 437.80,286.6 437.95,289.7 438.10,289.2 438.25,287.9 438.40,289.3 438.55,287.9 438.70,290.2 438.85,287.5 439.00,289.4 439.15,291.7 439.30,288.3 439.45,287.5 439.60,287.9 439.75,286.5 439.90,287.2 440.05,288.7 440.20,285.7 440.35,288.2 440.50,285.8 440.65,284.8 440.80,289.9 440.95,285.7 441.10,286.9 441.25,288.0 441.40,287.0 441.55,289.0 441.70,287.4 441.85,286.9 442.00,287.3 442.15,286.9 442.30,288.4 442.45,286.3 442.60,288.5 442.75,287.6 442.90,287.1 443.05,288.5 443.20,284.0 443.35,287.3 443.50,286.0 443.65,286.1 443.80,284.9 443.95,288.1 444.10,290.6 444.25,287.5 444.40,287.7 444.55,286.2 444.70,290.3 444.85,288.9 445.00,287.2 445.15,289.4 445.30,288.1 445.45,286.7 445.60,288.2 445.75,287.3 445.90,289.5 446.05,286.4 446.20,288.0 446.35,287.1 446.50,287.8 446.65,286.3 446.80,287.0 446.95,285.5 447.10,287.3 447.25,288.1 447.40,288.3 447.55,288.0 447.70,288.9 447.85,285.9 448.00,286.7 448.15,286.1 448.30,284.8 448.45,286.3 448.60,284.5 448.75,286.9 448.90,287.8 449.05,287.7 449.20,284.7 449.35,289.9 449.50,288.4 449.65,285.6 449.80,284.2 449.95,286.4 450.10,286.7 450.25,286.2 450.40,286.0 450.55,286.6 450.70,287.3 450.85,289.0 451.00,285.2 451.15,286.1 451.30,287.2 451.45,286.3 451.60,280.8 451.75,286.1 451.90,288.3 452.05,286.9 452.20,287.3 452.35,285.3 452.50,286.0 452.65,283.0 452.80,283.3 452.95,284.4 453.10,281.6 453.25,286.2 453.40,285.1 453.55,286.4 453.70,286.2 453.85,286.5 454.00,287.0 454.15,284.8 454.30,284.3 454.45,283.7 454.60,285.7 454.75,284.3 454.90,283.0 455.05,285.1 455.20,286.1 455.35,286.3 455.50,283.9 455.65,283.3 455.80,284.9 455.95,285.2 456.10,283.7 456.25,285.2 456.40,283.0 456.55,285.1 456.70,286.1 456.85,281.9 457.00,285.0 457.15,283.8 457.30,282.1 457.45,283.7 457.60,285.1 457.75,285.5 457.90,283.1 458.05,283.9 458.20,286.9 458.35,284.9 458.50,284.7 458.65,285.7 458.80,286.0 458.95,284.4 459.10,282.9 459.25,282.8 459.40,285.7 459.55,283.2 459.70,282.0 459.85,281.4 460.00,285.8 460.15,286.2 460.30,283.3 460.45,285.2 460.60,284.7 460.75,281.1 460.90,284.6 461.05,283.8 461.20,283.2 461.35,283.2 461.50,280.9 461.65,284.5 461.80,283.7 461.95,281.8 462.10,282.2 462.25,280.8 462.40,284.9 462.55,284.0 462.70,284.8 462.85,284.2 463.00,285.3 463.15,285.8 463.30,286.3 463.45,283.7 463.60,282.2 463.75,281.3 463.90,284.6 464.05,283.8 464.20,286.6 464.35,283.5 464.50,280.6 464.65,283.8 464.80,282.3 464.95,284.0 465.10,281.2 465.25,283.0 465.40,281.9 465.55,281.4 465.70,280.7 465.85,283.5 466.00,281.4 466.15,279.9 466.30,281.1 466.45,282.6 466.60,283.0 466.75,282.7 466.90,283.6 467.05,283.3 467.20,282.9 467.35,281.8 467.50,282.4 467.65,284.0 467.80,281.6 467.95,281.6 468.10,281.6 468.25,283.0 468.40,280.1 468.55,280.5 468.70,282.5 468.85,279.6 469.00,282.7 469.15,280.7 469.30,280.3 469.45,279.5 469.60,277.8 469.75,279.3 469.90,277.8 470.05,278.0 470.20,278.7 470.35,280.6 470.50,279.7 470.65,280.7 470.80,277.6 470.95,279.6 471.10,279.6 471.25,280.6 471.40,279.5 471.55,280.9 471.70,279.7 471.85,282.2 472.00,283.6 472.15,283.0 472.30,281.4 472.45,280.9 472.60,281.6 472.75,279.9 472.90,278.5 473.05,278.7 473.20,278.8 473.35,278.6 473.50,281.8 473.65,283.2 473.80,279.2 473.95,276.7 474.10,279.1 474.25,279.0 474.40,276.9 474.55,279.9 474.70,278.6 474.85,277.6 475.00,277.8 475.15,281.1 475.30,277.3 475.45,278.7 475.60,277.5 475.75,276.8 475.90,277.1 476.05,279.4 476.20,280.3 476.35,275.7 476.50,276.2 476.65,276.7 476.80,277.4 476.95,277.8 477.10,278.2 477.25,276.9 477.40,273.3 477.55,279.1 477.70,277.4 477.85,276.1 478.00,276.0 478.15,275.7 478.30,275.9 478.45,271.9 478.60,277.5 478.75,274.1 478.90,276.9 479.05,275.9 479.20,273.3 479.35,274.9 479.50,276.0 479.65,275.4 479.80,274.3 479.95,272.8 480.10,274.8 480.25,276.0 480.40,274.5 480.55,270.4 480.70,274.1 480.85,273.3 481.00,276.4 481.15,272.8 481.30,271.0 481.45,272.8 481.60,275.8 481.75,274.5 481.90,273.4 482.05,276.6 482.20,270.2 482.35,269.5 482.50,268.4 482.65,271.4 482.80,269.8 482.95,268.1 483.10,271.8 483.25,270.3 483.40,272.7 483.55,272.5 483.70,268.7 483.85,270.4 484.00,268.3 484.15,266.2 484.30,273.9 484.45,269.2 484.60,267.4 484.75,270.4 484.90,266.4 485.05,266.3 485.20,268.1 485.35,265.3 485.50,266.6 485.65,265.8 485.80,262.7 485.95,266.1 486.10,265.0 486.25,265.0 486.40,266.9 486.55,262.6 486.70,262.6 486.85,261.9 487.00,262.2 487.15,264.0 487.30,264.1 487.45,262.0 487.60,261.9 487.75,263.3 487.90,256.7 488.05,258.1 488.20,263.7 488.35,258.0 488.50,259.0 488.65,259.3 488.80,261.8 488.95,260.4 489.10,256.9 489.25,255.4 489.40,260.0 489.55,257.2 489.70,254.3 489.85,258.7 490.00,253.3 490.15,254.0 490.30,257.2 490.45,253.0 490.60,259.2 490.75,257.5 490.90,249.3 491.05,253.2 491.20,254.7 491.35,254.2 491.50,254.0 491.65,248.3 491.80,254.2 491.95,248.8 492.10,248.5 492.25,248.3 492.40,250.4 492.55,247.3 492.70,247.8 492.85,244.5 493.00,244.0 493.15,248.1 493.30,243.9 493.45,243.5 493.60,247.2 493.75,245.1 493.90,245.2 494.05,245.9 494.20,244.9 494.35,245.8 494.50,243.4 494.65,239.6 494.80,240.0 494.95,239.3 495.10,236.6 495.25,238.4 495.40,236.0 495.55,236.7 495.70,235.8 495.85,233.7 496.00,239.1 496.15,238.1 496.30,237.3 496.45,236.0 496.60,234.9 496.75,230.2 496.90,234.5 497.05,227.2 497.20,226.2 497.35,225.5 497.50,223.4 497.65,224.4 497.80,229.1 497.95,218.2 498.10,218.3 498.25,221.6 498.40,226.5 498.55,221.7 498.70,224.6 498.85,219.5 499.00,220.0 499.15,220.0 499.30,213.3 499.45,214.4 499.60,216.2 499.75,216.3 499.90,216.8 500.05,213.7 500.20,215.2 500.35,210.0 500.50,214.4 500.65,215.7 500.80,213.2 500.95,209.4 501.10,214.4 501.25,215.3 501.40,212.7 501.55,210.5 501.70,213.2 501.85,215.1 502.00,209.7 502.15,206.5 502.30,211.8 502.45,214.8 502.60,211.1 502.75,211.6 502.90,209.2 503.05,207.6 503.20,213.7 503.35,216.4 503.50,212.5 503.65,210.9 503.80,211.2 503.95,218.3 504.10,211.9 504.25,214.1 504.40,216.5 504.55,219.4 504.70,217.0 504.85,214.5 505.00,217.3 505.15,217.0 505.30,220.8 505.45,220.2 505.60,224.5 505.75,222.2 505.90,224.4 506.05,227.5 506.20,228.2 506.35,221.4 506.50,227.7 506.65,227.5 506.80,227.3 506.95,225.9 507.10,224.3 507.25,229.2 507.40,232.8 507.55,227.0 507.70,232.4 507.85,235.4 508.00,236.8 508.15,231.8 508.30,237.0 508.45,233.3 508.60,242.3 508.75,239.0 508.90,241.9 509.05,240.4 509.20,238.1 509.35,247.0 509.50,244.3 509.65,243.4 509.80,239.9 509.95,249.1 510.10,243.8 510.25,246.4 510.40,249.7 510.55,250.2 510.70,247.4 510.85,248.7 511.00,250.7 511.15,251.0 511.30,245.6 511.45,252.3 511.60,251.8 511.75,255.2 511.90,252.2 512.05,255.4 512.20,256.4 512.35,257.2 512.50,255.0 512.65,256.7 512.80,259.6 512.95,265.2 513.10,260.1 513.25,263.1 513.40,262.6 513.55,265.4 513.70,259.0 513.85,259.0 514.00,264.5 514.15,264.1 514.30,263.9 514.45,264.7 514.60,267.2 514.75,270.9 514.90,262.9 515.05,265.8 515.20,268.8 515.35,265.4 515.50,267.9 515.65,267.8 515.80,267.7 515.95,269.9 516.10,269.0 516.25,271.3 516.40,274.5 516.55,269.5 516.70,272.6 516.85,271.4 517.00,271.0 517.15,273.8 517.30,273.7 517.45,272.4 517.60,274.2 517.75,270.4 517.90,273.5 518.05,274.5 518.20,271.2 518.35,278.5 518.50,274.9 518.65,275.2 518.80,277.8 518.95,278.7 519.10,277.2 519.25,277.5 519.40,275.5 519.55,273.4 519.70,273.4 519.85,275.9 520.00,278.5 520.15,274.5 520.30,278.0 520.45,275.0 520.60,277.6 520.75,280.4 520.90,277.6 521.05,274.5 521.20,281.3 521.35,277.3 521.50,282.5 521.65,281.7 521.80,282.4 521.95,279.5 522.10,282.7 522.25,279.0 522.40,281.9 522.55,279.5 522.70,281.2 522.85,282.2 523.00,280.4 523.15,279.0 523.30,282.2 523.45,281.1 523.60,281.2 523.75,282.8 523.90,280.6 524.05,278.4 524.20,279.4 524.35,280.8 524.50,279.1 524.65,281.8 524.80,282.5 524.95,279.9 525.10,283.7 525.25,280.8 525.40,278.9 525.55,283.4 525.70,281.8 525.85,282.7 526.00,282.8 526.15,279.3 526.30,282.1 526.45,285.4 526.60,285.0 526.75,282.3 526.90,283.2 527.05,283.3 527.20,284.0 527.35,281.8 527.50,283.5 527.65,280.2 527.80,284.5 527.95,281.9 528.10,283.2 528.25,285.7 528.40,283.9 528.55,281.5 528.70,283.1 528.85,284.2 529.00,281.8 529.15,285.4 529.30,284.4 529.45,284.0 529.60,281.3 529.75,280.9 529.90,285.2 530.05,283.0 530.20,282.5 530.35,283.6 530.50,284.5 530.65,286.3 530.80,284.2 530.95,285.3 531.10,282.4 531.25,287.3 531.40,284.9 531.55,284.3 531.70,283.1 531.85,283.1 532.00,284.6 532.15,281.3 532.30,287.1 532.45,283.8 532.60,286.9 532.75,282.4 532.90,281.4 533.05,281.8 533.20,283.9 533.35,284.8 533.50,284.5 533.65,287.3 533.80,282.8 533.95,281.0 534.10,282.5 534.25,280.9 534.40,283.1 534.55,282.9 534.70,282.1 534.85,282.4 535.00,283.0 535.15,281.3 535.30,284.5 535.45,281.5 535.60,284.5 535.75,280.7 535.90,284.5 536.05,285.0 536.20,286.0 536.35,282.9 536.50,284.4 536.65,283.5 536.80,286.6 536.95,284.0 537.10,284.6 537.25,283.8 537.40,283.2 537.55,286.2 537.70,284.0 537.85,283.7 538.00,286.5 538.15,283.9 538.30,284.9 538.45,282.1 538.60,284.0 538.75,287.2 538.90,285.9 539.05,285.6 539.20,283.8 539.35,285.6 539.50,286.0 539.65,286.0 539.80,285.3 539.95,284.6 540.10,287.1 540.25,285.1 540.40,285.5 540.55,280.5 540.70,285.5 540.85,284.9 541.00,284.4 541.15,287.5 541.30,285.1 541.45,287.0 541.60,286.2 541.75,286.3 541.90,284.6 542.05,286.8 542.20,287.9 542.35,287.2 542.50,288.6 542.65,284.5 542.80,283.5 542.95,286.8 543.10,287.0 543.25,285.0 543.40,285.5 543.55,283.8 543.70,284.7 543.85,285.1 544.00,284.3 544.15,286.7 544.30,285.4 544.45,283.7 544.60,282.8 544.75,287.0 544.90,281.8 545.05,283.1 545.20,284.9 545.35,282.5 545.50,284.1 545.65,287.0 545.80,286.2 545.95,283.9 546.10,285.0 546.25,285.0 546.40,286.9 546.55,283.2 546.70,282.9 546.85,284.5 547.00,284.4 547.15,279.9 547.30,279.6 547.45,281.6 547.60,281.0 547.75,282.5 547.90,284.6 548.05,280.3 548.20,282.8 548.35,283.3 548.50,282.1 548.65,285.9 548.80,284.8 548.95,281.4 549.10,285.1 549.25,283.8 549.40,286.0 549.55,283.9 549.70,286.0 549.85,286.8 550.00,282.6 550.15,284.1 550.30,283.9 550.45,283.5 550.60,284.9 550.75,286.1 550.90,284.9 551.05,285.2 551.20,284.2 551.35,285.2 551.50,285.4 551.65,285.4 551.80,286.0 551.95,286.2 552.10,286.8 552.25,285.0 552.40,283.3 552.55,282.9 552.70,284.2 552.85,284.5 553.00,289.4 553.15,284.4 553.30,281.9 553.45,284.8 553.60,283.6 553.75,284.9 553.90,284.4 554.05,286.4 554.20,288.4 554.35,287.8 554.50,286.4 554.65,288.9 554.80,287.0 554.95,286.9 555.10,280.3 555.25,284.1 555.40,284.8 555.55,284.7 555.70,284.5 555.85,284.6 556.00,284.2 556.15,286.7 556.30,283.8 556.45,284.3 556.60,286.4 556.75,288.8 556.90,287.6 557.05,283.9 557.20,285.8 557.35,285.8 557.50,288.0 557.65,282.9 557.80,286.2 557.95,284.3 558.10,281.7 558.25,287.5 558.40,286.6 558.55,286.4 558.70,284.1 558.85,287.1 559.00,286.3 559.15,285.5 559.30,285.6 559.45,285.5 559.60,287.8 559.75,288.5 559.90,284.8 560.05,286.0 560.20,284.7 560.35,286.5 560.50,285.5 560.65,288.4 560.80,285.3 560.95,288.1 561.10,286.8 561.25,286.2 561.40,285.8 561.55,290.6 561.70,285.6 561.85,287.6 562.00,284.9 562.15,285.8 562.30,283.5 562.45,288.4 562.60,288.4 562.75,287.5 562.90,289.3 563.05,290.0 563.20,285.3 563.35,289.7 563.50,286.8 563.65,286.3 563.80,287.6 563.95,287.8 564.10,286.0 564.25,285.5 564.40,286.5 564.55,286.4 564.70,287.8 564.85,286.5 565.00,289.3 565.15,290.7 565.30,286.7 565.45,285.5 565.60,286.4 565.75,287.0 565.90,290.1 566.05,290.0 566.20,290.1 566.35,287.5 566.50,287.2 566.65,286.5 566.80,287.7 566.95,288.6 567.10,287.9 567.25,286.7 567.40,289.6 567.55,291.1 567.70,287.7 567.85,288.0 568.00,289.9 568.15,288.6 568.30,287.0 568.45,286.6 568.60,289.2 568.75,289.0 568.90,286.9 569.05,287.2 569.20,286.6 569.35,287.9 569.50,289.1 569.65,287.5 569.80,283.6 569.95,289.0 570.10,289.6 570.25,287.3 570.40,286.6 570.55,286.3 570.70,289.9 570.85,288.5 571.00,290.8 571.15,291.5 571.30,287.1 571.45,288.5 571.60,287.3 571.75,287.1 571.90,290.8 572.05,287.1 572.20,288.6 572.35,290.8 572.50,289.1 572.65,287.9 572.80,289.9 572.95,289.8 573.10,292.4 573.25,287.3 573.40,289.3 573.55,290.0 573.70,289.5 573.85,288.9 574.00,290.2 574.15,288.9 574.30,288.6 574.45,291.3 574.60,292.6 574.75,290.1 574.90,290.0 575.05,289.3 575.20,287.0 575.35,285.4 575.50,290.8 575.65,291.0 575.80,290.1 575.95,288.1 576.10,290.2 576.25,291.8 576.40,289.5 576.55,287.0 576.70,287.0 576.85,289.0 577.00,289.2 577.15,290.9 577.30,286.4 577.45,291.3 577.60,289.6 577.75,292.3 577.90,289.5 578.05,290.0 578.20,288.6 578.35,287.3 578.50,292.3 578.65,288.7 578.80,287.2 578.95,289.2 579.10,289.5 579.25,288.5 579.40,288.6 579.55,288.8 579.70,289.9 579.85,290.4 580.00,289.2 580.15,289.3 580.30,290.0 580.45,287.2 580.60,289.5 580.75,291.5 580.90,288.3 581.05,291.2 581.20,289.8 581.35,291.7 581.50,288.5 581.65,288.7 581.80,292.2 581.95,289.7 582.10,289.5 582.25,291.0 582.40,285.7 582.55,291.9 582.70,293.3 582.85,290.4 583.00,287.0 583.15,286.5 583.30,289.8 583.45,292.8 583.60,289.8 583.75,289.9 583.90,291.1 584.05,288.5 584.20,291.4 584.35,287.4 584.50,289.8 584.65,289.8 584.80,289.8 584.95,286.2 585.10,289.6 585.25,291.3 585.40,288.9 585.55,292.3 585.70,289.5 585.85,289.8 586.00,286.8 586.15,291.2 586.30,290.7 586.45,292.0 586.60,288.9 586.75,290.6 586.90,292.4 587.05,290.4 587.20,290.1 587.35,288.3 587.50,293.0 587.65,292.1 587.80,289.2 587.95,292.4 588.10,293.2 588.25,292.1 588.40,290.5 588.55,290.7 588.70,287.0 588.85,289.9 589.00,289.8 589.15,288.0 589.30,291.9 589.45,290.1 589.60,292.0 589.75,289.4 589.90,287.7 590.05,291.0 590.20,289.7 590.35,291.3 590.50,290.4 590.65,292.7 590.80,289.3 590.95,293.3 591.10,291.3 591.25,292.5 591.40,288.3 591.55,292.2 591.70,291.3 591.85,293.0 592.00,289.9 592.15,291.3 592.30,288.3 592.45,292.0 592.60,292.4 592.75,292.4 592.90,290.5 593.05,292.0 593.20,290.7 593.35,288.3 593.50,289.9 593.65,290.1 593.80,291.6 593.95,291.6 594.10,291.7 594.25,292.7 594.40,288.2 594.55,293.9 594.70,294.5 594.85,292.9 595.00,293.0 595.15,293.3 595.30,291.0 595.45,290.8 595.60,291.8 595.75,292.5 595.90,290.0 596.05,289.8 596.20,289.8 596.35,292.2 596.50,289.7 596.65,289.2 596.80,289.8 596.95,288.9 597.10,288.6 597.25,290.7 597.40,290.8 597.55,288.9 597.70,290.4 597.85,291.1 598.00,287.9 598.15,287.9 598.30,291.5 598.45,288.8 598.60,291.6 598.75,292.1 598.90,290.9 599.05,290.3 599.20,292.7 599.35,293.2 599.50,288.8 599.65,291.5 599.80,292.7 599.95,291.7 600.10,289.3 600.25,289.3 600.40,287.1 600.55,290.4 600.70,288.5 600.85,290.9 601.00,290.7 601.15,289.7 601.30,290.6 601.45,291.9 601.60,289.7 601.75,293.3 601.90,290.9 602.05,288.6 602.20,288.1 602.35,291.1 602.50,290.0 602.65,285.8 602.80,290.0 602.95,292.4 603.10,290.0 603.25,287.9 603.40,290.5 603.55,291.0 603.70,288.1 603.85,290.3 604.00,287.4 604.15,292.5 604.30,289.8 604.45,286.3 604.60,288.3 604.75,288.4 604.90,287.4 605.05,291.6 605.20,290.8 605.35,290.0 605.50,291.1 605.65,288.2 605.80,288.4 605.95,290.9 606.10,290.1 606.25,289.4 606.40,288.4 606.55,289.1 606.70,287.6 606.85,286.6 607.00,285.6 607.15,289.7 607.30,290.6 607.45,288.1 607.60,290.4 607.75,289.0 607.90,287.7 608.05,290.4 608.20,288.6 608.35,288.5 608.50,289.1 608.65,289.1 608.80,287.2 608.95,288.0 609.10,287.7 609.25,289.5 609.40,290.3 609.55,291.9 609.70,290.1 609.85,287.0 610.00,286.8 610.15,288.7 610.30,291.3 610.45,288.0 610.60,289.3 610.75,287.9 610.90,288.9 611.05,287.9 611.20,289.8 611.35,288.9 611.50,290.3 611.65,287.6 611.80,289.6 611.95,288.8 612.10,289.2 612.25,288.2 612.40,289.8 612.55,289.4 612.70,288.4 612.85,290.0 613.00,287.4 613.15,291.1 613.30,286.1 613.45,289.0 613.60,289.7 613.75,288.2 613.90,289.0 614.05,287.5 614.20,289.2 614.35,290.2 614.50,286.5 614.65,286.1 614.80,288.9 614.95,287.3 615.10,289.1 615.25,290.0 615.40,286.7 615.55,289.5 615.70,288.2 615.85,289.4 616.00,286.8 616.15,288.8 616.30,287.6 616.45,285.1 616.60,286.9 616.75,289.8 616.90,288.4 617.05,288.6 617.20,289.0 617.35,288.0 617.50,286.0 617.65,289.5 617.80,287.0 617.95,285.9 618.10,289.2 618.25,290.7 618.40,289.4 618.55,288.2 618.70,286.8 618.85,290.6 619.00,291.6 619.15,289.0 619.30,290.2 619.45,287.8 619.60,288.2 619.75,290.3 619.90,290.1 620.05,288.4 620.20,288.2 620.35,289.4 620.50,289.2 620.65,288.7 620.80,289.1 620.95,290.8 621.10,288.3 621.25,290.9 621.40,289.3 621.55,289.3 621.70,286.6 621.85,287.7 622.00,288.6 622.15,287.1 622.30,290.0 622.45,289.8 622.60,290.0 622.75,287.6 622.90,286.4 623.05,284.5 623.20,289.3 623.35,287.3 623.50,285.7 623.65,287.8 623.80,291.4 623.95,288.7 624.10,288.4 624.25,289.8 624.40,289.0 624.55,288.1 624.70,289.7 624.85,286.4 625.00,285.3 625.15,287.4 625.30,291.2 625.45,290.5 625.60,286.2 625.75,290.4 625.90,286.6 626.05,289.5 626.20,290.0 626.35,287.4 626.50,288.8 626.65,285.8 626.80,290.9 626.95,291.6 627.10,289.7 627.25,286.6 627.40,287.7 627.55,287.3 627.70,288.2 627.85,289.3 628.00,287.9 628.15,290.1 628.30,293.0 628.45,291.2 628.60,289.5 628.75,286.8 628.90,289.3 629.05,285.6 629.20,287.4 629.35,292.8 629.50,290.4 629.65,291.0 629.80,287.1 629.95,287.6 630.10,287.7 630.25,289.5 630.40,288.7 630.55,288.2 630.70,287.4 630.85,287.1 631.00,289.8 631.15,286.5 631.30,287.8 631.45,290.4 631.60,289.7 631.75,288.9 631.90,290.3 632.05,285.9 632.20,289.1 632.35,288.7 632.50,290.8 632.65,288.5 632.80,286.3 632.95,288.6 633.10,285.7 633.25,287.1 633.40,286.6 633.55,289.9 633.70,289.4 633.85,286.5 634.00,288.1 634.15,287.6 634.30,286.9 634.45,290.0 634.60,288.7 634.75,291.4 634.90,289.1 635.05,288.5 635.20,287.8 635.35,286.4 635.50,286.7 635.65,286.9 635.80,288.1 635.95,288.9 636.10,288.8 636.25,286.9 636.40,288.5 636.55,289.0 636.70,292.6 636.85,289.9 637.00,286.9 637.15,287.3 637.30,287.0 637.45,289.6 637.60,286.8 637.75,290.6 637.90,286.6 638.05,288.6 638.20,289.2 638.35,287.8 638.50,290.4 638.65,288.3 638.80,289.8 638.95,290.2 639.10,291.1 639.25,287.5 639.40,286.2 639.55,289.3 639.70,288.8 639.85,288.7 640.00,289.4 640.15,288.8 640.30,287.3 640.45,289.1 640.60,289.3 640.75,289.4 640.90,285.4 641.05,288.8 641.20,286.0 641.35,289.2 641.50,287.0 641.65,287.3 641.80,290.7 641.95,289.2 642.10,289.2 642.25,289.4 642.40,288.3 642.55,290.5 642.70,288.0 642.85,287.8 643.00,290.0 643.15,287.8 643.30,288.8 643.45,289.6 643.60,287.5 643.75,291.3 643.90,290.2 644.05,289.0 644.20,290.0 644.35,288.0 644.50,285.0 644.65,289.3 644.80,289.4 644.95,289.8 645.10,288.4 645.25,288.4 645.40,288.8 645.55,288.4 645.70,287.1 645.85,289.1 646.00,288.8 646.15,289.5 646.30,288.3 646.45,289.6 646.60,287.7 646.75,284.6 646.90,286.8 647.05,289.5 647.20,289.7 647.35,286.5 647.50,289.0 647.65,286.5 647.80,288.7 647.95,291.4 648.10,288.9 648.25,289.1 648.40,290.3 648.55,289.5 648.70,288.4 648.85,287.7 649.00,286.8 649.15,286.1 649.30,287.7 649.45,287.6 649.60,291.2 649.75,288.2 649.90,287.7 650.05,291.8 650.20,288.4 650.35,288.4 650.50,289.3 650.65,289.1 650.80,287.9 650.95,287.6 651.10,289.5 651.25,287.1 651.40,286.9 651.55,288.0 651.70,287.6 651.85,288.3 652.00,288.3 652.15,288.3 652.30,288.5 652.45,289.9 652.60,285.9 652.75,291.1 652.90,291.4 653.05,287.7 653.20,289.0 653.35,286.8 653.50,288.7 653.65,291.4 653.80,291.1 653.95,288.7 654.10,292.4 654.25,289.5 654.40,284.2 654.55,288.3 654.70,291.7 654.85,288.6 655.00,290.3 655.15,287.7 655.30,288.5 655.45,291.0 655.60,287.6 655.75,287.4 655.90,289.1 656.05,290.1 656.20,291.2 656.35,288.8 656.50,290.1 656.65,283.2 656.80,286.4 656.95,286.8 657.10,289.3 657.25,284.9 657.40,287.1 657.55,282.7 657.70,287.5 657.85,289.5 658.00,285.3 658.15,286.7 658.30,285.3 658.45,286.7 658.60,284.0 658.75,287.4 658.90,287.0 659.05,284.2 659.20,288.0 659.35,288.4 659.50,286.6 659.65,287.9 659.80,286.2 659.95,286.2 660.10,289.0 660.25,286.2 660.40,286.0 660.55,283.9 660.70,283.2 660.85,284.7 661.00,289.9 661.15,285.5 661.30,288.2 661.45,287.7 661.60,284.9 661.75,285.7 661.90,285.4 662.05,286.6 662.20,287.2 662.35,286.4 662.50,288.6 662.65,286.2 662.80,287.9 662.95,288.1 663.10,282.8 663.25,287.0 663.40,283.8 663.55,286.4 663.70,285.9 663.85,285.8 664.00,286.5 664.15,284.9 664.30,284.9 664.45,286.3 664.60,286.2 664.75,286.8 664.90,286.4 665.05,287.7 665.20,283.8 665.35,286.1 665.50,286.3 665.65,283.7 665.80,285.5 665.95,283.6 666.10,280.5 666.25,281.9 666.40,286.1 666.55,285.8 666.70,285.5 666.85,283.6 667.00,285.5 667.15,281.6 667.30,282.9 667.45,285.5 667.60,285.0 667.75,282.9 667.90,285.8 668.05,287.2 668.20,284.6 668.35,288.4 668.50,284.4 668.65,285.0 668.80,284.3 668.95,286.1 669.10,285.9 669.25,282.7 669.40,282.1 669.55,286.1 669.70,287.2 669.85,284.6 670.00,283.5 670.15,284.8 670.30,284.7 670.45,283.5 670.60,287.0 670.75,284.2 670.90,283.3 671.05,283.7 671.20,283.0 671.35,287.1 671.50,285.5 671.65,285.6 671.80,283.8 671.95,285.0 672.10,285.2 672.25,286.1 672.40,286.1 672.55,286.5 672.70,284.5 672.85,285.5 673.00,282.8 673.15,285.7 673.30,283.9 673.45,281.6 673.60,284.2 673.75,285.4 673.90,285.9 674.05,283.4 674.20,283.1 674.35,282.1 674.50,284.9 674.65,286.4 674.80,283.4 674.95,284.8" fill="none" stroke="#1270ba" stroke-width="1.4" stroke-linejoin="round"/><path d="M389.80,383.1 389.95,381.9 390.10,383.2 390.25,382.4 390.40,381.8 390.55,381.7 390.70,382.1 390.85,382.0 391.00,383.5 391.15,386.3 391.30,382.9 391.45,382.4 391.60,385.8 391.75,384.3 391.90,383.0 392.05,382.8 392.20,383.5 392.35,382.1 392.50,381.7 392.65,384.8 392.80,383.2 392.95,384.5 393.10,380.0 393.25,383.2 393.40,385.2 393.55,384.4 393.70,384.6 393.85,384.6 394.00,383.0 394.15,385.2 394.30,382.9 394.45,384.4 394.60,382.0 394.75,380.8 394.90,382.9 395.05,382.6 395.20,383.2 395.35,382.7 395.50,382.7 395.65,380.8 395.80,384.7 395.95,385.6 396.10,383.1 396.25,381.3 396.40,382.9 396.55,384.7 396.70,383.2 396.85,380.8 397.00,383.3 397.15,382.0 397.30,383.2 397.45,383.4 397.60,383.1 397.75,384.7 397.90,383.5 398.05,382.5 398.20,383.3 398.35,385.6 398.50,383.6 398.65,383.0 398.80,379.7 398.95,382.4 399.10,382.6 399.25,383.8 399.40,381.7 399.55,383.9 399.70,385.1 399.85,382.6 400.00,383.6 400.15,385.6 400.30,383.8 400.45,382.5 400.60,383.2 400.75,386.1 400.90,382.7 401.05,380.2 401.20,382.4 401.35,382.8 401.50,382.7 401.65,384.0 401.80,385.1 401.95,385.3 402.10,385.4 402.25,384.3 402.40,383.1 402.55,383.0 402.70,381.9 402.85,384.6 403.00,382.8 403.15,384.3 403.30,384.1 403.45,385.3 403.60,383.3 403.75,384.2 403.90,385.4 404.05,387.0 404.20,384.4 404.35,384.9 404.50,384.4 404.65,382.5 404.80,384.9 404.95,384.9 405.10,382.3 405.25,384.2 405.40,381.2 405.55,383.2 405.70,381.9 405.85,383.1 406.00,381.0 406.15,385.4 406.30,382.1 406.45,384.4 406.60,384.7 406.75,382.5 406.90,383.0 407.05,384.2 407.20,382.7 407.35,383.1 407.50,381.9 407.65,382.7 407.80,382.7 407.95,384.2 408.10,384.3 408.25,382.2 408.40,382.7 408.55,382.9 408.70,383.5 408.85,382.9 409.00,382.3 409.15,383.8 409.30,384.0 409.45,383.2 409.60,382.6 409.75,383.4 409.90,384.1 410.05,382.8 410.20,382.4 410.35,381.5 410.50,383.8 410.65,384.4 410.80,386.4 410.95,382.9 411.10,382.9 411.25,382.7 411.40,381.9 411.55,379.3 411.70,383.5 411.85,383.1 412.00,383.0 412.15,384.8 412.30,386.3 412.45,382.8 412.60,384.5 412.75,384.5 412.90,385.4 413.05,382.6 413.20,382.8 413.35,382.9 413.50,383.7 413.65,385.2 413.80,381.3 413.95,381.5 414.10,385.8 414.25,383.1 414.40,382.3 414.55,384.4 414.70,383.4 414.85,382.2 415.00,382.9 415.15,383.4 415.30,382.8 415.45,383.1 415.60,382.4 415.75,380.4 415.90,383.5 416.05,384.1 416.20,382.3 416.35,382.8 416.50,383.5 416.65,381.5 416.80,382.6 416.95,381.5 417.10,382.5 417.25,383.6 417.40,379.9 417.55,381.2 417.70,381.4 417.85,381.8 418.00,384.0 418.15,381.2 418.30,383.2 418.45,384.3 418.60,383.6 418.75,384.8 418.90,382.9 419.05,382.5 419.20,382.6 419.35,383.2 419.50,381.3 419.65,382.5 419.80,382.8 419.95,382.1 420.10,380.4 420.25,382.6 420.40,384.1 420.55,383.5 420.70,381.1 420.85,381.6 421.00,382.3 421.15,381.7 421.30,382.9 421.45,383.9 421.60,383.3 421.75,383.3 421.90,382.8 422.05,381.1 422.20,380.9 422.35,382.4 422.50,382.9 422.65,382.7 422.80,383.2 422.95,382.7 423.10,382.2 423.25,383.9 423.40,383.3 423.55,382.9 423.70,383.3 423.85,383.4 424.00,383.9 424.15,382.8 424.30,382.1 424.45,382.3 424.60,383.7 424.75,383.1 424.90,384.2 425.05,380.2 425.20,383.2 425.35,382.5 425.50,383.1 425.65,380.2 425.80,382.9 425.95,381.1 426.10,383.2 426.25,385.1 426.40,382.9 426.55,381.0 426.70,383.1 426.85,381.4 427.00,382.7 427.15,383.0 427.30,382.8 427.45,382.6 427.60,385.5 427.75,383.2 427.90,381.3 428.05,384.4 428.20,382.1 428.35,383.3 428.50,382.7 428.65,382.2 428.80,382.6 428.95,381.1 429.10,381.9 429.25,382.2 429.40,382.1 429.55,383.7 429.70,382.5 429.85,382.0 430.00,381.3 430.15,381.3 430.30,381.8 430.45,382.7 430.60,382.1 430.75,380.7 430.90,381.7 431.05,381.4 431.20,382.3 431.35,381.0 431.50,379.5 431.65,382.7 431.80,383.9 431.95,381.1 432.10,382.3 432.25,380.5 432.40,383.1 432.55,382.2 432.70,382.1 432.85,380.8 433.00,381.5 433.15,381.4 433.30,381.7 433.45,383.4 433.60,383.9 433.75,380.8 433.90,383.2 434.05,378.2 434.20,383.4 434.35,382.4 434.50,380.3 434.65,380.5 434.80,379.1 434.95,382.8 435.10,382.8 435.25,380.2 435.40,382.4 435.55,379.8 435.70,382.7 435.85,381.8 436.00,380.2 436.15,382.1 436.30,381.1 436.45,379.0 436.60,382.5 436.75,381.2 436.90,379.6 437.05,381.6 437.20,382.2 437.35,380.1 437.50,381.5 437.65,383.4 437.80,382.0 437.95,381.7 438.10,380.6 438.25,383.3 438.40,382.3 438.55,382.5 438.70,382.0 438.85,381.4 439.00,380.9 439.15,379.8 439.30,381.3 439.45,381.9 439.60,382.1 439.75,381.0 439.90,380.7 440.05,381.7 440.20,380.0 440.35,379.0 440.50,380.8 440.65,380.4 440.80,380.2 440.95,380.6 441.10,379.7 441.25,380.3 441.40,380.1 441.55,379.5 441.70,380.7 441.85,380.9 442.00,381.7 442.15,380.7 442.30,382.2 442.45,379.7 442.60,381.2 442.75,381.7 442.90,382.4 443.05,379.7 443.20,380.1 443.35,380.3 443.50,380.5 443.65,380.6 443.80,380.0 443.95,379.7 444.10,378.4 444.25,380.6 444.40,380.8 444.55,381.4 444.70,378.3 444.85,382.7 445.00,377.6 445.15,379.0 445.30,379.6 445.45,380.3 445.60,382.0 445.75,379.6 445.90,382.5 446.05,379.3 446.20,382.6 446.35,379.7 446.50,378.9 446.65,378.2 446.80,380.9 446.95,379.4 447.10,378.7 447.25,378.0 447.40,379.6 447.55,379.6 447.70,380.7 447.85,381.4 448.00,379.1 448.15,379.2 448.30,379.1 448.45,379.5 448.60,381.3 448.75,382.0 448.90,379.5 449.05,379.9 449.20,377.7 449.35,377.0 449.50,379.0 449.65,378.7 449.80,377.6 449.95,378.1 450.10,378.9 450.25,381.1 450.40,381.5 450.55,379.5 450.70,381.1 450.85,379.3 451.00,380.5 451.15,380.8 451.30,379.9 451.45,380.4 451.60,379.5 451.75,378.6 451.90,378.4 452.05,379.2 452.20,380.0 452.35,378.8 452.50,377.8 452.65,377.1 452.80,378.4 452.95,378.1 453.10,377.4 453.25,378.8 453.40,378.3 453.55,379.3 453.70,377.8 453.85,379.4 454.00,378.8 454.15,379.2 454.30,378.1 454.45,379.2 454.60,380.3 454.75,377.0 454.90,378.2 455.05,377.4 455.20,378.2 455.35,379.3 455.50,379.1 455.65,378.6 455.80,376.1 455.95,380.2 456.10,378.0 456.25,379.9 456.40,381.2 456.55,380.1 456.70,380.1 456.85,379.7 457.00,376.7 457.15,377.8 457.30,377.0 457.45,377.6 457.60,377.8 457.75,376.9 457.90,377.8 458.05,377.1 458.20,378.9 458.35,377.3 458.50,379.3 458.65,380.3 458.80,377.9 458.95,376.3 459.10,376.9 459.25,378.2 459.40,377.1 459.55,379.1 459.70,377.9 459.85,377.2 460.00,377.4 460.15,379.4 460.30,374.2 460.45,376.8 460.60,377.5 460.75,378.9 460.90,377.1 461.05,375.5 461.20,377.1 461.35,376.9 461.50,377.4 461.65,376.2 461.80,378.0 461.95,376.6 462.10,377.6 462.25,379.2 462.40,375.4 462.55,375.6 462.70,375.6 462.85,379.3 463.00,376.7 463.15,376.4 463.30,377.2 463.45,377.3 463.60,375.8 463.75,373.8 463.90,375.3 464.05,375.5 464.20,376.0 464.35,375.8 464.50,376.0 464.65,373.8 464.80,376.0 464.95,375.1 465.10,376.8 465.25,375.9 465.40,376.4 465.55,377.1 465.70,377.4 465.85,377.6 466.00,375.0 466.15,375.5 466.30,376.5 466.45,376.5 466.60,374.2 466.75,375.3 466.90,378.2 467.05,373.3 467.20,372.4 467.35,373.9 467.50,375.9 467.65,376.7 467.80,375.5 467.95,375.0 468.10,373.2 468.25,375.6 468.40,377.1 468.55,376.3 468.70,375.9 468.85,374.4 469.00,376.4 469.15,376.3 469.30,373.2 469.45,373.1 469.60,375.0 469.75,372.1 469.90,374.9 470.05,373.9 470.20,373.1 470.35,375.3 470.50,372.3 470.65,373.4 470.80,373.6 470.95,373.0 471.10,375.2 471.25,372.7 471.40,373.2 471.55,374.8 471.70,373.1 471.85,375.3 472.00,376.4 472.15,373.1 472.30,375.3 472.45,373.7 472.60,373.6 472.75,373.8 472.90,374.4 473.05,374.0 473.20,374.3 473.35,374.6 473.50,372.5 473.65,372.7 473.80,372.6 473.95,373.5 474.10,374.8 474.25,374.6 474.40,377.0 474.55,375.0 474.70,371.4 474.85,372.3 475.00,371.3 475.15,371.0 475.30,371.4 475.45,372.8 475.60,372.9 475.75,371.1 475.90,372.4 476.05,374.8 476.20,370.2 476.35,372.5 476.50,370.1 476.65,370.7 476.80,373.2 476.95,374.2 477.10,372.0 477.25,373.6 477.40,369.5 477.55,372.6 477.70,368.4 477.85,371.6 478.00,372.0 478.15,371.4 478.30,372.5 478.45,370.2 478.60,371.8 478.75,371.3 478.90,371.5 479.05,368.6 479.20,372.8 479.35,370.6 479.50,373.3 479.65,369.9 479.80,370.8 479.95,371.4 480.10,371.5 480.25,370.4 480.40,368.8 480.55,371.7 480.70,370.4 480.85,372.7 481.00,371.3 481.15,369.0 481.30,372.0 481.45,372.4 481.60,371.6 481.75,369.4 481.90,367.3 482.05,370.6 482.20,371.0 482.35,369.9 482.50,368.6 482.65,370.2 482.80,368.2 482.95,371.9 483.10,368.9 483.25,367.3 483.40,369.3 483.55,368.0 483.70,369.4 483.85,368.8 484.00,367.6 484.15,369.2 484.30,367.3 484.45,367.4 484.60,368.7 484.75,370.2 484.90,365.9 485.05,370.3 485.20,367.1 485.35,369.9 485.50,367.8 485.65,366.0 485.80,368.7 485.95,366.0 486.10,367.2 486.25,367.1 486.40,367.5 486.55,368.1 486.70,367.4 486.85,364.9 487.00,366.3 487.15,363.1 487.30,366.9 487.45,366.7 487.60,369.2 487.75,367.3 487.90,367.4 488.05,366.5 488.20,364.9 488.35,366.1 488.50,367.9 488.65,366.9 488.80,368.2 488.95,366.6 489.10,367.1 489.25,365.9 489.40,365.8 489.55,366.9 489.70,364.4 489.85,366.5 490.00,364.3 490.15,364.8 490.30,362.6 490.45,364.1 490.60,364.9 490.75,366.4 490.90,363.5 491.05,364.2 491.20,364.4 491.35,362.0 491.50,364.1 491.65,363.5 491.80,363.6 491.95,365.3 492.10,363.1 492.25,362.9 492.40,361.5 492.55,362.9 492.70,366.5 492.85,364.5 493.00,362.8 493.15,361.1 493.30,361.8 493.45,362.3 493.60,362.8 493.75,362.1 493.90,367.1 494.05,365.3 494.20,362.2 494.35,363.2 494.50,363.5 494.65,362.2 494.80,360.0 494.95,364.9 495.10,361.6 495.25,361.7 495.40,360.2 495.55,363.1 495.70,359.6 495.85,362.6 496.00,360.8 496.15,360.2 496.30,358.5 496.45,361.0 496.60,361.1 496.75,359.1 496.90,361.9 497.05,358.7 497.20,360.3 497.35,359.8 497.50,357.2 497.65,360.3 497.80,359.1 497.95,360.2 498.10,357.7 498.25,360.4 498.40,357.6 498.55,358.0 498.70,360.4 498.85,358.7 499.00,360.0 499.15,358.7 499.30,358.8 499.45,358.8 499.60,360.4 499.75,360.3 499.90,356.8 500.05,359.3 500.20,357.5 500.35,357.7 500.50,355.6 500.65,358.9 500.80,360.5 500.95,358.3 501.10,359.5 501.25,356.8 501.40,357.0 501.55,353.5 501.70,357.4 501.85,355.0 502.00,356.8 502.15,355.5 502.30,353.7 502.45,356.4 502.60,352.0 502.75,353.2 502.90,353.8 503.05,354.2 503.20,356.0 503.35,351.6 503.50,353.8 503.65,352.4 503.80,354.1 503.95,353.6 504.10,354.2 504.25,354.6 504.40,354.5 504.55,353.1 504.70,352.6 504.85,352.6 505.00,354.0 505.15,349.7 505.30,351.5 505.45,355.3 505.60,349.7 505.75,347.3 505.90,350.3 506.05,353.3 506.20,346.7 506.35,350.8 506.50,350.7 506.65,348.2 506.80,348.4 506.95,347.7 507.10,348.3 507.25,350.7 507.40,349.7 507.55,351.5 507.70,349.7 507.85,352.3 508.00,348.6 508.15,349.5 508.30,350.5 508.45,349.5 508.60,350.5 508.75,349.0 508.90,350.4 509.05,345.1 509.20,346.6 509.35,347.3 509.50,348.4 509.65,346.2 509.80,348.6 509.95,344.7 510.10,344.7 510.25,347.7 510.40,345.0 510.55,342.6 510.70,344.5 510.85,350.0 511.00,343.3 511.15,344.3 511.30,346.3 511.45,343.3 511.60,348.5 511.75,343.0 511.90,345.8 512.05,344.3 512.20,344.0 512.35,343.5 512.50,346.9 512.65,344.8 512.80,341.7 512.95,345.0 513.10,341.0 513.25,342.9 513.40,338.4 513.55,344.8 513.70,343.1 513.85,340.7 514.00,340.3 514.15,344.6 514.30,344.8 514.45,342.2 514.60,341.9 514.75,338.7 514.90,340.2 515.05,340.9 515.20,334.3 515.35,338.8 515.50,335.3 515.65,335.1 515.80,337.4 515.95,340.1 516.10,338.2 516.25,338.5 516.40,339.2 516.55,337.5 516.70,336.8 516.85,338.2 517.00,339.4 517.15,335.9 517.30,336.3 517.45,337.8 517.60,338.9 517.75,336.8 517.90,336.5 518.05,337.3 518.20,335.2 518.35,334.5 518.50,338.3 518.65,337.5 518.80,335.5 518.95,335.6 519.10,337.2 519.25,335.5 519.40,334.8 519.55,337.0 519.70,334.7 519.85,333.7 520.00,334.0 520.15,332.3 520.30,334.7 520.45,334.5 520.60,335.5 520.75,334.3 520.90,334.3 521.05,333.4 521.20,332.4 521.35,332.8 521.50,333.1 521.65,331.9 521.80,335.9 521.95,332.4 522.10,331.6 522.25,332.6 522.40,334.1 522.55,329.6 522.70,330.6 522.85,328.0 523.00,329.9 523.15,328.1 523.30,330.4 523.45,325.6 523.60,329.9 523.75,329.3 523.90,327.1 524.05,326.4 524.20,328.6 524.35,332.7 524.50,325.9 524.65,323.2 524.80,325.6 524.95,328.9 525.10,327.0 525.25,326.0 525.40,324.0 525.55,325.9 525.70,326.2 525.85,322.1 526.00,327.4 526.15,328.0 526.30,324.3 526.45,320.5 526.60,329.4 526.75,324.5 526.90,324.6 527.05,323.9 527.20,321.4 527.35,318.3 527.50,321.7 527.65,325.4 527.80,324.2 527.95,322.8 528.10,319.3 528.25,323.6 528.40,320.7 528.55,322.5 528.70,325.8 528.85,324.6 529.00,321.5 529.15,318.2 529.30,322.5 529.45,320.4 529.60,322.2 529.75,321.5 529.90,323.4 530.05,319.3 530.20,317.7 530.35,320.7 530.50,316.4 530.65,316.2 530.80,319.7 530.95,321.1 531.10,318.6 531.25,316.8 531.40,314.8 531.55,312.3 531.70,318.8 531.85,316.1 532.00,314.6 532.15,316.6 532.30,314.0 532.45,317.7 532.60,312.3 532.75,318.5 532.90,315.5 533.05,315.2 533.20,315.8 533.35,311.9 533.50,314.9 533.65,313.9 533.80,312.6 533.95,314.7 534.10,312.1 534.25,316.3 534.40,311.9 534.55,313.5 534.70,312.3 534.85,314.1 535.00,313.5 535.15,309.5 535.30,314.0 535.45,312.3 535.60,314.7 535.75,310.9 535.90,314.8 536.05,313.7 536.20,309.9 536.35,309.3 536.50,312.3 536.65,311.5 536.80,309.6 536.95,313.4 537.10,311.6 537.25,311.2 537.40,309.0 537.55,307.5 537.70,307.1 537.85,302.3 538.00,308.0 538.15,308.6 538.30,303.8 538.45,308.7 538.60,307.5 538.75,305.1 538.90,304.1 539.05,305.8 539.20,312.5 539.35,310.5 539.50,306.9 539.65,309.9 539.80,312.4 539.95,302.3 540.10,311.7 540.25,304.3 540.40,308.9 540.55,308.2 540.70,306.7 540.85,309.2 541.00,305.8 541.15,305.4 541.30,305.0 541.45,300.3 541.60,306.1 541.75,305.1 541.90,302.4 542.05,305.8 542.20,303.4 542.35,307.2 542.50,309.8 542.65,308.0 542.80,307.0 542.95,305.1 543.10,309.9 543.25,306.4 543.40,299.1 543.55,304.7 543.70,307.4 543.85,308.1 544.00,306.8 544.15,308.7 544.30,309.2 544.45,300.9 544.60,305.4 544.75,304.4 544.90,301.7 545.05,301.1 545.20,307.3 545.35,305.6 545.50,306.2 545.65,303.6 545.80,306.6 545.95,301.4 546.10,304.2 546.25,298.7 546.40,305.8 546.55,304.6 546.70,303.8 546.85,303.6 547.00,303.8 547.15,304.8 547.30,304.3 547.45,305.5 547.60,303.8 547.75,302.4 547.90,302.4 548.05,306.2 548.20,300.1 548.35,307.4 548.50,305.6 548.65,301.7 548.80,306.3 548.95,306.6 549.10,308.5 549.25,309.3 549.40,304.7 549.55,300.7 549.70,307.8 549.85,308.0 550.00,308.0 550.15,302.8 550.30,309.1 550.45,307.1 550.60,304.9 550.75,308.4 550.90,310.2 551.05,303.6 551.20,314.4 551.35,311.4 551.50,312.8 551.65,311.1 551.80,306.6 551.95,311.1 552.10,306.5 552.25,315.3 552.40,310.7 552.55,312.0 552.70,308.2 552.85,313.9 553.00,314.9 553.15,311.7 553.30,312.5 553.45,310.1 553.60,312.2 553.75,311.7 553.90,313.8 554.05,314.0 554.20,316.4 554.35,316.8 554.50,314.0 554.65,311.3 554.80,316.9 554.95,318.5 555.10,315.8 555.25,317.4 555.40,314.1 555.55,319.4 555.70,319.4 555.85,315.5 556.00,317.7 556.15,316.3 556.30,319.2 556.45,320.3 556.60,322.2 556.75,320.6 556.90,321.1 557.05,322.0 557.20,320.4 557.35,321.5 557.50,320.1 557.65,323.0 557.80,322.0 557.95,318.1 558.10,321.6 558.25,323.2 558.40,323.1 558.55,321.5 558.70,321.4 558.85,323.6 559.00,324.7 559.15,327.1 559.30,326.3 559.45,325.6 559.60,328.4 559.75,330.3 559.90,328.0 560.05,332.3 560.20,333.5 560.35,329.4 560.50,332.5 560.65,332.0 560.80,331.7 560.95,334.2 561.10,334.5 561.25,333.3 561.40,339.6 561.55,339.3 561.70,340.0 561.85,341.8 562.00,344.2 562.15,344.7 562.30,345.3 562.45,348.0 562.60,345.8 562.75,352.1 562.90,351.0 563.05,353.7 563.20,354.1 563.35,356.9 563.50,360.2 563.65,362.6 563.80,366.8 563.95,367.9 564.10,367.6 564.25,373.9 564.40,373.4 564.55,376.4 564.70,377.0 564.85,375.6 565.00,376.6 565.15,376.1 565.30,379.0 565.45,377.5 565.60,381.9 565.75,381.0 565.90,380.8 566.05,380.1 566.20,380.2 566.35,379.9 566.50,377.3 566.65,380.1 566.80,379.8 566.95,381.5 567.10,379.1 567.25,381.1 567.40,381.9 567.55,381.9 567.70,380.1 567.85,381.1 568.00,380.3 568.15,381.1 568.30,381.9 568.45,381.0 568.60,381.7 568.75,381.4 568.90,382.6 569.05,382.4 569.20,381.7 569.35,382.3 569.50,381.0 569.65,382.3 569.80,381.5 569.95,382.9 570.10,381.8 570.25,383.0 570.40,381.4 570.55,380.0 570.70,380.7 570.85,381.4 571.00,381.4 571.15,381.8 571.30,380.7 571.45,380.8 571.60,379.2 571.75,382.3 571.90,382.6 572.05,382.7 572.20,379.5 572.35,381.0 572.50,380.9 572.65,381.6 572.80,380.2 572.95,383.8 573.10,382.6 573.25,381.1 573.40,380.9 573.55,379.3 573.70,382.9 573.85,382.4 574.00,382.6 574.15,383.2 574.30,381.1 574.45,379.5 574.60,385.0 574.75,381.7 574.90,383.0 575.05,380.2 575.20,382.6 575.35,383.7 575.50,381.9 575.65,379.8 575.80,380.8 575.95,379.3 576.10,381.1 576.25,382.6 576.40,382.3 576.55,381.1 576.70,381.8 576.85,381.9 577.00,380.2 577.15,380.9 577.30,382.6 577.45,384.5 577.60,382.4 577.75,382.5 577.90,380.8 578.05,383.2 578.20,380.4 578.35,382.8 578.50,383.1 578.65,382.5 578.80,381.8 578.95,381.6 579.10,384.2 579.25,383.8 579.40,383.0 579.55,383.8 579.70,381.9 579.85,382.4 580.00,381.6 580.15,381.4 580.30,381.9 580.45,383.7 580.60,381.3 580.75,381.7 580.90,382.4 581.05,384.3 581.20,381.6 581.35,386.2 581.50,382.7 581.65,382.6 581.80,383.1 581.95,382.6 582.10,382.5 582.25,381.4 582.40,384.8 582.55,380.9 582.70,383.2 582.85,383.4 583.00,382.3 583.15,383.2 583.30,383.1 583.45,383.3 583.60,380.7 583.75,384.3 583.90,384.0 584.05,383.1 584.20,382.1 584.35,382.6 584.50,380.3 584.65,384.3 584.80,380.7 584.95,384.4 585.10,382.9 585.25,384.7 585.40,381.8 585.55,382.2 585.70,382.8 585.85,380.3 586.00,381.6 586.15,383.7 586.30,385.4 586.45,381.4 586.60,383.2 586.75,381.0 586.90,382.0 587.05,382.7 587.20,381.4 587.35,381.9 587.50,381.9 587.65,382.4 587.80,383.2 587.95,383.9 588.10,382.6 588.25,382.5 588.40,382.6 588.55,382.5 588.70,383.8 588.85,384.4 589.00,384.4 589.15,381.3 589.30,381.7 589.45,382.4 589.60,383.1 589.75,384.2 589.90,382.4 590.05,381.2 590.20,384.1 590.35,384.3 590.50,383.0 590.65,382.8 590.80,381.7 590.95,382.5 591.10,380.8 591.25,382.3 591.40,382.4 591.55,383.1 591.70,383.3 591.85,381.0 592.00,381.9 592.15,382.3 592.30,383.7 592.45,381.6 592.60,383.5 592.75,383.4 592.90,382.1 593.05,384.3 593.20,381.5 593.35,383.3 593.50,382.2 593.65,382.9 593.80,383.3 593.95,385.1 594.10,381.1 594.25,385.1 594.40,381.8 594.55,381.1 594.70,383.6 594.85,383.2 595.00,384.2 595.15,382.4 595.30,383.7 595.45,381.0 595.60,382.1 595.75,381.4 595.90,380.9 596.05,382.5 596.20,385.4 596.35,382.0 596.50,383.8 596.65,382.2 596.80,384.0 596.95,381.1 597.10,384.1 597.25,382.9 597.40,381.3 597.55,381.0 597.70,383.7 597.85,382.7 598.00,380.8 598.15,380.6 598.30,381.6 598.45,381.0 598.60,382.3 598.75,384.9 598.90,383.0 599.05,381.2 599.20,383.1 599.35,382.3 599.50,381.9 599.65,383.2 599.80,380.0 599.95,381.9 600.10,386.0 600.25,381.8 600.40,383.2 600.55,383.6 600.70,381.7 600.85,381.9 601.00,384.8 601.15,382.7 601.30,382.0 601.45,381.4 601.60,384.0 601.75,383.8 601.90,382.3 602.05,383.5 602.20,382.4 602.35,382.0 602.50,381.6 602.65,383.6 602.80,381.7 602.95,382.1 603.10,383.2 603.25,383.8 603.40,380.0 603.55,382.2 603.70,382.6 603.85,382.1 604.00,379.0 604.15,382.5 604.30,381.2 604.45,383.3 604.60,383.8 604.75,381.9 604.90,383.2 605.05,381.7 605.20,383.5 605.35,383.2 605.50,382.2 605.65,382.5 605.80,380.9 605.95,382.0 606.10,379.5 606.25,383.0 606.40,382.1 606.55,379.5 606.70,381.5 606.85,381.8 607.00,384.3 607.15,382.3 607.30,383.1 607.45,382.8 607.60,380.8 607.75,382.7 607.90,384.2 608.05,383.3 608.20,380.9 608.35,381.3 608.50,383.2 608.65,385.0 608.80,381.1 608.95,382.5 609.10,384.7 609.25,382.8 609.40,383.4 609.55,381.2 609.70,381.3 609.85,380.0 610.00,383.2 610.15,383.0 610.30,384.9 610.45,380.8 610.60,384.2 610.75,382.6 610.90,382.9 611.05,380.6 611.20,382.9 611.35,383.1 611.50,384.2 611.65,383.3 611.80,383.3 611.95,382.3 612.10,384.5 612.25,385.0 612.40,383.9 612.55,381.0 612.70,381.9 612.85,382.0 613.00,385.2 613.15,382.0 613.30,383.7 613.45,383.5 613.60,383.1 613.75,382.3 613.90,383.5 614.05,384.8 614.20,383.3 614.35,381.4 614.50,383.0 614.65,384.3 614.80,384.1 614.95,381.0 615.10,383.5 615.25,384.1 615.40,383.0 615.55,381.9 615.70,382.6 615.85,382.0 616.00,382.6 616.15,381.9 616.30,388.3 616.45,381.0 616.60,381.0 616.75,381.8 616.90,382.6 617.05,380.3 617.20,380.0 617.35,382.3 617.50,380.7 617.65,383.0 617.80,382.0 617.95,383.9 618.10,382.5 618.25,382.7 618.40,383.5 618.55,383.6 618.70,381.5 618.85,382.8 619.00,381.5 619.15,383.1 619.30,381.1 619.45,380.2 619.60,383.2 619.75,378.4 619.90,383.9 620.05,381.8 620.20,381.8 620.35,383.6 620.50,380.8 620.65,383.2 620.80,384.0 620.95,381.0 621.10,380.9 621.25,382.6 621.40,382.7 621.55,382.2 621.70,381.9 621.85,383.0 622.00,383.5 622.15,383.5 622.30,383.2 622.45,383.6 622.60,382.6 622.75,384.6 622.90,382.5 623.05,381.9 623.20,383.5 623.35,383.2 623.50,382.3 623.65,383.0 623.80,380.7 623.95,381.3 624.10,383.1 624.25,383.6 624.40,383.7 624.55,382.4 624.70,382.4 624.85,384.2 625.00,380.1 625.15,380.5 625.30,381.8 625.45,380.5 625.60,382.5 625.75,382.1 625.90,380.6 626.05,383.9 626.20,382.1 626.35,382.0 626.50,383.9 626.65,381.4 626.80,380.8 626.95,385.8 627.10,380.3 627.25,383.0 627.40,382.4 627.55,381.3 627.70,381.4 627.85,381.8 628.00,384.6 628.15,381.6 628.30,382.7 628.45,382.3 628.60,384.8 628.75,383.5 628.90,382.8 629.05,381.8 629.20,384.0 629.35,383.7 629.50,383.8 629.65,382.1 629.80,381.5 629.95,381.3 630.10,382.1 630.25,380.9 630.40,383.8 630.55,385.0 630.70,382.1 630.85,380.7 631.00,382.4 631.15,381.7 631.30,382.0 631.45,382.8 631.60,384.0 631.75,383.3 631.90,381.3 632.05,381.8 632.20,385.4 632.35,381.9 632.50,381.9 632.65,381.3 632.80,380.8 632.95,382.2 633.10,383.3 633.25,380.2 633.40,383.5 633.55,381.8 633.70,383.0 633.85,380.7 634.00,380.7 634.15,382.0 634.30,381.3 634.45,381.8 634.60,381.5 634.75,382.7 634.90,379.1 635.05,382.0 635.20,383.6 635.35,382.4 635.50,382.0 635.65,383.2 635.80,382.2 635.95,382.3 636.10,382.8 636.25,383.5 636.40,383.2 636.55,381.8 636.70,380.4 636.85,383.7 637.00,381.8 637.15,380.7 637.30,381.2 637.45,381.1 637.60,382.2 637.75,381.2 637.90,383.0 638.05,384.0 638.20,383.2 638.35,381.8 638.50,382.1 638.65,382.3 638.80,383.0 638.95,381.2 639.10,383.1 639.25,381.6 639.40,381.9 639.55,381.6 639.70,383.8 639.85,382.5 640.00,385.0 640.15,381.2 640.30,382.7 640.45,379.4 640.60,382.3 640.75,382.6 640.90,380.3 641.05,380.8 641.20,381.3 641.35,381.2 641.50,384.3 641.65,382.2 641.80,380.7 641.95,382.9 642.10,383.0 642.25,383.1 642.40,382.7 642.55,381.1 642.70,382.3 642.85,382.7 643.00,382.6 643.15,381.2 643.30,383.0 643.45,381.9 643.60,381.7 643.75,381.3 643.90,380.8 644.05,380.6 644.20,379.5 644.35,381.8 644.50,380.2 644.65,381.9 644.80,382.8 644.95,384.6 645.10,382.8 645.25,382.1 645.40,381.8 645.55,381.9 645.70,384.6 645.85,381.0 646.00,383.0 646.15,383.5 646.30,383.9 646.45,383.6 646.60,383.0 646.75,381.0 646.90,382.8 647.05,381.7 647.20,382.4 647.35,380.9 647.50,383.9 647.65,380.6 647.80,382.1 647.95,380.3 648.10,380.9 648.25,382.5 648.40,380.6 648.55,381.1 648.70,381.1 648.85,378.8 649.00,377.7 649.15,380.8 649.30,380.6 649.45,380.7 649.60,380.8 649.75,380.4 649.90,380.8 650.05,380.3 650.20,382.1 650.35,381.7 650.50,381.8 650.65,381.7 650.80,381.2 650.95,380.3 651.10,382.0 651.25,382.9 651.40,382.5 651.55,382.9 651.70,382.6 651.85,383.4 652.00,381.9 652.15,382.7 652.30,383.3 652.45,382.4 652.60,380.0 652.75,382.6 652.90,382.6 653.05,380.2 653.20,381.6 653.35,382.3 653.50,380.6 653.65,381.8 653.80,380.2 653.95,381.6 654.10,380.6 654.25,379.9 654.40,379.0 654.55,380.3 654.70,377.9 654.85,379.5 655.00,377.7 655.15,379.6 655.30,382.1 655.45,380.3 655.60,383.8 655.75,382.1 655.90,381.6 656.05,381.2 656.20,380.6 656.35,380.0 656.50,381.5 656.65,380.3 656.80,379.6 656.95,379.6 657.10,381.6 657.25,382.6 657.40,385.1 657.55,380.1 657.70,383.5 657.85,379.1 658.00,381.5 658.15,381.8 658.30,379.9 658.45,381.0 658.60,380.5 658.75,380.4 658.90,379.9 659.05,380.3 659.20,381.6 659.35,379.7 659.50,380.8 659.65,381.2 659.80,379.2 659.95,380.3 660.10,379.5 660.25,382.2 660.40,382.2 660.55,380.5 660.70,380.0 660.85,378.5 661.00,381.9 661.15,380.1 661.30,378.8 661.45,380.0 661.60,380.0 661.75,381.6 661.90,380.9 662.05,381.1 662.20,381.8 662.35,379.4 662.50,379.8 662.65,380.0 662.80,380.1 662.95,381.0 663.10,378.9 663.25,377.6 663.40,381.5 663.55,378.4 663.70,381.5 663.85,378.5 664.00,382.5 664.15,380.7 664.30,379.7 664.45,381.1 664.60,380.3 664.75,379.6 664.90,379.4 665.05,380.0 665.20,379.5 665.35,381.3 665.50,379.7 665.65,379.0 665.80,378.4 665.95,377.7 666.10,377.3 666.25,379.1 666.40,377.1 666.55,379.6 666.70,377.6 666.85,381.1 667.00,377.1 667.15,377.6 667.30,377.4 667.45,378.7 667.60,378.6 667.75,378.0 667.90,376.5 668.05,378.0 668.20,376.8 668.35,379.1 668.50,376.9 668.65,377.3 668.80,378.6 668.95,376.3 669.10,376.7 669.25,377.8 669.40,377.1 669.55,377.7 669.70,378.7 669.85,378.6 670.00,378.2 670.15,379.2 670.30,376.9 670.45,378.9 670.60,376.5 670.75,377.7 670.90,375.9 671.05,377.9 671.20,377.1 671.35,378.2 671.50,375.6 671.65,377.1 671.80,377.4 671.95,376.8 672.10,379.5 672.25,375.9 672.40,377.9 672.55,376.2 672.70,377.4 672.85,378.0 673.00,377.6 673.15,375.7 673.30,378.3 673.45,381.5 673.60,380.5 673.75,379.8 673.90,379.5 674.05,379.0 674.20,378.3 674.35,377.8 674.50,379.2 674.65,378.3 674.80,377.8 674.95,377.0" fill="none" stroke="#07845a" stroke-width="1.3" stroke-linejoin="round"/>
<text x="13.3" y="14.9" style="font-size:18px" textLength="17.5" lengthAdjust="spacing">a)</text>
<text x="359.2" y="14.9" style="font-size:18px" textLength="17.2" lengthAdjust="spacing">b)</text>
<text x="136.2" y="14.2" style="font-size:16.6px" textLength="8.3" lengthAdjust="spacingAndGlyphs">E</text>
<text x="144.2" y="18.3" style="font-size:11.5px" textLength="28.2" lengthAdjust="spacingAndGlyphs">pump</text>
<text x="173.1" y="14.2" style="font-size:16.5px" textLength="65.6" lengthAdjust="spacingAndGlyphs">=2.33 eV</text>
<text x="473.6" y="13.7" style="font-size:16.6px" textLength="8.3" lengthAdjust="spacingAndGlyphs">E</text>
<text x="481.6" y="17.8" style="font-size:11.5px" textLength="28.4" lengthAdjust="spacingAndGlyphs">pump</text>
<text x="514.1" y="13.7" style="font-size:16.5px" textLength="64.2" lengthAdjust="spacingAndGlyphs">=1.96 eV</text>
<text x="75.5" y="60.8" class="lb" textLength="48.3" lengthAdjust="spacingAndGlyphs">Energy</text>
<text x="68.8" y="78.5" class="lb" textLength="55.1" lengthAdjust="spacingAndGlyphs">Splitting</text>
<text x="554.0" y="58.6" class="lb" textLength="48.0" lengthAdjust="spacingAndGlyphs">Energy</text>
<text x="554.3" y="76.0" class="lb" textLength="54.7" lengthAdjust="spacingAndGlyphs">Splitting</text>
<line x1="130.3" y1="60.4" x2="153.5" y2="60.4" stroke="#7a7a7a" stroke-width="1"/>
<path d="M158.3,60.4 L153.1,57.8 L153.1,63.0 Z" fill="#111"/>
<line x1="527.5" y1="60.4" x2="551" y2="60.4" stroke="#7a7a7a" stroke-width="1"/>
<path d="M523.8,60.4 L528.6,57.9 L528.6,62.9 Z" fill="#111"/>
<text x="206.9" y="101.9" class="bd" textLength="122.8" lengthAdjust="spacingAndGlyphs">WSe<tspan dy="3.9" style="font-size:10.6px">2</tspan><tspan dy="-3.9">/Nanocavity</tspan></text>
<text x="209.8" y="185.7" class="bd" style="fill:#e82846" textLength="97.6" lengthAdjust="spacingAndGlyphs">WSe<tspan dy="3.9" style="font-size:10.6px">2</tspan><tspan dy="-3.9">/Au Film</tspan></text>
<text x="206.1" y="284.6" class="bd" style="fill:#1270ba" textLength="108.6" lengthAdjust="spacingAndGlyphs">WSe<tspan dy="3.9" style="font-size:10.6px">2</tspan><tspan dy="-3.9">/Sapphire</tspan></text>
<text x="49.3" y="364.0" class="bd" style="fill:#07845a" textLength="118.2" lengthAdjust="spacingAndGlyphs">Pure Nanocavity</text>
<text transform="translate(15.3,342.5) rotate(-90)" style="font-size:18.2px">Normalized PL Intensity (a.u.)</text>
<text x="145.3" y="446" style="font-size:15.7px">Energy (eV)</text>
<text x="484.0" y="446.4" style="font-size:15.7px" textLength="85" lengthAdjust="spacingAndGlyphs">Energy (eV)</text>
</svg>
</body></html>
